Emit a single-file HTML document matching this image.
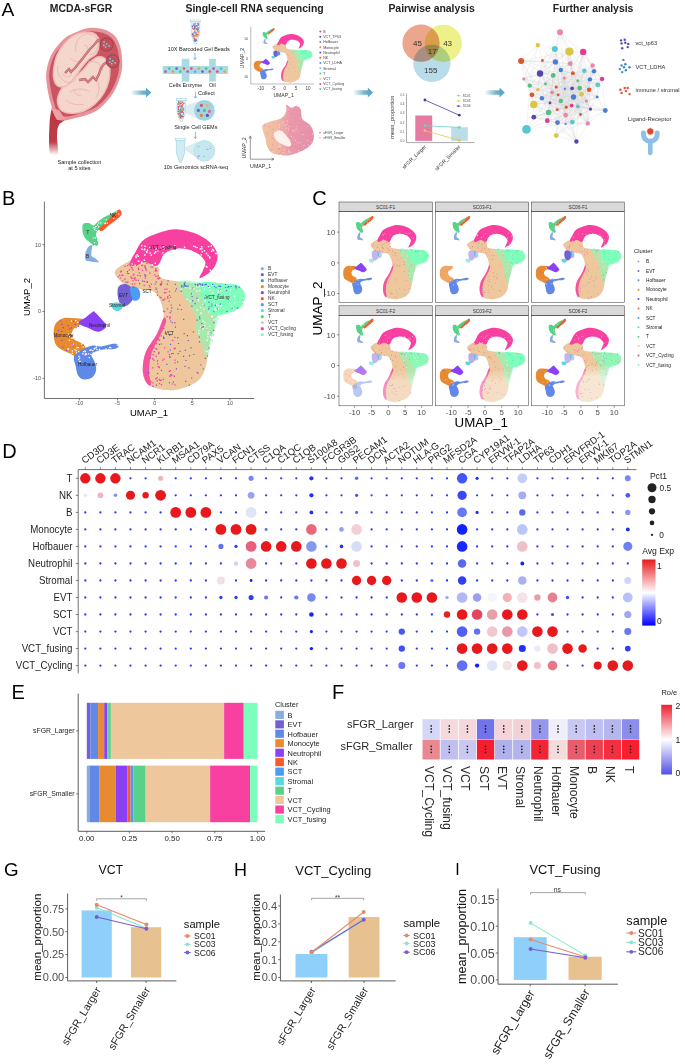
<!DOCTYPE html>
<html><head><meta charset="utf-8"><style>
html,body{margin:0;padding:0;background:#fff;width:685px;height:1064px;overflow:hidden}
svg{display:block}
text{font-family:"Liberation Sans", sans-serif}
</style></head><body>
<svg width="685" height="1064" viewBox="0 0 685 1064">
<defs><linearGradient id="gfade" x1="0" y1="0" x2="0" y2="1"><stop offset="0" stop-color="#fff" stop-opacity="0"/><stop offset="0.3" stop-color="#fff" stop-opacity="1"/><stop offset="1" stop-color="#fff" stop-opacity="1"/></linearGradient></defs>
<rect width="685" height="1064" fill="#fff"/>
<linearGradient id="garr" x1="0" y1="0" x2="1" y2="0"><stop offset="0" stop-color="#62a9c9" stop-opacity="0.05"/><stop offset="0.55" stop-color="#62a9c9" stop-opacity="0.85"/><stop offset="0.75" stop-color="#62a9c9"/><stop offset="1" stop-color="#5aa4c6"/></linearGradient>
<text x="1.6" y="15.8" font-size="19.2" text-anchor="start" fill="#000" font-weight="normal" >A</text>
<text transform="translate(81.0,11.8) scale(1,1.08)" font-size="10.45" text-anchor="middle" fill="#222" font-weight="bold" >MCDA-sFGR</text>
<text transform="translate(254.6,11.9) scale(1,1.08)" font-size="10.45" text-anchor="middle" fill="#222" font-weight="bold" >Single-cell RNA sequencing</text>
<text transform="translate(431.6,11.9) scale(1,1.08)" font-size="10.45" text-anchor="middle" fill="#222" font-weight="bold" >Pairwise analysis</text>
<text transform="translate(593.1,11.9) scale(1,1.08)" font-size="10.45" text-anchor="middle" fill="#222" font-weight="bold" >Further analysis</text>
<linearGradient id="gst" x1="0" y1="0" x2="0" y2="1"><stop offset="0" stop-color="#b8363f"/><stop offset="0.72" stop-color="#be3e48"/><stop offset="1" stop-color="#ffffff"/></linearGradient>
<path d="M52.3,108.0 C51.3,108.6 50.3,116.3 50.0,118.0 C49.7,119.7 49.6,123.0 49.5,125.0 C49.4,127.0 49.0,135.1 49.0,138.0 C49.0,140.9 49.1,152.4 50.0,154.0 C50.9,155.6 57.3,155.6 58.0,154.0 C58.7,152.4 57.0,140.5 57.0,138.0 C57.0,135.5 57.2,130.4 57.5,129.0 C57.8,127.6 58.8,125.0 59.5,124.0 C60.2,123.0 65.0,120.7 65.0,119.5 C65.0,118.3 61.3,113.2 60.0,112.0 C58.7,110.8 53.3,107.4 52.3,108.0Z" fill="url(#gst)"/>
<path d="M46.1,75.2 C46.2,70.2 47.4,65.9 48.5,62.0 C49.6,58.1 51.1,55.2 53.0,52.0 C54.9,48.8 57.7,45.6 60.0,43.0 C62.3,40.4 64.3,38.3 67.0,36.5 C69.7,34.7 73.1,33.5 75.9,32.3 C78.7,31.0 81.4,29.8 84.0,29.0 C86.6,28.2 88.6,27.8 91.3,27.7 C94.0,27.6 97.2,27.9 100.0,28.5 C102.8,29.1 105.4,29.6 108.0,31.0 C110.6,32.4 113.7,34.4 115.7,36.9 C117.7,39.4 119.0,42.5 120.0,46.0 C121.0,49.5 121.8,53.7 122.0,58.0 C122.2,62.3 122.5,67.0 121.5,72.0 C120.5,77.0 118.2,83.3 116.0,88.0 C113.8,92.7 110.8,96.5 108.0,100.0 C105.2,103.5 102.2,106.5 98.9,108.9 C95.6,111.3 91.8,113.0 88.0,114.5 C84.2,116.0 79.9,117.1 75.9,118.1 C71.9,119.1 67.3,120.5 64.0,120.5 C60.7,120.5 58.1,120.5 56.0,118.0 C53.9,115.5 52.7,110.1 51.4,105.8 C50.1,101.5 48.9,97.1 48.0,92.0 C47.1,86.9 46.0,80.2 46.1,75.2Z" fill="#e8939a"/>
<path d="M49.2,74.9 C49.3,70.3 50.4,66.4 51.4,62.8 C52.5,59.2 53.8,56.5 55.6,53.6 C57.3,50.7 59.9,47.7 62.0,45.3 C64.1,42.9 66.0,41.0 68.4,39.3 C70.9,37.7 74.0,36.6 76.6,35.5 C79.2,34.3 81.7,33.1 84.1,32.4 C86.4,31.7 88.3,31.3 90.8,31.2 C93.2,31.2 96.2,31.5 98.8,32.0 C101.4,32.5 103.8,33.0 106.2,34.3 C108.6,35.6 111.4,37.4 113.2,39.7 C115.1,42.0 116.2,44.8 117.2,48.1 C118.2,51.3 118.8,55.1 119.0,59.1 C119.3,63.1 119.5,67.4 118.6,72.0 C117.7,76.6 115.6,82.4 113.5,86.7 C111.4,91.0 108.8,94.6 106.2,97.8 C103.5,101.0 100.9,103.7 97.8,105.9 C94.7,108.2 91.3,109.7 87.8,111.1 C84.2,112.5 80.3,113.5 76.6,114.4 C72.9,115.3 68.7,116.6 65.7,116.6 C62.6,116.6 60.3,116.6 58.3,114.3 C56.4,112.1 55.3,107.1 54.1,103.1 C52.9,99.1 51.8,95.1 51.0,90.4 C50.1,85.7 49.1,79.5 49.2,74.9Z" fill="#cb5461"/>
<path d="M51,108 L57,120 L65,119 L59,110 Z" fill="#eda0a6"/>
<path d="M57.6,98.0 C58.3,95.2 59.6,91.0 62.0,88.0 C64.4,85.0 68.7,82.8 72.0,80.0 C75.3,77.2 79.0,74.0 82.0,71.0 C85.0,68.0 87.3,64.3 90.0,62.0 C92.7,59.7 95.5,57.6 98.0,57.0 C100.5,56.4 103.1,57.0 105.0,58.5 C106.9,60.0 108.8,62.4 109.5,66.0 C110.2,69.6 109.9,75.5 109.0,80.0 C108.1,84.5 106.3,89.0 104.0,93.0 C101.7,97.0 98.3,101.0 95.0,104.0 C91.7,107.0 87.8,109.4 84.0,111.0 C80.2,112.6 75.7,113.4 72.0,113.4 C68.3,113.4 64.3,112.4 62.0,111.0 C59.7,109.6 58.7,107.2 58.0,105.0 C57.3,102.8 56.9,100.8 57.6,98.0Z" fill="#f5d6cc" stroke="#f0bcb6" stroke-width="1.4"/>
<path d="M53.5,70.0 C54.0,65.8 55.2,59.3 57.0,55.0 C58.8,50.7 61.3,47.2 64.0,44.0 C66.7,40.8 69.8,37.9 73.0,36.0 C76.2,34.1 79.7,33.0 83.0,32.5 C86.3,32.0 90.4,32.1 93.0,33.0 C95.6,33.9 97.5,35.8 98.5,38.0 C99.5,40.2 99.4,43.3 99.0,46.0 C98.6,48.7 97.7,51.8 96.0,54.0 C94.3,56.2 91.3,56.8 89.0,59.0 C86.7,61.2 84.5,63.8 82.0,67.0 C79.5,70.2 76.7,74.8 74.0,78.0 C71.3,81.2 68.7,84.7 66.0,86.0 C63.3,87.3 60.0,87.0 58.0,86.0 C56.0,85.0 54.8,82.7 54.0,80.0 C53.2,77.3 53.0,74.2 53.5,70.0Z" fill="#f5d6cc" stroke="#f0bcb6" stroke-width="1.4"/>
<path d="M76,52 C74,44 78,36 86,34 C94,33 99,38 98,46 C97,51 94,54 90,55 M84,46 C86,44 88,46 87,49 M70,58 C74,62 80,63 84,59 M58,66 C56,72 60,79 66,82 C70,84 74,82 76,78 M62,74 C66,78 70,78 72,74 M88,62 C95,60 102,64 103,71 M70,92 C76,88 84,88 90,92 M66,100 C70,104 78,106 84,104 M74,90 C75,94 78,96 81,95 M96,78 C100,84 100,92 96,98" fill="none" stroke="#e4aca6" stroke-width="0.7"/>
<path d="M65,73 L69,69 L71,72 L75,68 L79,63 L83,58 L86,54 L90,49 L94,45 L98,40 L102,43" fill="none" stroke="#b85a62" stroke-width="2.3"/>
<path d="M65,73 L69,69 L71,72 L75,68 L79,63 L83,58 L86,54 L90,49 L94,45 L98,40 L102,43" fill="none" stroke="#d88488" stroke-width="1.3"/>
<path d="M79,80 L85,79 L88,82 L93,77 L96,80 L99,74 L101,68 L104,64 L108,62" fill="none" stroke="#b85a62" stroke-width="2.3"/>
<path d="M79,80 L85,79 L88,82 L93,77 L96,80 L99,74 L101,68 L104,64 L108,62" fill="none" stroke="#d88488" stroke-width="1.3"/>
<circle cx="106.6" cy="44.5" r="6.6" fill="#c64e5c" stroke="#5a3a3e" stroke-width="0.5"/>
<rect x="103.35" y="41.25" width="1.5" height="1.5" fill="#6ee0dc"/>
<rect x="105.85" y="43.25" width="1.5" height="1.5" fill="#6ee0dc"/>
<rect x="108.35" y="45.25" width="1.5" height="1.5" fill="#6ee0dc"/>
<rect x="104.85" y="46.25" width="1.5" height="1.5" fill="#6ee0dc"/>
<rect x="103.05" y="44.55" width="1.5" height="1.5" fill="#6ee0dc"/>
<circle cx="112.7" cy="61.3" r="6.6" fill="#c64e5c" stroke="#5a3a3e" stroke-width="0.5"/>
<rect x="109.45" y="58.05" width="1.5" height="1.5" fill="#6ee0dc"/>
<rect x="111.95" y="60.05" width="1.5" height="1.5" fill="#6ee0dc"/>
<rect x="114.45" y="62.05" width="1.5" height="1.5" fill="#6ee0dc"/>
<rect x="110.95" y="63.05" width="1.5" height="1.5" fill="#6ee0dc"/>
<rect x="109.15" y="61.349999999999994" width="1.5" height="1.5" fill="#6ee0dc"/>
<text x="79.4" y="163.6" font-size="5.6" text-anchor="middle" fill="#222" font-weight="normal" >Sample collection</text>
<text x="79.4" y="169.6" font-size="5.6" text-anchor="middle" fill="#222" font-weight="normal" >at 5 sites</text>
<path d="M131.1,90.44999999999999 L146.0,90.44999999999999 L146.0,87.69999999999999 L151.3,92.6 L146.0,97.5 L146.0,94.75 L131.1,94.75 Z" fill="url(#garr)"/>
<path d="M353.4,90.35 L367.8,90.35 L367.8,87.6 L373.1,92.5 L367.8,97.4 L367.8,94.65 L353.4,94.65 Z" fill="url(#garr)"/>
<path d="M485.0,90.35 L499.5,90.35 L499.5,87.6 L504.8,92.5 L499.5,97.4 L499.5,94.65 L485.0,94.65 Z" fill="url(#garr)"/>
<rect x="190.39999999999998" y="20" width="10.1" height="1.8" fill="#ffffff" stroke="#8cc8dc" stroke-width="0.5"/>
<path d="M191.2,21.8 L199.7,21.8 L199.7,34.632000000000005 L196.45,43.6 L194.45,43.6 L191.2,34.632000000000005 Z" fill="#f4f8fa" stroke="#8cc8dc" stroke-width="0.5"/>
<circle cx="197.0" cy="34.4" r="0.75" fill="#e86040"/>
<circle cx="196.0" cy="40.2" r="0.75" fill="#50c0a0"/>
<circle cx="195.2" cy="23.5" r="0.75" fill="#5ab0e0"/>
<circle cx="198.0" cy="34.8" r="0.75" fill="#e84a8a"/>
<circle cx="197.8" cy="29.8" r="0.75" fill="#7a5cc8"/>
<circle cx="195.9" cy="32.9" r="0.75" fill="#e84a8a"/>
<circle cx="195.0" cy="36.3" r="0.75" fill="#5ab0e0"/>
<circle cx="196.2" cy="39.7" r="0.75" fill="#5ab0e0"/>
<circle cx="193.4" cy="36.9" r="0.75" fill="#50c0a0"/>
<circle cx="193.0" cy="34.3" r="0.75" fill="#e84a8a"/>
<circle cx="194.4" cy="40.7" r="0.75" fill="#5ab0e0"/>
<circle cx="194.7" cy="40.5" r="0.75" fill="#5ab0e0"/>
<circle cx="198.4" cy="28.3" r="0.75" fill="#50c0a0"/>
<circle cx="195.9" cy="39.0" r="0.75" fill="#5ab0e0"/>
<circle cx="195.9" cy="40.2" r="0.75" fill="#7a5cc8"/>
<circle cx="194.5" cy="28.4" r="0.75" fill="#5ab0e0"/>
<circle cx="194.8" cy="40.1" r="0.75" fill="#e8a040"/>
<circle cx="196.1" cy="28.5" r="0.75" fill="#e84a8a"/>
<circle cx="196.8" cy="33.9" r="0.75" fill="#e84a8a"/>
<circle cx="197.5" cy="28.7" r="0.75" fill="#7a5cc8"/>
<circle cx="193.6" cy="35.7" r="0.75" fill="#7a5cc8"/>
<circle cx="193.0" cy="35.9" r="0.75" fill="#e84a8a"/>
<circle cx="195.1" cy="40.3" r="0.75" fill="#7a5cc8"/>
<circle cx="197.3" cy="23.3" r="0.75" fill="#e8a040"/>
<circle cx="197.7" cy="29.9" r="0.75" fill="#7a5cc8"/>
<circle cx="193.4" cy="23.9" r="0.75" fill="#5ab0e0"/>
<circle cx="193.8" cy="25.2" r="0.75" fill="#7a5cc8"/>
<circle cx="194.5" cy="29.3" r="0.75" fill="#50c0a0"/>
<circle cx="195.2" cy="27.6" r="0.75" fill="#50c0a0"/>
<circle cx="196.9" cy="36.7" r="0.75" fill="#e8a040"/>
<circle cx="198.3" cy="23.7" r="0.75" fill="#e84a8a"/>
<circle cx="195.5" cy="26.8" r="0.75" fill="#e8a040"/>
<circle cx="195.0" cy="39.7" r="0.75" fill="#e86040"/>
<circle cx="194.2" cy="32.9" r="0.75" fill="#e8a040"/>
<circle cx="197.4" cy="28.6" r="0.75" fill="#e86040"/>
<circle cx="196.7" cy="25.7" r="0.75" fill="#7a5cc8"/>
<circle cx="192.5" cy="25.9" r="0.75" fill="#50c0a0"/>
<circle cx="194.8" cy="32.7" r="0.75" fill="#5ab0e0"/>
<circle cx="194.6" cy="36.5" r="0.75" fill="#e8a040"/>
<circle cx="194.9" cy="31.3" r="0.75" fill="#e84a8a"/>
<circle cx="195.7" cy="40.9" r="0.75" fill="#7a5cc8"/>
<circle cx="193.5" cy="29.1" r="0.75" fill="#e86040"/>
<circle cx="193.1" cy="33.3" r="0.75" fill="#7a5cc8"/>
<circle cx="195.0" cy="24.9" r="0.75" fill="#5ab0e0"/>
<circle cx="194.9" cy="24.1" r="0.75" fill="#5ab0e0"/>
<circle cx="198.7" cy="31.3" r="0.75" fill="#5ab0e0"/>
<circle cx="195.4" cy="40.8" r="0.75" fill="#7a5cc8"/>
<circle cx="194.4" cy="35.6" r="0.75" fill="#e8a040"/>
<circle cx="194.8" cy="28.3" r="0.75" fill="#5ab0e0"/>
<circle cx="197.5" cy="25.1" r="0.75" fill="#50c0a0"/>
<circle cx="195.7" cy="40.5" r="0.75" fill="#7a5cc8"/>
<circle cx="194.3" cy="38.8" r="0.75" fill="#7a5cc8"/>
<circle cx="197.3" cy="28.0" r="0.75" fill="#50c0a0"/>
<circle cx="197.3" cy="29.6" r="0.75" fill="#e8a040"/>
<circle cx="196.4" cy="35.7" r="0.75" fill="#e8a040"/>
<circle cx="196.8" cy="29.6" r="0.75" fill="#e8a040"/>
<circle cx="194.5" cy="38.2" r="0.75" fill="#e86040"/>
<circle cx="197.9" cy="36.1" r="0.75" fill="#e8a040"/>
<circle cx="196.0" cy="34.9" r="0.75" fill="#e84a8a"/>
<circle cx="197.2" cy="31.7" r="0.75" fill="#e8a040"/>
<circle cx="195.2" cy="35.3" r="0.75" fill="#50c0a0"/>
<circle cx="197.3" cy="34.8" r="0.75" fill="#e8a040"/>
<circle cx="194.4" cy="28.0" r="0.75" fill="#7a5cc8"/>
<circle cx="197.7" cy="29.4" r="0.75" fill="#e86040"/>
<circle cx="194.6" cy="31.2" r="0.75" fill="#e8a040"/>
<circle cx="195.6" cy="32.5" r="0.75" fill="#5ab0e0"/>
<circle cx="194.6" cy="26.6" r="0.75" fill="#7a5cc8"/>
<circle cx="192.7" cy="28.2" r="0.75" fill="#e86040"/>
<circle cx="193.7" cy="36.3" r="0.75" fill="#50c0a0"/>
<circle cx="198.3" cy="32.4" r="0.75" fill="#e8a040"/>
<circle cx="197.2" cy="34.4" r="0.75" fill="#e86040"/>
<circle cx="198.7" cy="27.9" r="0.75" fill="#5ab0e0"/>
<circle cx="195.1" cy="25.9" r="0.75" fill="#e86040"/>
<circle cx="197.1" cy="26.3" r="0.75" fill="#5ab0e0"/>
<circle cx="192.5" cy="34.5" r="0.75" fill="#7a5cc8"/>
<circle cx="194.8" cy="40.9" r="0.75" fill="#5ab0e0"/>
<circle cx="198.5" cy="25.0" r="0.75" fill="#7a5cc8"/>
<circle cx="192.4" cy="26.5" r="0.75" fill="#7a5cc8"/>
<circle cx="196.5" cy="29.4" r="0.75" fill="#e84a8a"/>
<circle cx="193.7" cy="33.8" r="0.75" fill="#e8a040"/>
<text x="198.7" y="50.8" font-size="5.5" text-anchor="middle" fill="#222" font-weight="normal" >10X Barcoded Gel Beads</text>
<path d="M195,53 V59.5 M193.5,57.7 L195,59.5 L196.5,57.7" stroke="#4a90c0" stroke-width="0.6" fill="none"/>
<path d="M195.4,132 V138.5 M193.9,136.7 L195.4,138.5 L196.9,136.7" stroke="#4a90c0" stroke-width="0.6" fill="none"/>
<path d="M195.4,91.5 V98 M193.9,96.2 L195.4,98 L196.9,96.2" stroke="#4a90c0" stroke-width="0.6" fill="none"/>
<rect x="162.7" y="66" width="65.5" height="8" fill="#a8dce2"/>
<rect x="181.7" y="58.8" width="7.6" height="22.8" fill="#a8dce2"/>
<rect x="209.2" y="58.8" width="6.6" height="22.8" fill="#a8dce2"/>
<circle cx="165.5" cy="71.6" r="1.35" fill="#e84a8a"/>
<circle cx="169.2" cy="68.6" r="1.35" fill="#5ab0e0"/>
<circle cx="172.9" cy="71.6" r="1.35" fill="#e8a040"/>
<circle cx="176.6" cy="68.6" r="1.35" fill="#7a5cc8"/>
<circle cx="180.3" cy="71.6" r="1.35" fill="#50c0a0"/>
<circle cx="184.0" cy="68.6" r="1.35" fill="#e86040"/>
<circle cx="187.7" cy="71.6" r="1.35" fill="#c050c0"/>
<circle cx="191.4" cy="68.6" r="1.35" fill="#e84a8a"/>
<circle cx="195.1" cy="71.6" r="1.35" fill="#5ab0e0"/>
<circle cx="198.8" cy="68.6" r="1.35" fill="#e8a040"/>
<circle cx="202.5" cy="71.6" r="1.35" fill="#7a5cc8"/>
<circle cx="206.2" cy="68.6" r="1.35" fill="#50c0a0"/>
<circle cx="209.9" cy="71.6" r="1.35" fill="#e86040"/>
<circle cx="213.6" cy="68.6" r="1.35" fill="#c050c0"/>
<circle cx="217.3" cy="71.6" r="1.35" fill="#e84a8a"/>
<circle cx="221.0" cy="68.6" r="1.35" fill="#5ab0e0"/>
<circle cx="224.7" cy="71.6" r="1.35" fill="#e8a040"/>
<text x="185.5" y="87.3" font-size="5.5" text-anchor="middle" fill="#222" font-weight="normal" >Cells Enzyme</text>
<text x="212.4" y="87.3" font-size="5.5" text-anchor="middle" fill="#222" font-weight="normal" >Oil</text>
<text x="198.0" y="94.8" font-size="5.5" text-anchor="start" fill="#222" font-weight="normal" >Collect</text>
<rect x="176.2" y="98.7" width="10.1" height="1.8" fill="#ffffff" stroke="#8cc8dc" stroke-width="0.5"/>
<path d="M177,100.5 L185.5,100.5 L185.5,112.774 L182.25,121.4 L180.25,121.4 L177,112.774 Z" fill="#f4f8fa" stroke="#8cc8dc" stroke-width="0.5"/>
<circle cx="180.6" cy="101.7" r="0.75" fill="#e8a040"/>
<circle cx="182.6" cy="116.6" r="0.75" fill="#e86040"/>
<circle cx="180.8" cy="116.2" r="0.75" fill="#e84a8a"/>
<circle cx="180.0" cy="111.3" r="0.75" fill="#e8a040"/>
<circle cx="180.2" cy="111.2" r="0.75" fill="#50c0a0"/>
<circle cx="180.3" cy="106.8" r="0.75" fill="#5ab0e0"/>
<circle cx="183.3" cy="109.0" r="0.75" fill="#e86040"/>
<circle cx="181.0" cy="111.1" r="0.75" fill="#5ab0e0"/>
<circle cx="181.7" cy="112.1" r="0.75" fill="#5ab0e0"/>
<circle cx="181.5" cy="118.6" r="0.75" fill="#e8a040"/>
<circle cx="181.9" cy="116.0" r="0.75" fill="#7a5cc8"/>
<circle cx="181.7" cy="103.6" r="0.75" fill="#50c0a0"/>
<circle cx="180.1" cy="111.1" r="0.75" fill="#50c0a0"/>
<circle cx="180.8" cy="108.3" r="0.75" fill="#5ab0e0"/>
<circle cx="181.1" cy="110.3" r="0.75" fill="#e86040"/>
<circle cx="184.2" cy="108.3" r="0.75" fill="#5ab0e0"/>
<circle cx="179.7" cy="112.1" r="0.75" fill="#e8a040"/>
<circle cx="180.7" cy="110.4" r="0.75" fill="#e8a040"/>
<circle cx="180.8" cy="118.2" r="0.75" fill="#e8a040"/>
<circle cx="178.2" cy="104.2" r="0.75" fill="#e86040"/>
<circle cx="180.9" cy="112.5" r="0.75" fill="#e8a040"/>
<circle cx="178.9" cy="102.4" r="0.75" fill="#7a5cc8"/>
<circle cx="181.5" cy="101.9" r="0.75" fill="#e8a040"/>
<circle cx="181.1" cy="105.9" r="0.75" fill="#e84a8a"/>
<circle cx="179.7" cy="106.0" r="0.75" fill="#5ab0e0"/>
<circle cx="180.1" cy="114.3" r="0.75" fill="#7a5cc8"/>
<circle cx="181.1" cy="112.3" r="0.75" fill="#e86040"/>
<circle cx="182.6" cy="116.8" r="0.75" fill="#e84a8a"/>
<circle cx="178.8" cy="102.0" r="0.75" fill="#e8a040"/>
<circle cx="180.2" cy="111.0" r="0.75" fill="#e8a040"/>
<circle cx="178.8" cy="114.4" r="0.75" fill="#e8a040"/>
<circle cx="182.8" cy="108.0" r="0.75" fill="#50c0a0"/>
<circle cx="178.0" cy="104.0" r="0.75" fill="#50c0a0"/>
<circle cx="184.0" cy="109.6" r="0.75" fill="#e86040"/>
<circle cx="178.1" cy="111.2" r="0.75" fill="#7a5cc8"/>
<circle cx="182.5" cy="112.1" r="0.75" fill="#e86040"/>
<circle cx="183.5" cy="113.0" r="0.75" fill="#7a5cc8"/>
<circle cx="182.4" cy="110.0" r="0.75" fill="#e86040"/>
<circle cx="179.9" cy="105.1" r="0.75" fill="#e84a8a"/>
<circle cx="178.0" cy="107.0" r="0.75" fill="#7a5cc8"/>
<circle cx="182.2" cy="111.8" r="0.75" fill="#7a5cc8"/>
<circle cx="180.2" cy="117.6" r="0.75" fill="#7a5cc8"/>
<circle cx="183.5" cy="113.8" r="0.75" fill="#e8a040"/>
<circle cx="180.8" cy="111.1" r="0.75" fill="#50c0a0"/>
<circle cx="179.4" cy="115.9" r="0.75" fill="#5ab0e0"/>
<circle cx="178.6" cy="106.4" r="0.75" fill="#e84a8a"/>
<circle cx="178.3" cy="113.3" r="0.75" fill="#e86040"/>
<circle cx="178.4" cy="109.2" r="0.75" fill="#7a5cc8"/>
<circle cx="178.7" cy="113.9" r="0.75" fill="#e84a8a"/>
<circle cx="182.2" cy="105.5" r="0.75" fill="#e84a8a"/>
<circle cx="179.2" cy="114.1" r="0.75" fill="#e8a040"/>
<circle cx="180.9" cy="114.0" r="0.75" fill="#5ab0e0"/>
<circle cx="180.7" cy="112.3" r="0.75" fill="#5ab0e0"/>
<circle cx="179.4" cy="102.9" r="0.75" fill="#50c0a0"/>
<circle cx="180.5" cy="103.6" r="0.75" fill="#e84a8a"/>
<circle cx="181.7" cy="106.6" r="0.75" fill="#e84a8a"/>
<circle cx="183.2" cy="114.6" r="0.75" fill="#5ab0e0"/>
<circle cx="178.6" cy="101.9" r="0.75" fill="#e86040"/>
<circle cx="181.2" cy="112.2" r="0.75" fill="#e86040"/>
<circle cx="178.4" cy="108.2" r="0.75" fill="#e86040"/>
<circle cx="181.7" cy="106.8" r="0.75" fill="#e86040"/>
<circle cx="183.9" cy="110.5" r="0.75" fill="#50c0a0"/>
<circle cx="179.4" cy="111.3" r="0.75" fill="#e84a8a"/>
<circle cx="179.7" cy="111.3" r="0.75" fill="#e8a040"/>
<circle cx="178.9" cy="110.7" r="0.75" fill="#5ab0e0"/>
<circle cx="181.1" cy="116.8" r="0.75" fill="#7a5cc8"/>
<circle cx="182.6" cy="104.8" r="0.75" fill="#e86040"/>
<circle cx="181.7" cy="107.7" r="0.75" fill="#e84a8a"/>
<circle cx="178.8" cy="103.3" r="0.75" fill="#50c0a0"/>
<circle cx="180.5" cy="109.6" r="0.75" fill="#7a5cc8"/>
<circle cx="180.1" cy="110.1" r="0.75" fill="#50c0a0"/>
<circle cx="182.7" cy="102.2" r="0.75" fill="#e84a8a"/>
<circle cx="182.9" cy="116.5" r="0.75" fill="#7a5cc8"/>
<circle cx="179.6" cy="113.6" r="0.75" fill="#e84a8a"/>
<circle cx="183.9" cy="103.2" r="0.75" fill="#7a5cc8"/>
<circle cx="179.8" cy="116.0" r="0.75" fill="#50c0a0"/>
<circle cx="183.4" cy="108.3" r="0.75" fill="#e8a040"/>
<circle cx="182.0" cy="107.5" r="0.75" fill="#e8a040"/>
<circle cx="180.7" cy="115.6" r="0.75" fill="#e86040"/>
<circle cx="181.8" cy="116.2" r="0.75" fill="#e86040"/>
<path d="M184,106 L200,101 L200,120 L184,112 Z" fill="#cfe8f0" opacity="0.8"/>
<circle cx="204.4" cy="110.4" r="10.4" fill="#9ed6e0"/>
<circle cx="201.4" cy="105.4" r="1.6" fill="#e84a8a"/>
<circle cx="207.4" cy="105.4" r="1.6" fill="#e8b080"/>
<circle cx="198.4" cy="110.4" r="1.6" fill="#5a70d0"/>
<circle cx="204.4" cy="110.4" r="1.6" fill="#50c0a0"/>
<circle cx="209.4" cy="111.4" r="1.6" fill="#e86090"/>
<circle cx="201.4" cy="115.4" r="1.6" fill="#e88030"/>
<circle cx="207.4" cy="115.4" r="1.6" fill="#6050c0"/>
<text x="195.9" y="129.3" font-size="5.5" text-anchor="middle" fill="#222" font-weight="normal" >Single Cell GEMs</text>
<rect x="175.6" y="138.5" width="9.9" height="1.8" fill="#ffffff" stroke="#8cc8dc" stroke-width="0.5"/>
<path d="M176.4,140.3 L184.70000000000002,140.3 L184.70000000000002,153.194 L181.55,162.2 L179.55,162.2 L176.4,153.194 Z" fill="#d2ecf2" stroke="#8cc8dc" stroke-width="0.5"/>
<path d="M185,147 L200,141 L200,160 L185,150 Z" fill="#cfe8f0" opacity="0.8"/>
<circle cx="204.4" cy="150.9" r="10.4" fill="#c4e8ee" stroke="#a8dce4" stroke-width="0.6"/>
<rect x="203.1" y="155.9" width="1.2" height="0.5" fill="#50c0a0"/>
<rect x="197.5" y="157.9" width="1.2" height="0.5" fill="#5ab0e0"/>
<rect x="207.4" y="149.5" width="1.2" height="0.5" fill="#e84a8a"/>
<rect x="197.5" y="146.6" width="1.2" height="0.5" fill="#5ab0e0"/>
<rect x="197.6" y="156.4" width="1.2" height="0.5" fill="#7a5cc8"/>
<rect x="206.3" y="148.9" width="1.2" height="0.5" fill="#7a5cc8"/>
<rect x="203.6" y="156.5" width="1.2" height="0.5" fill="#50c0a0"/>
<rect x="209.9" y="148.5" width="1.2" height="0.5" fill="#7a5cc8"/>
<rect x="198.4" y="146.2" width="1.2" height="0.5" fill="#5ab0e0"/>
<rect x="198.0" y="156.2" width="1.2" height="0.5" fill="#c050c0"/>
<rect x="209.3" y="146.1" width="1.2" height="0.5" fill="#e8a040"/>
<rect x="198.5" y="155.5" width="1.2" height="0.5" fill="#c050c0"/>
<text x="195.9" y="169.3" font-size="5.5" text-anchor="middle" fill="#222" font-weight="normal" >10x Genomics scRNA-seq</text>
<path d="M250.8,26.9 V84 H314" fill="none" stroke="#555" stroke-width="0.4"/>
<g transform="translate(284.7,58.8) scale(0.305,0.302) translate(-154.7,-311.5)"><path d="M115.3,270.4 C116.8,268.0 122.2,264.8 126.3,262.7 C130.4,260.6 136.1,258.1 140.0,258.0 C143.9,257.9 146.8,260.3 150.0,262.0 C153.2,263.7 157.2,265.3 159.1,268.0 C161.0,270.7 156.6,275.6 161.3,278.0 C166.1,280.4 180.3,281.5 187.6,282.4 C194.9,283.3 197.8,283.1 205.1,283.5 C212.4,283.9 225.2,283.5 231.4,284.6 C237.6,285.7 240.1,287.6 242.3,290.0 C244.5,292.4 244.9,295.9 244.5,298.8 C244.1,301.7 243.8,305.4 240.1,307.6 C236.4,309.8 226.6,310.2 222.6,312.0 C218.6,313.8 217.4,315.6 216.0,318.5 C214.6,321.4 215.0,325.1 213.9,329.5 C212.8,333.9 211.0,338.2 209.5,344.8 C208.0,351.4 207.3,362.7 205.1,368.9 C202.9,375.1 201.1,378.5 196.3,382.0 C191.6,385.5 183.2,388.6 176.6,389.7 C170.0,390.8 162.0,389.9 156.9,388.6 C151.8,387.3 148.4,385.3 146.0,382.0 C143.6,378.7 142.7,374.0 142.7,368.9 C142.7,363.8 143.6,357.2 146.0,351.4 C148.4,345.6 154.0,339.4 156.9,333.9 C159.8,328.4 162.8,323.6 163.5,318.5 C164.2,313.4 162.8,307.6 161.3,303.2 C159.8,298.8 157.6,294.5 154.7,292.3 C151.8,290.1 147.4,290.7 143.8,290.0 C140.2,289.3 136.3,289.0 133.0,288.0 C129.7,287.0 126.7,285.8 124.0,284.0 C121.3,282.2 118.5,279.3 117.0,277.0 C115.5,274.7 113.8,272.8 115.3,270.4Z" fill="#eec89c" opacity="1"/>
<path d="M182.6,280.5 C186.9,279.8 197.4,282.4 205.0,283.0 C212.6,283.6 222.4,283.5 228.0,284.0 C233.6,284.5 235.8,284.1 238.6,285.8 C241.4,287.6 244.2,291.3 244.8,294.5 C245.4,297.7 244.0,302.2 242.1,305.0 C240.2,307.8 236.9,309.6 233.4,311.2 C229.9,312.8 223.7,312.8 221.1,314.7 C218.5,316.6 219.1,319.0 217.6,322.6 C216.1,326.2 214.1,330.8 212.3,336.6 C210.6,342.4 208.6,355.6 207.1,357.6 C205.6,359.6 205.3,353.2 203.6,348.8 C201.8,344.4 198.1,337.1 196.6,331.3 C195.1,325.5 197.7,321.1 194.8,313.8 C191.9,306.5 181.0,293.1 179.0,287.5 C177.0,281.9 178.3,281.2 182.6,280.5Z" fill="#7cffba" opacity="0.55"/>
<path d="M200.0,283.0 C204.2,280.3 221.6,283.5 228.0,284.0 C234.4,284.5 235.8,284.1 238.6,285.8 C241.4,287.6 244.2,291.3 244.8,294.5 C245.4,297.7 244.0,302.2 242.1,305.0 C240.2,307.8 236.9,309.6 233.4,311.2 C229.9,312.8 225.0,314.4 221.1,314.7 C217.2,315.0 213.0,315.4 210.0,313.0 C207.0,310.6 204.7,305.0 203.0,300.0 C201.3,295.0 195.8,285.7 200.0,283.0Z" fill="#7cffba" opacity="1"/>
<path d="M130.0,263.0 C130.2,260.5 133.7,254.9 136.0,251.0 C138.3,247.1 139.6,242.9 143.8,239.7 C148.0,236.5 155.8,233.8 161.3,232.0 C166.8,230.2 171.1,229.0 176.6,229.2 C182.1,229.4 188.7,231.0 194.2,233.1 C199.7,235.2 205.7,238.6 209.5,241.9 C213.3,245.2 216.0,249.2 217.1,252.8 C218.2,256.4 217.3,260.5 216.0,263.8 C214.7,267.1 212.2,270.1 209.5,272.5 C206.8,274.9 200.7,278.4 199.6,278.0 C198.5,277.6 202.0,273.1 202.9,270.4 C203.8,267.7 206.2,264.5 205.1,261.6 C204.0,258.7 200.3,255.0 196.3,252.8 C192.3,250.6 186.1,248.5 181.0,248.5 C175.9,248.5 169.3,250.2 165.7,252.8 C162.0,255.4 160.9,261.6 159.1,263.8 C157.3,266.0 157.3,266.3 155.0,266.0 C152.7,265.7 148.3,262.0 145.0,262.0 C141.7,262.0 137.5,265.8 135.0,266.0 C132.5,266.2 129.8,265.5 130.0,263.0Z" fill="#f840a0" opacity="1"/>
<path d="M163.5,318.0 C162.0,320.0 159.8,328.3 156.9,333.9 C154.0,339.5 148.4,345.6 146.0,351.4 C143.6,357.2 142.7,363.8 142.7,368.9 C142.7,374.0 144.6,379.3 146.0,382.0 C147.4,384.7 150.5,387.0 151.0,385.0 C151.5,383.0 148.8,375.5 149.0,370.0 C149.2,364.5 150.2,357.7 152.0,352.0 C153.8,346.3 157.7,341.0 160.0,336.0 C162.3,331.0 165.4,325.0 166.0,322.0 C166.6,319.0 165.0,316.0 163.5,318.0Z" fill="#f840a0" opacity="0.85"/>
<path d="M83.0,224.1 C84.0,222.6 87.1,222.9 88.8,223.1 C90.5,223.3 91.7,225.7 93.2,225.5 C94.7,225.3 95.9,223.2 97.6,221.9 C99.3,220.6 101.2,218.8 103.4,217.5 C105.6,216.2 108.3,215.1 110.7,213.9 C113.1,212.7 116.4,210.4 118.0,210.2 C119.6,209.9 120.2,211.4 120.2,212.4 C120.2,213.4 119.8,214.5 118.0,216.1 C116.2,217.7 112.1,219.8 109.2,221.9 C106.3,224.0 102.7,226.6 100.5,228.5 C98.3,230.4 96.5,231.0 96.1,233.6 C95.7,236.2 98.5,241.7 98.3,243.8 C98.0,245.9 96.2,246.4 94.6,246.0 C93.0,245.6 90.4,242.9 88.8,241.6 C87.2,240.3 86.1,239.6 85.1,238.0 C84.1,236.4 83.0,234.4 82.7,232.1 C82.4,229.8 82.0,225.6 83.0,224.1Z" fill="#58d288" opacity="1"/>
<path d="M99.0,228.5 C99.8,226.8 104.4,223.5 107.0,221.0 C109.6,218.5 112.5,215.4 114.5,213.5 C116.5,211.6 117.8,209.8 119.0,209.5 C120.2,209.2 121.2,210.9 121.5,212.0 C121.8,213.1 121.4,214.7 120.5,216.0 C119.6,217.3 118.1,218.3 116.0,220.0 C113.9,221.7 110.3,224.2 108.0,226.0 C105.7,227.8 103.5,230.6 102.0,231.0 C100.5,231.4 98.2,230.2 99.0,228.5Z" fill="#f85a2a" opacity="1"/>
<path d="M88.5,246.7 C89.5,245.9 91.7,244.6 92.2,245.3 C92.7,246.0 91.6,249.2 91.5,251.0 C91.4,252.8 90.7,254.7 91.5,256.0 C92.3,257.3 94.9,257.9 96.1,259.0 C97.3,260.1 99.3,261.8 98.6,262.3 C97.9,262.8 93.8,262.1 91.7,261.8 C89.6,261.5 87.0,261.6 85.9,260.5 C84.8,259.4 85.0,256.8 85.1,255.0 C85.2,253.2 85.9,251.4 86.5,250.0 C87.1,248.6 87.5,247.5 88.5,246.7Z" fill="#86aede" opacity="1"/>
<path d="M53.8,329.6 C54.2,326.4 55.0,324.2 56.7,322.3 C58.4,320.4 61.1,318.7 64.0,318.0 C66.9,317.3 71.0,318.0 74.2,318.2 C77.4,318.4 81.9,318.3 83.0,319.4 C84.1,320.4 82.3,323.1 81.0,324.5 C79.7,325.9 76.5,326.1 75.0,327.5 C73.5,328.9 72.1,331.0 72.0,333.0 C71.9,335.0 72.8,337.8 74.5,339.5 C76.2,341.2 80.1,342.0 82.0,343.5 C83.9,345.0 85.5,346.1 85.9,348.6 C86.3,351.2 85.6,356.6 84.4,358.8 C83.2,361.0 80.3,362.3 78.6,361.8 C76.9,361.3 76.4,357.6 74.2,355.9 C72.0,354.2 68.1,352.9 65.4,351.5 C62.7,350.1 59.9,348.9 58.1,347.2 C56.3,345.5 55.2,344.2 54.5,341.3 C53.8,338.4 53.4,332.8 53.8,329.6Z" fill="#e88a30" opacity="1"/>
<path d="M78.6,322.3 C79.3,320.9 83.5,319.0 85.9,317.2 C88.3,315.4 91.6,312.1 93.2,311.4 C94.8,310.7 94.2,311.7 95.4,312.8 C96.6,313.9 98.7,315.9 100.5,318.0 C102.3,320.1 105.8,323.4 106.3,325.3 C106.8,327.2 104.9,328.5 103.4,329.6 C102.0,330.7 100.0,332.0 97.6,331.8 C95.2,331.6 91.5,329.3 88.8,328.2 C86.1,327.1 83.2,326.3 81.5,325.3 C79.8,324.3 77.9,323.7 78.6,322.3Z" fill="#8a40f4" opacity="1"/>
<path d="M74.2,355.9 C75.7,353.0 81.5,350.3 84.4,348.6 C87.3,346.9 89.0,346.1 91.7,345.7 C94.4,345.3 97.3,346.6 100.5,346.4 C103.7,346.1 107.9,344.6 110.7,344.2 C113.5,343.8 116.1,343.7 117.3,344.2 C118.5,344.7 118.8,346.3 118.0,347.2 C117.2,348.1 115.1,348.8 112.2,349.3 C109.3,349.8 103.9,349.2 100.5,350.1 C97.1,351.0 92.7,352.6 91.7,354.5 C90.7,356.4 93.9,359.1 94.6,361.8 C95.3,364.5 96.6,367.8 96.1,370.5 C95.6,373.2 93.9,376.3 91.7,377.8 C89.5,379.3 85.3,379.8 83.0,379.3 C80.7,378.8 79.0,377.1 77.8,374.9 C76.6,372.7 76.3,369.3 75.7,366.1 C75.1,362.9 72.8,358.8 74.2,355.9Z" fill="#6088e6" opacity="1"/>
<path d="M119.0,286.0 C120.2,284.7 123.0,283.8 125.0,284.0 C127.0,284.2 129.5,285.7 131.0,287.0 C132.5,288.3 133.7,290.0 134.0,292.0 C134.3,294.0 134.0,296.8 133.0,299.0 C132.0,301.2 129.8,303.8 128.0,305.0 C126.2,306.2 123.6,306.8 122.0,306.0 C120.4,305.2 119.2,302.3 118.5,300.0 C117.8,297.7 117.4,294.3 117.5,292.0 C117.6,289.7 117.8,287.3 119.0,286.0Z" fill="#7360d2" opacity="1"/>
<path d="M130.0,288.0 C130.5,285.8 134.3,286.3 136.0,287.0 C137.7,287.7 139.5,290.0 140.0,292.0 C140.5,294.0 140.2,297.7 139.0,299.0 C137.8,300.3 134.5,301.8 133.0,300.0 C131.5,298.2 129.5,290.2 130.0,288.0Z" fill="#4a9cf4" opacity="1"/>
<path d="M111.0,304.0 C111.5,302.8 115.0,302.3 117.0,302.5 C119.0,302.7 122.5,303.7 123.0,305.0 C123.5,306.3 121.5,309.7 120.0,310.5 C118.5,311.3 115.5,311.1 114.0,310.0 C112.5,308.9 110.5,305.2 111.0,304.0Z" fill="#5ad8dc" opacity="1"/>
<path fill="#6a5ad0" d="M197.5 321.2h1.2v1.2h-1.2zM180.7 289.2h1.2v1.2h-1.2zM218.2 288.7h1.2v1.2h-1.2zM145.3 263.6h1.2v1.2h-1.2zM238.8 306.6h1.2v1.2h-1.2zM173.9 330.9h1.2v1.2h-1.2zM139.3 262.9h1.2v1.2h-1.2zM227.6 289.0h1.2v1.2h-1.2zM216.4 285.5h1.2v1.2h-1.2zM190.5 354.3h1.2v1.2h-1.2zM222.5 284.5h1.2v1.2h-1.2zM168.2 306.2h1.2v1.2h-1.2zM173.7 308.9h1.2v1.2h-1.2zM118.5 270.3h1.2v1.2h-1.2zM179.5 322.9h1.2v1.2h-1.2zM186.6 356.8h1.2v1.2h-1.2zM187.3 340.2h1.2v1.2h-1.2zM138.5 280.5h1.2v1.2h-1.2z"/>
<path fill="#f840a0" d="M134.1 283.1h1.3v1.3h-1.3zM131.9 262.3h1.3v1.3h-1.3zM157.7 273.7h1.3v1.3h-1.3zM152.6 286.4h1.3v1.3h-1.3zM164.4 298.2h1.3v1.3h-1.3zM167.9 282.8h1.3v1.3h-1.3zM163.6 278.6h1.3v1.3h-1.3zM135.7 268.4h1.3v1.3h-1.3zM157.6 278.3h1.3v1.3h-1.3zM129.2 270.2h1.3v1.3h-1.3zM138.1 265.2h1.3v1.3h-1.3zM118.8 272.2h1.3v1.3h-1.3z"/>
<path fill="#f840a0" d="M171.5 388.5h1.3v1.3h-1.3zM166.1 343.1h1.3v1.3h-1.3zM158.4 365.6h1.3v1.3h-1.3zM169.3 371.6h1.3v1.3h-1.3zM170.9 354.1h1.3v1.3h-1.3zM154.9 352.3h1.3v1.3h-1.3zM169.7 327.7h1.3v1.3h-1.3zM166.9 300.9h1.3v1.3h-1.3z"/>
<path fill="#ffffff" d="M154.5 264.4h1.4v1.4h-1.4zM197.2 251.3h1.4v1.4h-1.4zM174.2 248.2h1.4v1.4h-1.4zM161.6 253.3h1.4v1.4h-1.4zM209.6 268.5h1.4v1.4h-1.4zM195.5 252.0h1.4v1.4h-1.4zM156.9 261.4h1.4v1.4h-1.4zM139.6 263.4h1.4v1.4h-1.4zM144.0 259.1h1.4v1.4h-1.4z"/>
<path fill="#ffffff" d="M197.3 310.3h1.3v1.3h-1.3zM207.8 329.4h1.3v1.3h-1.3zM197.5 293.9h1.3v1.3h-1.3zM204.4 301.8h1.3v1.3h-1.3zM225.2 299.2h1.3v1.3h-1.3zM203.4 290.8h1.3v1.3h-1.3zM213.9 283.9h1.3v1.3h-1.3zM215.4 298.0h1.3v1.3h-1.3zM191.4 284.8h1.3v1.3h-1.3zM231.8 307.0h1.3v1.3h-1.3zM196.8 308.3h1.3v1.3h-1.3zM198.7 330.2h1.3v1.3h-1.3z"/>
<path fill="#7cffba" d="M237.7 285.7h1.4v1.4h-1.4zM223.7 295.2h1.4v1.4h-1.4zM196.8 284.7h1.4v1.4h-1.4zM189.4 288.3h1.4v1.4h-1.4zM206.0 335.3h1.4v1.4h-1.4zM193.1 283.2h1.4v1.4h-1.4zM202.3 322.6h1.4v1.4h-1.4zM220.5 293.9h1.4v1.4h-1.4z"/>
<path fill="#4a70e0" d="M223.8 284.3h1.2v1.2h-1.2zM192.9 282.1h1.2v1.2h-1.2zM187.1 284.8h1.2v1.2h-1.2zM222.0 285.1h1.2v1.2h-1.2zM211.3 285.3h1.2v1.2h-1.2z"/>
<path fill="#ffffff" d="M70.7 337.6h1.3v1.3h-1.3zM72.4 353.1h1.3v1.3h-1.3zM77.3 349.9h1.3v1.3h-1.3zM74.9 343.2h1.3v1.3h-1.3z"/>
<path fill="#8a40f4" d="M59.5 327.2h1.2v1.2h-1.2zM77.2 353.6h1.2v1.2h-1.2z"/>
<path fill="#ffffff" d="M90.5 353.0h1.3v1.3h-1.3zM77.4 355.1h1.3v1.3h-1.3zM101.9 349.3h1.3v1.3h-1.3z"/>
<path fill="#ffffff" d="M108.6 220.9h1.2v1.2h-1.2zM95.1 234.0h1.2v1.2h-1.2zM99.3 228.5h1.2v1.2h-1.2z"/></g>
<text x="248.2" y="39.7" font-size="3.8" text-anchor="end" fill="#555" font-weight="normal" >10</text>
<text x="248.2" y="59.7" font-size="3.8" text-anchor="end" fill="#555" font-weight="normal" >0</text>
<text x="248.2" y="77.9" font-size="3.8" text-anchor="end" fill="#555" font-weight="normal" >10</text>
<text x="260.7" y="89.9" font-size="4.6" text-anchor="middle" fill="#444" font-weight="normal" >-10</text>
<text x="273.5" y="89.9" font-size="4.6" text-anchor="middle" fill="#444" font-weight="normal" >-5</text>
<text x="284.8" y="89.9" font-size="4.6" text-anchor="middle" fill="#444" font-weight="normal" >0</text>
<text x="296.0" y="89.9" font-size="4.6" text-anchor="middle" fill="#444" font-weight="normal" >5</text>
<text x="308.0" y="89.9" font-size="4.6" text-anchor="middle" fill="#444" font-weight="normal" >10</text>
<text x="283.6" y="96.9" font-size="5.1" text-anchor="middle" fill="#333" font-weight="normal" >UMAP_1</text>
<text x="243.8" y="58" font-size="5.1" text-anchor="middle" fill="#333" transform="rotate(-90 243.8 58)">UMAP_2</text>
<circle cx="320.3" cy="31.5" r="1.0" fill="#e040a0"/>
<text x="323.2" y="32.8" font-size="3.6" text-anchor="start" fill="#444" font-weight="normal" >B</text>
<circle cx="320.3" cy="36.7" r="1.0" fill="#5a50b0"/>
<text x="323.2" y="38.0" font-size="3.6" text-anchor="start" fill="#444" font-weight="normal" >VCT_TP63</text>
<circle cx="320.3" cy="42.0" r="1.0" fill="#6088e6"/>
<text x="323.2" y="43.3" font-size="3.6" text-anchor="start" fill="#444" font-weight="normal" >Hofbauer</text>
<circle cx="320.3" cy="47.2" r="1.0" fill="#e88a30"/>
<text x="323.2" y="48.5" font-size="3.6" text-anchor="start" fill="#444" font-weight="normal" >Monocyte</text>
<circle cx="320.3" cy="52.5" r="1.0" fill="#8a40f4"/>
<text x="323.2" y="53.8" font-size="3.6" text-anchor="start" fill="#444" font-weight="normal" >Neutrophil</text>
<circle cx="320.3" cy="57.7" r="1.0" fill="#f85a2a"/>
<text x="323.2" y="59.0" font-size="3.6" text-anchor="start" fill="#444" font-weight="normal" >NK</text>
<circle cx="320.3" cy="62.9" r="1.0" fill="#4a9cf4"/>
<text x="323.2" y="64.2" font-size="3.6" text-anchor="start" fill="#444" font-weight="normal" >VCT_LDHA</text>
<circle cx="320.3" cy="68.2" r="1.0" fill="#5ad8dc"/>
<text x="323.2" y="69.5" font-size="3.6" text-anchor="start" fill="#444" font-weight="normal" >Stromal</text>
<circle cx="320.3" cy="73.4" r="1.0" fill="#58d288"/>
<text x="323.2" y="74.7" font-size="3.6" text-anchor="start" fill="#444" font-weight="normal" >T</text>
<circle cx="320.3" cy="78.7" r="1.0" fill="#eec89c"/>
<text x="323.2" y="80.0" font-size="3.6" text-anchor="start" fill="#444" font-weight="normal" >VCT</text>
<circle cx="320.3" cy="83.9" r="1.0" fill="#f840a0"/>
<text x="323.2" y="85.2" font-size="3.6" text-anchor="start" fill="#444" font-weight="normal" >VCT_Cycling</text>
<circle cx="320.3" cy="89.1" r="1.0" fill="#58d288"/>
<text x="323.2" y="90.4" font-size="3.6" text-anchor="start" fill="#444" font-weight="normal" >VCT_fusing</text>
<linearGradient id="gblob" x1="0" y1="0" x2="1" y2="0"><stop offset="0" stop-color="#f2c4a0"/><stop offset="0.3" stop-color="#f0b8a4"/><stop offset="0.55" stop-color="#ea98ac"/><stop offset="1" stop-color="#e690a8"/></linearGradient>
<path d="M286.4,104.6 C287.2,104.3 289.5,107.6 291.2,107.8 C292.9,108.0 295.2,105.6 296.8,105.9 C298.4,106.2 299.9,107.3 300.8,109.5 C301.7,111.7 300.8,116.4 302.4,119.1 C304.0,121.8 308.6,123.1 310.5,125.5 C312.4,127.9 313.3,130.8 313.7,133.5 C314.1,136.2 314.0,139.2 312.9,141.6 C311.8,144.0 310.6,145.9 307.3,148.0 C304.0,150.1 297.1,153.2 292.8,154.4 C288.5,155.6 285.1,155.5 281.6,155.2 C278.1,154.9 274.3,154.3 271.9,152.8 C269.5,151.3 268.2,148.8 267.1,146.4 C266.0,144.0 266.3,141.4 265.5,138.4 C264.7,135.4 262.7,131.0 262.3,128.7 C261.9,126.4 261.8,125.9 263.1,124.7 C264.4,123.5 267.5,122.4 270.3,121.5 C273.1,120.6 277.6,120.3 280.0,119.1 C282.4,117.9 283.7,115.9 284.8,114.3 C285.9,112.7 286.1,111.1 286.4,109.5 C286.7,107.9 285.6,104.9 286.4,104.6Z" fill="url(#gblob)"/>
<clipPath id="cpblob"><path d="M286.4,104.6 C287.2,104.3 289.5,107.6 291.2,107.8 C292.9,108.0 295.2,105.6 296.8,105.9 C298.4,106.2 299.9,107.3 300.8,109.5 C301.7,111.7 300.8,116.4 302.4,119.1 C304.0,121.8 308.6,123.1 310.5,125.5 C312.4,127.9 313.3,130.8 313.7,133.5 C314.1,136.2 314.0,139.2 312.9,141.6 C311.8,144.0 310.6,145.9 307.3,148.0 C304.0,150.1 297.1,153.2 292.8,154.4 C288.5,155.6 285.1,155.5 281.6,155.2 C278.1,154.9 274.3,154.3 271.9,152.8 C269.5,151.3 268.2,148.8 267.1,146.4 C266.0,144.0 266.3,141.4 265.5,138.4 C264.7,135.4 262.7,131.0 262.3,128.7 C261.9,126.4 261.8,125.9 263.1,124.7 C264.4,123.5 267.5,122.4 270.3,121.5 C273.1,120.6 277.6,120.3 280.0,119.1 C282.4,117.9 283.7,115.9 284.8,114.3 C285.9,112.7 286.1,111.1 286.4,109.5 C286.7,107.9 285.6,104.9 286.4,104.6Z"/></clipPath>
<g clip-path="url(#cpblob)"><rect x="286.1" y="123.8" width="0.9" height="0.9" fill="#fbe6e4"/><rect x="271.7" y="139.9" width="0.9" height="0.9" fill="#f6d0c0"/><rect x="288.1" y="151.6" width="0.9" height="0.9" fill="#fbe6e4"/><rect x="279.4" y="153.6" width="0.9" height="0.9" fill="#e8849c"/><rect x="264.1" y="124.1" width="0.9" height="0.9" fill="#e8849c"/><rect x="311.2" y="154.4" width="0.9" height="0.9" fill="#f6d0c0"/><rect x="270.2" y="116.6" width="0.9" height="0.9" fill="#fbe6e4"/><rect x="268.9" y="150.2" width="0.9" height="0.9" fill="#e8849c"/><rect x="265.3" y="140.5" width="0.9" height="0.9" fill="#e8849c"/><rect x="308.1" y="152.7" width="0.9" height="0.9" fill="#fbe6e4"/><rect x="297.1" y="142.5" width="0.9" height="0.9" fill="#f6d0c0"/><rect x="308.3" y="144.9" width="0.9" height="0.9" fill="#fbe6e4"/><rect x="282.6" y="122.1" width="0.9" height="0.9" fill="#fbe6e4"/><rect x="272.4" y="151.0" width="0.9" height="0.9" fill="#f6d0c0"/><rect x="264.8" y="124.1" width="0.9" height="0.9" fill="#f6d0c0"/><rect x="269.2" y="116.5" width="0.9" height="0.9" fill="#e8849c"/><rect x="309.1" y="109.9" width="0.9" height="0.9" fill="#e8849c"/><rect x="262.2" y="144.5" width="0.9" height="0.9" fill="#fbe6e4"/><rect x="308.6" y="114.8" width="0.9" height="0.9" fill="#fbe6e4"/><rect x="308.4" y="111.1" width="0.9" height="0.9" fill="#fbe6e4"/><rect x="288.0" y="134.4" width="0.9" height="0.9" fill="#e8849c"/><rect x="309.9" y="126.3" width="0.9" height="0.9" fill="#f6d0c0"/><rect x="272.0" y="144.5" width="0.9" height="0.9" fill="#e8849c"/><rect x="292.1" y="113.1" width="0.9" height="0.9" fill="#e8849c"/><rect x="299.4" y="106.2" width="0.9" height="0.9" fill="#f6d0c0"/><rect x="290.9" y="136.1" width="0.9" height="0.9" fill="#fbe6e4"/><rect x="300.7" y="143.1" width="0.9" height="0.9" fill="#e8849c"/><rect x="313.9" y="110.4" width="0.9" height="0.9" fill="#e8849c"/><rect x="282.9" y="152.0" width="0.9" height="0.9" fill="#fbe6e4"/><rect x="293.8" y="106.3" width="0.9" height="0.9" fill="#f6d0c0"/><rect x="306.0" y="131.7" width="0.9" height="0.9" fill="#e8849c"/><rect x="302.3" y="108.6" width="0.9" height="0.9" fill="#f6d0c0"/><rect x="267.7" y="150.7" width="0.9" height="0.9" fill="#f6d0c0"/><rect x="285.5" y="125.3" width="0.9" height="0.9" fill="#e8849c"/><rect x="300.8" y="124.1" width="0.9" height="0.9" fill="#e8849c"/><rect x="279.1" y="127.0" width="0.9" height="0.9" fill="#fbe6e4"/><rect x="273.5" y="118.3" width="0.9" height="0.9" fill="#fbe6e4"/><rect x="278.0" y="119.1" width="0.9" height="0.9" fill="#e8849c"/><rect x="302.8" y="105.3" width="0.9" height="0.9" fill="#e8849c"/><rect x="304.0" y="130.4" width="0.9" height="0.9" fill="#e8849c"/><rect x="302.4" y="134.0" width="0.9" height="0.9" fill="#fbe6e4"/><rect x="284.1" y="116.2" width="0.9" height="0.9" fill="#f6d0c0"/><rect x="288.5" y="154.7" width="0.9" height="0.9" fill="#e8849c"/><rect x="281.2" y="139.4" width="0.9" height="0.9" fill="#fbe6e4"/><rect x="298.0" y="150.4" width="0.9" height="0.9" fill="#fbe6e4"/><rect x="264.6" y="155.7" width="0.9" height="0.9" fill="#fbe6e4"/><rect x="275.7" y="112.7" width="0.9" height="0.9" fill="#fbe6e4"/><rect x="293.5" y="104.6" width="0.9" height="0.9" fill="#fbe6e4"/><rect x="285.4" y="145.7" width="0.9" height="0.9" fill="#f6d0c0"/><rect x="293.8" y="155.2" width="0.9" height="0.9" fill="#f6d0c0"/><rect x="276.8" y="129.5" width="0.9" height="0.9" fill="#f6d0c0"/><rect x="269.1" y="108.6" width="0.9" height="0.9" fill="#e8849c"/><rect x="277.4" y="110.3" width="0.9" height="0.9" fill="#f6d0c0"/><rect x="285.5" y="141.3" width="0.9" height="0.9" fill="#f6d0c0"/><rect x="292.6" y="146.5" width="0.9" height="0.9" fill="#e8849c"/><rect x="299.2" y="144.9" width="0.9" height="0.9" fill="#e8849c"/><rect x="287.7" y="109.3" width="0.9" height="0.9" fill="#fbe6e4"/><rect x="276.4" y="110.8" width="0.9" height="0.9" fill="#e8849c"/><rect x="304.7" y="112.6" width="0.9" height="0.9" fill="#fbe6e4"/><rect x="306.7" y="114.8" width="0.9" height="0.9" fill="#f6d0c0"/><rect x="285.7" y="133.6" width="0.9" height="0.9" fill="#f6d0c0"/><rect x="266.3" y="133.1" width="0.9" height="0.9" fill="#e8849c"/><rect x="311.2" y="132.4" width="0.9" height="0.9" fill="#e8849c"/><rect x="263.5" y="156.6" width="0.9" height="0.9" fill="#f6d0c0"/><rect x="290.3" y="131.7" width="0.9" height="0.9" fill="#e8849c"/><rect x="295.4" y="146.2" width="0.9" height="0.9" fill="#e8849c"/><rect x="291.8" y="154.6" width="0.9" height="0.9" fill="#fbe6e4"/><rect x="299.7" y="142.2" width="0.9" height="0.9" fill="#fbe6e4"/><rect x="267.2" y="130.1" width="0.9" height="0.9" fill="#fbe6e4"/><rect x="287.5" y="137.7" width="0.9" height="0.9" fill="#fbe6e4"/><rect x="297.3" y="105.5" width="0.9" height="0.9" fill="#fbe6e4"/><rect x="307.7" y="116.2" width="0.9" height="0.9" fill="#e8849c"/><rect x="291.8" y="130.3" width="0.9" height="0.9" fill="#fbe6e4"/><rect x="263.9" y="135.6" width="0.9" height="0.9" fill="#e8849c"/><rect x="264.4" y="125.7" width="0.9" height="0.9" fill="#e8849c"/><rect x="265.6" y="114.0" width="0.9" height="0.9" fill="#e8849c"/><rect x="301.1" y="108.5" width="0.9" height="0.9" fill="#fbe6e4"/><rect x="280.4" y="128.9" width="0.9" height="0.9" fill="#e8849c"/><rect x="286.7" y="141.3" width="0.9" height="0.9" fill="#fbe6e4"/><rect x="279.4" y="145.5" width="0.9" height="0.9" fill="#fbe6e4"/><rect x="286.1" y="127.8" width="0.9" height="0.9" fill="#fbe6e4"/><rect x="312.8" y="156.3" width="0.9" height="0.9" fill="#fbe6e4"/><rect x="267.5" y="122.5" width="0.9" height="0.9" fill="#fbe6e4"/><rect x="285.5" y="110.9" width="0.9" height="0.9" fill="#fbe6e4"/><rect x="267.7" y="106.8" width="0.9" height="0.9" fill="#fbe6e4"/><rect x="310.8" y="155.7" width="0.9" height="0.9" fill="#f6d0c0"/><rect x="267.4" y="105.2" width="0.9" height="0.9" fill="#e8849c"/><rect x="289.1" y="123.6" width="0.9" height="0.9" fill="#e8849c"/><rect x="266.2" y="104.3" width="0.9" height="0.9" fill="#e8849c"/><rect x="297.5" y="104.8" width="0.9" height="0.9" fill="#f6d0c0"/><rect x="311.1" y="105.2" width="0.9" height="0.9" fill="#fbe6e4"/><rect x="289.0" y="126.1" width="0.9" height="0.9" fill="#f6d0c0"/><rect x="286.7" y="120.7" width="0.9" height="0.9" fill="#fbe6e4"/><rect x="295.2" y="140.1" width="0.9" height="0.9" fill="#fbe6e4"/><rect x="277.6" y="146.4" width="0.9" height="0.9" fill="#f6d0c0"/><rect x="302.9" y="151.8" width="0.9" height="0.9" fill="#fbe6e4"/><rect x="307.6" y="152.8" width="0.9" height="0.9" fill="#fbe6e4"/><rect x="263.5" y="127.3" width="0.9" height="0.9" fill="#f6d0c0"/><rect x="293.4" y="130.1" width="0.9" height="0.9" fill="#f6d0c0"/><rect x="307.8" y="151.3" width="0.9" height="0.9" fill="#f6d0c0"/><rect x="272.9" y="118.6" width="0.9" height="0.9" fill="#f6d0c0"/><rect x="286.3" y="153.0" width="0.9" height="0.9" fill="#f6d0c0"/><rect x="284.9" y="113.9" width="0.9" height="0.9" fill="#f6d0c0"/><rect x="265.1" y="108.9" width="0.9" height="0.9" fill="#f6d0c0"/><rect x="290.3" y="114.0" width="0.9" height="0.9" fill="#e8849c"/><rect x="281.0" y="151.5" width="0.9" height="0.9" fill="#e8849c"/><rect x="266.5" y="155.7" width="0.9" height="0.9" fill="#e8849c"/><rect x="293.2" y="153.8" width="0.9" height="0.9" fill="#e8849c"/><rect x="300.1" y="115.2" width="0.9" height="0.9" fill="#e8849c"/><rect x="302.1" y="108.0" width="0.9" height="0.9" fill="#e8849c"/><rect x="290.7" y="128.9" width="0.9" height="0.9" fill="#e8849c"/><rect x="278.8" y="148.2" width="0.9" height="0.9" fill="#e8849c"/><rect x="288.1" y="128.6" width="0.9" height="0.9" fill="#fbe6e4"/><rect x="276.8" y="132.3" width="0.9" height="0.9" fill="#fbe6e4"/><rect x="273.6" y="156.1" width="0.9" height="0.9" fill="#f6d0c0"/><rect x="264.2" y="111.9" width="0.9" height="0.9" fill="#fbe6e4"/><rect x="298.1" y="131.0" width="0.9" height="0.9" fill="#f6d0c0"/><rect x="295.8" y="125.0" width="0.9" height="0.9" fill="#e8849c"/><rect x="288.3" y="111.1" width="0.9" height="0.9" fill="#e8849c"/><rect x="280.6" y="154.2" width="0.9" height="0.9" fill="#fbe6e4"/><rect x="278.7" y="124.4" width="0.9" height="0.9" fill="#fbe6e4"/><rect x="303.6" y="145.2" width="0.9" height="0.9" fill="#fbe6e4"/><rect x="291.7" y="104.5" width="0.9" height="0.9" fill="#e8849c"/><rect x="308.2" y="118.8" width="0.9" height="0.9" fill="#e8849c"/><rect x="307.0" y="139.9" width="0.9" height="0.9" fill="#fbe6e4"/><rect x="276.2" y="111.6" width="0.9" height="0.9" fill="#f6d0c0"/><rect x="286.9" y="156.7" width="0.9" height="0.9" fill="#fbe6e4"/><rect x="279.2" y="143.7" width="0.9" height="0.9" fill="#f6d0c0"/><rect x="300.7" y="106.7" width="0.9" height="0.9" fill="#f6d0c0"/><rect x="310.3" y="105.4" width="0.9" height="0.9" fill="#fbe6e4"/><rect x="290.0" y="154.4" width="0.9" height="0.9" fill="#fbe6e4"/><rect x="285.6" y="122.1" width="0.9" height="0.9" fill="#e8849c"/><rect x="290.2" y="151.8" width="0.9" height="0.9" fill="#fbe6e4"/><rect x="288.8" y="148.5" width="0.9" height="0.9" fill="#e8849c"/><rect x="284.0" y="148.9" width="0.9" height="0.9" fill="#fbe6e4"/><rect x="310.7" y="141.9" width="0.9" height="0.9" fill="#f6d0c0"/><rect x="281.3" y="123.7" width="0.9" height="0.9" fill="#f6d0c0"/><rect x="308.1" y="127.2" width="0.9" height="0.9" fill="#e8849c"/><rect x="312.1" y="133.5" width="0.9" height="0.9" fill="#fbe6e4"/><rect x="312.1" y="108.5" width="0.9" height="0.9" fill="#f6d0c0"/><rect x="275.5" y="117.1" width="0.9" height="0.9" fill="#f6d0c0"/><rect x="312.4" y="113.9" width="0.9" height="0.9" fill="#e8849c"/><rect x="262.6" y="139.1" width="0.9" height="0.9" fill="#f6d0c0"/><rect x="296.9" y="155.7" width="0.9" height="0.9" fill="#fbe6e4"/><rect x="263.5" y="142.0" width="0.9" height="0.9" fill="#e8849c"/><rect x="292.2" y="114.6" width="0.9" height="0.9" fill="#f6d0c0"/><rect x="276.7" y="110.9" width="0.9" height="0.9" fill="#f6d0c0"/><rect x="282.6" y="108.0" width="0.9" height="0.9" fill="#fbe6e4"/><rect x="285.6" y="155.1" width="0.9" height="0.9" fill="#fbe6e4"/><rect x="278.3" y="148.5" width="0.9" height="0.9" fill="#e8849c"/><rect x="299.0" y="137.8" width="0.9" height="0.9" fill="#e8849c"/><rect x="310.1" y="124.2" width="0.9" height="0.9" fill="#e8849c"/><rect x="269.9" y="124.1" width="0.9" height="0.9" fill="#f6d0c0"/><rect x="269.3" y="126.1" width="0.9" height="0.9" fill="#e8849c"/><rect x="271.4" y="149.0" width="0.9" height="0.9" fill="#e8849c"/><rect x="294.1" y="131.2" width="0.9" height="0.9" fill="#f6d0c0"/><rect x="289.1" y="117.4" width="0.9" height="0.9" fill="#e8849c"/><rect x="302.1" y="149.0" width="0.9" height="0.9" fill="#e8849c"/><rect x="262.7" y="114.5" width="0.9" height="0.9" fill="#fbe6e4"/><rect x="295.6" y="128.6" width="0.9" height="0.9" fill="#fbe6e4"/><rect x="272.7" y="104.8" width="0.9" height="0.9" fill="#f6d0c0"/><rect x="299.5" y="117.5" width="0.9" height="0.9" fill="#f6d0c0"/><rect x="273.7" y="113.4" width="0.9" height="0.9" fill="#e8849c"/><rect x="283.6" y="118.4" width="0.9" height="0.9" fill="#e8849c"/><rect x="280.1" y="133.7" width="0.9" height="0.9" fill="#fbe6e4"/><rect x="290.8" y="105.6" width="0.9" height="0.9" fill="#e8849c"/><rect x="312.6" y="108.7" width="0.9" height="0.9" fill="#fbe6e4"/><rect x="263.0" y="148.5" width="0.9" height="0.9" fill="#e8849c"/><rect x="284.8" y="122.7" width="0.9" height="0.9" fill="#e8849c"/><rect x="309.1" y="109.0" width="0.9" height="0.9" fill="#f6d0c0"/><rect x="298.9" y="153.9" width="0.9" height="0.9" fill="#fbe6e4"/><rect x="274.6" y="112.2" width="0.9" height="0.9" fill="#e8849c"/><rect x="306.0" y="123.3" width="0.9" height="0.9" fill="#e8849c"/><rect x="272.0" y="137.9" width="0.9" height="0.9" fill="#e8849c"/><rect x="288.8" y="151.4" width="0.9" height="0.9" fill="#fbe6e4"/><rect x="270.4" y="132.9" width="0.9" height="0.9" fill="#f6d0c0"/><rect x="285.8" y="119.2" width="0.9" height="0.9" fill="#e8849c"/><rect x="284.0" y="144.3" width="0.9" height="0.9" fill="#fbe6e4"/><rect x="307.8" y="147.5" width="0.9" height="0.9" fill="#e8849c"/><rect x="296.2" y="125.9" width="0.9" height="0.9" fill="#f6d0c0"/><rect x="285.5" y="107.4" width="0.9" height="0.9" fill="#f6d0c0"/><rect x="288.4" y="142.7" width="0.9" height="0.9" fill="#fbe6e4"/><rect x="295.7" y="146.3" width="0.9" height="0.9" fill="#e8849c"/><rect x="278.8" y="130.2" width="0.9" height="0.9" fill="#f6d0c0"/><rect x="284.6" y="124.7" width="0.9" height="0.9" fill="#fbe6e4"/><rect x="312.6" y="154.7" width="0.9" height="0.9" fill="#f6d0c0"/><rect x="270.8" y="105.6" width="0.9" height="0.9" fill="#f6d0c0"/><rect x="298.9" y="131.5" width="0.9" height="0.9" fill="#e8849c"/><rect x="292.0" y="114.6" width="0.9" height="0.9" fill="#e8849c"/><rect x="267.3" y="130.8" width="0.9" height="0.9" fill="#e8849c"/><rect x="312.4" y="113.9" width="0.9" height="0.9" fill="#fbe6e4"/><rect x="289.4" y="139.1" width="0.9" height="0.9" fill="#fbe6e4"/><rect x="306.7" y="126.3" width="0.9" height="0.9" fill="#fbe6e4"/><rect x="272.3" y="129.1" width="0.9" height="0.9" fill="#e8849c"/><rect x="299.9" y="146.8" width="0.9" height="0.9" fill="#e8849c"/><rect x="295.5" y="120.6" width="0.9" height="0.9" fill="#e8849c"/><rect x="288.3" y="149.6" width="0.9" height="0.9" fill="#fbe6e4"/><rect x="292.7" y="137.6" width="0.9" height="0.9" fill="#f6d0c0"/><rect x="304.7" y="108.3" width="0.9" height="0.9" fill="#e8849c"/><rect x="279.5" y="146.2" width="0.9" height="0.9" fill="#fbe6e4"/></g>
<path d="M274.3,132.7 C275.4,131.5 278.9,129.6 281.6,131.1 C284.3,132.6 289.1,139.0 290.4,141.6 C291.7,144.2 291.3,146.1 289.6,146.4 C287.9,146.7 282.4,144.5 280.0,143.2 C277.6,141.9 276.1,140.2 275.1,138.4 C274.2,136.7 273.2,133.9 274.3,132.7Z" fill="#fdf0ee"/>
<path d="M250.3,159.2 V137 M249.1,138.6 L250.3,135.9 L251.5,138.6 M250.3,159.2 H273.5 M271.5,158 L274,159.2 L271.5,160.4" fill="none" stroke="#333" stroke-width="0.5"/>
<text x="245.5" y="148" font-size="5.3" text-anchor="middle" fill="#333" transform="rotate(-90 245.5 148)">UMAP_2</text>
<text x="260.7" y="167.6" font-size="5.3" text-anchor="middle" fill="#333" font-weight="normal" >UMAP_1</text>
<circle cx="320" cy="132.6" r="0.9" fill="#e8789c"/><circle cx="320" cy="137.7" r="0.9" fill="#f0c8a0"/>
<text x="323.2" y="133.8" font-size="3.4" text-anchor="start" fill="#444" font-weight="normal" >sFGR_Larger</text>
<text x="323.2" y="138.9" font-size="3.4" text-anchor="start" fill="#444" font-weight="normal" >sFGR_Smaller</text>
<g style="isolation:isolate">
<circle cx="421" cy="43.2" r="18.6" fill="#eba68c" style="mix-blend-mode:multiply"/>
<circle cx="443.3" cy="43.3" r="18.6" fill="#eef08a" style="mix-blend-mode:multiply"/>
<circle cx="431.9" cy="63.3" r="18.6" fill="#b8dcea" style="mix-blend-mode:multiply"/>
</g>
<text x="417.4" y="46.0" font-size="8" text-anchor="middle" fill="#333" font-weight="normal" >45</text>
<text x="447.6" y="46.0" font-size="8" text-anchor="middle" fill="#333" font-weight="normal" >43</text>
<text x="432.2" y="54.0" font-size="8" text-anchor="middle" fill="#333" font-weight="normal" >17</text>
<text x="430.8" y="72.5" font-size="8" text-anchor="middle" fill="#333" font-weight="normal" >155</text>
<path d="M406.5,93.6 V142.6 H474.5" fill="none" stroke="#555" stroke-width="0.5"/>
<text x="404.5" y="96.0" font-size="3" text-anchor="end" fill="#555" font-weight="normal" >0.5</text>
<text x="404.5" y="105.2" font-size="3" text-anchor="end" fill="#555" font-weight="normal" >0.4</text>
<text x="404.5" y="114.4" font-size="3" text-anchor="end" fill="#555" font-weight="normal" >0.3</text>
<text x="404.5" y="123.5" font-size="3" text-anchor="end" fill="#555" font-weight="normal" >0.2</text>
<text x="404.5" y="132.7" font-size="3" text-anchor="end" fill="#555" font-weight="normal" >0.1</text>
<text x="404.5" y="141.9" font-size="3" text-anchor="end" fill="#555" font-weight="normal" >0.0</text>
<text x="394.2" y="117.2" font-size="5.75" text-anchor="middle" fill="#333" transform="rotate(-90 394.2 117.2)">mean_proportion</text>
<rect x="415.3" y="115.5" width="16.9" height="25.4" fill="#e67aa0"/>
<rect x="451.2" y="127.2" width="16.6" height="13.7" fill="#bcdde8"/>
<line x1="424.9" y1="100" x2="459.3" y2="115.2" stroke="#4b3aa0" stroke-width="0.8"/><circle cx="424.9" cy="100" r="1.4" fill="#4b3aa0"/><circle cx="459.3" cy="115.2" r="1.4" fill="#4b3aa0"/>
<line x1="424.9" y1="125.7" x2="459.3" y2="127.4" stroke="#6fd0c8" stroke-width="0.8"/><circle cx="424.9" cy="125.7" r="1.4" fill="#6fd0c8"/><circle cx="459.3" cy="127.4" r="1.4" fill="#6fd0c8"/>
<line x1="424.9" y1="130.7" x2="459.3" y2="140.3" stroke="#e0c850" stroke-width="0.8"/><circle cx="424.9" cy="130.7" r="1.4" fill="#e0c850"/><circle cx="459.3" cy="140.3" r="1.4" fill="#e0c850"/>
<line x1="456.5" y1="95.6" x2="460.5" y2="95.6" stroke="#6fd0c8" stroke-width="0.6"/><circle cx="458.5" cy="95.6" r="0.9" fill="#6fd0c8"/>
<text x="462.8" y="96.6" font-size="3" text-anchor="start" fill="#444" font-weight="normal" >SC01</text>
<line x1="456.5" y1="100.85" x2="460.5" y2="100.85" stroke="#e0c850" stroke-width="0.6"/><circle cx="458.5" cy="100.85" r="0.9" fill="#e0c850"/>
<text x="462.8" y="101.8" font-size="3" text-anchor="start" fill="#444" font-weight="normal" >SC03</text>
<line x1="456.5" y1="106.1" x2="460.5" y2="106.1" stroke="#4b3aa0" stroke-width="0.6"/><circle cx="458.5" cy="106.1" r="0.9" fill="#4b3aa0"/>
<text x="462.8" y="107.1" font-size="3" text-anchor="start" fill="#444" font-weight="normal" >SC06</text>
<text x="426.5" y="147" font-size="5.2" text-anchor="end" fill="#333" transform="rotate(-45 426.5 147)">sFGR_Larger</text>
<text x="461" y="147" font-size="5.2" text-anchor="end" fill="#333" transform="rotate(-45 461 147)">sFGR_Smaller</text>
<path d="M560,32.2L554.8,48.9M560,32.2L569.4,51.6M560,32.2L583.2,51.9M560,32.2L542.4,60.5M560,32.2L592.6,65.4M560,32.2L553.2,75.4M560,32.2L572.9,73.2M560,32.2L584.3,70.8M560,32.2L545.4,84M560,32.2L564.8,88.9M537.8,45.1L554.8,48.9M537.8,45.1L521.1,61M537.8,45.1L542.4,60.5M537.8,45.1L555.4,61.9M537.8,45.1L523.8,78.9M537.8,45.1L529.7,85.6M554.8,48.9L569.4,51.6M554.8,48.9L542.4,60.5M554.8,48.9L555.4,61.9M554.8,48.9L570.2,63.7M554.8,48.9L540,73.5M554.8,48.9L560.8,70M554.8,48.9L584.3,70.8M554.8,48.9L523.8,78.9M554.8,48.9L531.9,94.8M554.8,48.9L560.8,101M554.8,48.9L571.6,105.6M569.4,51.6L583.2,51.9M569.4,51.6L521.1,61M569.4,51.6L542.4,60.5M569.4,51.6L555.4,61.9M569.4,51.6L570.2,63.7M569.4,51.6L540,73.5M569.4,51.6L560.8,70M569.4,51.6L572.9,73.2M569.4,51.6L523.8,78.9M569.4,51.6L579.7,88.1M569.4,51.6L564.8,88.9M569.4,51.6L573.5,97M569.4,51.6L557.2,109.7M583.2,51.9L570.2,63.7M583.2,51.9L592.6,65.4M583.2,51.9L584.3,70.8M583.2,51.9L594,71.3M583.2,51.9L564.3,78.1M583.2,51.9L577.8,80.8M583.2,51.9L602.1,78.9M583.2,51.9L537.8,89.7M583.2,51.9L556.2,87M583.2,51.9L572.1,88.3M583.2,51.9L579.7,88.1M583.2,51.9L589.1,89.7M583.2,51.9L573.5,97M583.2,51.9L566.2,107.2M521.1,61L542.4,60.5M521.1,61L555.4,61.9M521.1,61L570.2,63.7M521.1,61L572.9,73.2M521.1,61L523.8,78.9M521.1,61L529.7,85.6M521.1,61L537.8,89.7M521.1,61L572.1,88.3M521.1,61L550,102.9M542.4,60.5L555.4,61.9M542.4,60.5L540,73.5M542.4,60.5L553.2,75.4M542.4,60.5L560.8,70M542.4,60.5L537.8,89.7M542.4,60.5L556.2,87M542.4,60.5L557.2,109.7M555.4,61.9L570.2,63.7M555.4,61.9L540,73.5M555.4,61.9L553.2,75.4M555.4,61.9L560.8,70M555.4,61.9L572.9,73.2M555.4,61.9L529.7,85.6M555.4,61.9L564.3,78.1M555.4,61.9L579.7,88.1M555.4,61.9L564.8,88.9M555.4,61.9L589.1,89.7M555.4,61.9L581.6,94.3M555.4,61.9L550,102.9M555.4,61.9L560.8,101M570.2,63.7L553.2,75.4M570.2,63.7L560.8,70M570.2,63.7L572.9,73.2M570.2,63.7L584.3,70.8M570.2,63.7L523.8,78.9M570.2,63.7L564.3,78.1M570.2,63.7L577.8,80.8M570.2,63.7L589.1,89.7M570.2,63.7L581.6,94.3M570.2,63.7L573.5,97M570.2,63.7L577.8,106.4M592.6,65.4L572.9,73.2M592.6,65.4L584.3,70.8M592.6,65.4L594,71.3M592.6,65.4L577.8,80.8M592.6,65.4L589.9,79.4M592.6,65.4L602.1,78.9M592.6,65.4L597.8,84.8M592.6,65.4L550,102.9M592.6,65.4L560.8,101M592.6,65.4L571.6,105.6M592.6,65.4L586.4,101M592.6,65.4L580.5,114.5M540,73.5L553.2,75.4M540,73.5L560.8,70M540,73.5L572.9,73.2M540,73.5L523.8,78.9M540,73.5L529.7,85.6M540,73.5L545.4,84M540,73.5L537.8,89.7M540,73.5L556.2,87M540,73.5L564.8,88.9M540,73.5L558.1,94.8M540,73.5L560.8,101M540,73.5L586.4,101M540,73.5L565.6,115.1M540,73.5L547.3,120.7M540,73.5L572.4,122.1M553.2,75.4L560.8,70M553.2,75.4L572.9,73.2M553.2,75.4L529.7,85.6M553.2,75.4L545.4,84M553.2,75.4L564.3,78.1M553.2,75.4L597.8,84.8M553.2,75.4L537.8,89.7M553.2,75.4L556.2,87M553.2,75.4L572.1,88.3M553.2,75.4L564.8,88.9M553.2,75.4L531.9,94.8M553.2,75.4L552.1,92.4M553.2,75.4L558.1,94.8M553.2,75.4L597.2,97M553.2,75.4L550,102.9M553.2,75.4L548.6,112.4M553.2,75.4L580.5,114.5M553.2,75.4L590.5,109.1M553.2,75.4L547.3,120.7M560.8,70L572.9,73.2M560.8,70L523.8,78.9M560.8,70L545.4,84M560.8,70L564.3,78.1M560.8,70L577.8,80.8M560.8,70L589.9,79.4M560.8,70L597.8,84.8M560.8,70L556.2,87M560.8,70L572.1,88.3M560.8,70L564.8,88.9M560.8,70L581.6,94.3M560.8,70L565.6,115.1M560.8,70L580.5,114.5M560.8,70L590.5,109.1M560.8,70L565.6,124M560.8,70L572.4,122.1M572.9,73.2L584.3,70.8M572.9,73.2L594,71.3M572.9,73.2L564.3,78.1M572.9,73.2L577.8,80.8M572.9,73.2L589.9,79.4M572.9,73.2L556.2,87M572.9,73.2L572.1,88.3M572.9,73.2L579.7,88.1M572.9,73.2L564.8,88.9M572.9,73.2L589.1,89.7M572.9,73.2L560.8,101M572.9,73.2L533.8,117.2M572.9,73.2L557.2,109.7M572.9,73.2L580.5,114.5M572.9,73.2L590.5,109.1M584.3,70.8L594,71.3M584.3,70.8L564.3,78.1M584.3,70.8L577.8,80.8M584.3,70.8L589.9,79.4M584.3,70.8L602.1,78.9M584.3,70.8L597.8,84.8M584.3,70.8L572.1,88.3M584.3,70.8L579.7,88.1M584.3,70.8L589.1,89.7M584.3,70.8L552.1,92.4M584.3,70.8L573.5,97M584.3,70.8L571.6,105.6M584.3,70.8L572.4,122.1M584.3,70.8L587.8,123.4M594,71.3L564.3,78.1M594,71.3L577.8,80.8M594,71.3L589.9,79.4M594,71.3L602.1,78.9M594,71.3L597.8,84.8M594,71.3L589.1,89.7M594,71.3L581.6,94.3M594,71.3L560.8,101M594,71.3L577.8,106.4M523.8,78.9L529.7,85.6M523.8,78.9L537.8,89.7M523.8,78.9L556.2,87M523.8,78.9L572.1,88.3M523.8,78.9L531.9,94.8M523.8,78.9L541.9,98.3M523.8,78.9L573.5,97M523.8,78.9L557.2,109.7M529.7,85.6L545.4,84M529.7,85.6L564.3,78.1M529.7,85.6L537.8,89.7M529.7,85.6L531.9,94.8M529.7,85.6L541.9,98.3M529.7,85.6L558.1,94.8M529.7,85.6L533.8,104.5M529.7,85.6L566.2,107.2M529.7,85.6L580.5,114.5M529.7,85.6L547.3,120.7M529.7,85.6L526.5,129.4M545.4,84L564.3,78.1M545.4,84L602.1,78.9M545.4,84L537.8,89.7M545.4,84L556.2,87M545.4,84L579.7,88.1M545.4,84L564.8,88.9M545.4,84L531.9,94.8M545.4,84L552.1,92.4M545.4,84L541.9,98.3M545.4,84L558.1,94.8M545.4,84L550,102.9M545.4,84L548.6,112.4M545.4,84L557.2,109.7M564.3,78.1L577.8,80.8M564.3,78.1L556.2,87M564.3,78.1L572.1,88.3M564.3,78.1L579.7,88.1M564.3,78.1L564.8,88.9M564.3,78.1L552.1,92.4M564.3,78.1L581.6,94.3M564.3,78.1L573.5,97M564.3,78.1L558.1,94.8M564.3,78.1L566.2,107.2M564.3,78.1L577.8,106.4M564.3,78.1L565.6,124M564.3,78.1L572.4,122.1M577.8,80.8L589.9,79.4M577.8,80.8L597.8,84.8M577.8,80.8L572.1,88.3M577.8,80.8L579.7,88.1M577.8,80.8L564.8,88.9M577.8,80.8L589.1,89.7M577.8,80.8L581.6,94.3M577.8,80.8L541.9,98.3M577.8,80.8L573.5,97M577.8,80.8L597.2,97M577.8,80.8L550,102.9M577.8,80.8L586.4,101M577.8,80.8L590.5,109.1M577.8,80.8L565.6,124M589.9,79.4L602.1,78.9M589.9,79.4L597.8,84.8M589.9,79.4L572.1,88.3M589.9,79.4L579.7,88.1M589.9,79.4L589.1,89.7M589.9,79.4L581.6,94.3M589.9,79.4L597.2,97M589.9,79.4L560.8,101M589.9,79.4L566.2,107.2M589.9,79.4L586.4,101M589.9,79.4L557.2,109.7M589.9,79.4L572.4,122.1M589.9,79.4L587.8,123.4M602.1,78.9L597.8,84.8M602.1,78.9L589.1,89.7M602.1,78.9L597.2,97M602.1,78.9L550,102.9M602.1,78.9L605.3,110.5M602.1,78.9L590.5,109.1M602.1,78.9L565.6,124M597.8,84.8L579.7,88.1M597.8,84.8L589.1,89.7M597.8,84.8L552.1,92.4M597.8,84.8L581.6,94.3M597.8,84.8L597.2,97M597.8,84.8L586.4,101M597.8,84.8L565.6,115.1M537.8,89.7L556.2,87M537.8,89.7L579.7,88.1M537.8,89.7L531.9,94.8M537.8,89.7L552.1,92.4M537.8,89.7L541.9,98.3M537.8,89.7L558.1,94.8M537.8,89.7L533.8,104.5M537.8,89.7L550,102.9M556.2,87L572.1,88.3M556.2,87L579.7,88.1M556.2,87L564.8,88.9M556.2,87L552.1,92.4M556.2,87L541.9,98.3M556.2,87L573.5,97M556.2,87L558.1,94.8M556.2,87L597.2,97M556.2,87L533.8,104.5M556.2,87L550,102.9M556.2,87L560.8,101M556.2,87L566.2,107.2M556.2,87L547.3,120.7M556.2,87L526.5,129.4M556.2,87L556.2,135.6M572.1,88.3L579.7,88.1M572.1,88.3L564.8,88.9M572.1,88.3L589.1,89.7M572.1,88.3L552.1,92.4M572.1,88.3L581.6,94.3M572.1,88.3L573.5,97M572.1,88.3L558.1,94.8M572.1,88.3L597.2,97M572.1,88.3L560.8,101M572.1,88.3L566.2,107.2M572.1,88.3L571.6,105.6M572.1,88.3L577.8,106.4M572.1,88.3L586.4,101M572.1,88.3L565.6,115.1M572.1,88.3L587.8,123.4M579.7,88.1L564.8,88.9M579.7,88.1L589.1,89.7M579.7,88.1L552.1,92.4M579.7,88.1L581.6,94.3M579.7,88.1L541.9,98.3M579.7,88.1L573.5,97M579.7,88.1L558.1,94.8M579.7,88.1L597.2,97M579.7,88.1L571.6,105.6M579.7,88.1L577.8,106.4M579.7,88.1L586.4,101M579.7,88.1L557.5,122.6M579.7,88.1L576.4,141.5M564.8,88.9L552.1,92.4M564.8,88.9L581.6,94.3M564.8,88.9L573.5,97M564.8,88.9L558.1,94.8M564.8,88.9L550,102.9M564.8,88.9L560.8,101M564.8,88.9L566.2,107.2M564.8,88.9L571.6,105.6M564.8,88.9L577.8,106.4M564.8,88.9L556.2,135.6M589.1,89.7L581.6,94.3M589.1,89.7L541.9,98.3M589.1,89.7L573.5,97M589.1,89.7L558.1,94.8M589.1,89.7L597.2,97M589.1,89.7L577.8,106.4M589.1,89.7L586.4,101M589.1,89.7L548.6,112.4M589.1,89.7L557.2,109.7M589.1,89.7L590.5,109.1M531.9,94.8L552.1,92.4M531.9,94.8L541.9,98.3M531.9,94.8L573.5,97M531.9,94.8L533.8,104.5M531.9,94.8L550,102.9M531.9,94.8L557.2,109.7M552.1,92.4L541.9,98.3M552.1,92.4L573.5,97M552.1,92.4L558.1,94.8M552.1,92.4L533.8,104.5M552.1,92.4L550,102.9M552.1,92.4L560.8,101M552.1,92.4L566.2,107.2M552.1,92.4L571.6,105.6M552.1,92.4L548.6,112.4M552.1,92.4L557.2,109.7M552.1,92.4L565.6,115.1M552.1,92.4L590.5,109.1M581.6,94.3L573.5,97M581.6,94.3L597.2,97M581.6,94.3L533.8,104.5M581.6,94.3L560.8,101M581.6,94.3L566.2,107.2M581.6,94.3L571.6,105.6M581.6,94.3L577.8,106.4M581.6,94.3L586.4,101M581.6,94.3L557.2,109.7M581.6,94.3L580.5,114.5M581.6,94.3L590.5,109.1M581.6,94.3L587.8,123.4M541.9,98.3L558.1,94.8M541.9,98.3L533.8,104.5M541.9,98.3L550,102.9M541.9,98.3L560.8,101M541.9,98.3L586.4,101M541.9,98.3L533.8,117.2M541.9,98.3L548.6,112.4M541.9,98.3L557.2,109.7M541.9,98.3L565.6,115.1M541.9,98.3L557.5,122.6M541.9,98.3L565.6,124M573.5,97L558.1,94.8M573.5,97L560.8,101M573.5,97L566.2,107.2M573.5,97L571.6,105.6M573.5,97L577.8,106.4M573.5,97L586.4,101M573.5,97L557.2,109.7M573.5,97L565.6,115.1M573.5,97L580.5,114.5M573.5,97L590.5,109.1M573.5,97L587.8,123.4M558.1,94.8L550,102.9M558.1,94.8L560.8,101M558.1,94.8L566.2,107.2M558.1,94.8L571.6,105.6M558.1,94.8L586.4,101M558.1,94.8L605.3,110.5M558.1,94.8L548.6,112.4M558.1,94.8L557.2,109.7M558.1,94.8L565.6,115.1M558.1,94.8L547.3,120.7M558.1,94.8L587.8,123.4M597.2,97L550,102.9M597.2,97L577.8,106.4M597.2,97L586.4,101M597.2,97L605.3,110.5M597.2,97L557.2,109.7M597.2,97L590.5,109.1M597.2,97L557.5,122.6M533.8,104.5L550,102.9M533.8,104.5L560.8,101M533.8,104.5L533.8,117.2M533.8,104.5L548.6,112.4M533.8,104.5L547.3,120.7M533.8,104.5L572.4,122.1M533.8,104.5L576.4,141.5M550,102.9L560.8,101M550,102.9L566.2,107.2M550,102.9L571.6,105.6M550,102.9L605.3,110.5M550,102.9L533.8,117.2M550,102.9L548.6,112.4M550,102.9L557.2,109.7M550,102.9L565.6,115.1M550,102.9L590.5,109.1M550,102.9L547.3,120.7M550,102.9L557.5,122.6M560.8,101L566.2,107.2M560.8,101L571.6,105.6M560.8,101L577.8,106.4M560.8,101L548.6,112.4M560.8,101L557.2,109.7M560.8,101L565.6,115.1M560.8,101L590.5,109.1M560.8,101L557.5,122.6M560.8,101L576.4,141.5M566.2,107.2L571.6,105.6M566.2,107.2L577.8,106.4M566.2,107.2L586.4,101M566.2,107.2L533.8,117.2M566.2,107.2L548.6,112.4M566.2,107.2L557.2,109.7M566.2,107.2L565.6,115.1M566.2,107.2L580.5,114.5M566.2,107.2L590.5,109.1M566.2,107.2L557.5,122.6M566.2,107.2L565.6,124M566.2,107.2L572.4,122.1M566.2,107.2L587.8,123.4M566.2,107.2L576.4,141.5M571.6,105.6L577.8,106.4M571.6,105.6L586.4,101M571.6,105.6L533.8,117.2M571.6,105.6L557.2,109.7M571.6,105.6L565.6,115.1M571.6,105.6L580.5,114.5M571.6,105.6L590.5,109.1M571.6,105.6L565.6,124M571.6,105.6L572.4,122.1M571.6,105.6L587.8,123.4M577.8,106.4L586.4,101M577.8,106.4L605.3,110.5M577.8,106.4L557.2,109.7M577.8,106.4L565.6,115.1M577.8,106.4L580.5,114.5M577.8,106.4L590.5,109.1M577.8,106.4L565.6,124M577.8,106.4L572.4,122.1M577.8,106.4L587.8,123.4M586.4,101L605.3,110.5M586.4,101L557.2,109.7M586.4,101L580.5,114.5M586.4,101L590.5,109.1M586.4,101L557.5,122.6M586.4,101L587.8,123.4M605.3,110.5L557.2,109.7M605.3,110.5L590.5,109.1M605.3,110.5L587.8,123.4M605.3,110.5L556.2,135.6M533.8,117.2L548.6,112.4M533.8,117.2L557.2,109.7M533.8,117.2L547.3,120.7M533.8,117.2L557.5,122.6M533.8,117.2L572.4,122.1M533.8,117.2L526.5,129.4M548.6,112.4L557.2,109.7M548.6,112.4L565.6,115.1M548.6,112.4L547.3,120.7M548.6,112.4L557.5,122.6M548.6,112.4L565.6,124M548.6,112.4L526.5,129.4M557.2,109.7L565.6,115.1M557.2,109.7L547.3,120.7M557.2,109.7L557.5,122.6M557.2,109.7L565.6,124M557.2,109.7L572.4,122.1M565.6,115.1L580.5,114.5M565.6,115.1L547.3,120.7M565.6,115.1L557.5,122.6M565.6,115.1L565.6,124M565.6,115.1L572.4,122.1M565.6,115.1L526.5,129.4M565.6,115.1L576.4,141.5M580.5,114.5L590.5,109.1M580.5,114.5L565.6,124M580.5,114.5L572.4,122.1M580.5,114.5L587.8,123.4M590.5,109.1L565.6,124M590.5,109.1L572.4,122.1M590.5,109.1L587.8,123.4M590.5,109.1L556.2,135.6M547.3,120.7L557.5,122.6M547.3,120.7L565.6,124M547.3,120.7L556.2,135.6M547.3,120.7L576.4,141.5M557.5,122.6L565.6,124M557.5,122.6L572.4,122.1M557.5,122.6L556.2,135.6M557.5,122.6L576.4,141.5M565.6,124L572.4,122.1M565.6,124L587.8,123.4M565.6,124L556.2,135.6M565.6,124L576.4,141.5M572.4,122.1L587.8,123.4M572.4,122.1L526.5,129.4M572.4,122.1L556.2,135.6M572.4,122.1L576.4,141.5M587.8,123.4L576.4,141.5M556.2,135.6L576.4,141.5" stroke="#d6d6d6" stroke-width="0.3" fill="none"/>
<circle cx="560" cy="32.2" r="3" fill="#ea86aa"/>
<circle cx="537.8" cy="45.1" r="2.2" fill="#dcc444"/>
<circle cx="554.8" cy="48.9" r="3" fill="#58c8cc"/>
<circle cx="569.4" cy="51.6" r="4.1" fill="#dcc444"/>
<circle cx="583.2" cy="51.9" r="3.2" fill="#e03c94"/>
<circle cx="521.1" cy="61" r="3" fill="#e2542e"/>
<circle cx="542.4" cy="60.5" r="1.4" fill="#e2542e"/>
<circle cx="555.4" cy="61.9" r="2.7" fill="#4a7ed2"/>
<circle cx="570.2" cy="63.7" r="2.4" fill="#ea86aa"/>
<circle cx="592.6" cy="65.4" r="2.2" fill="#ea86aa"/>
<circle cx="540" cy="73.5" r="3.2" fill="#5a42b2"/>
<circle cx="553.2" cy="75.4" r="2.4" fill="#56c084"/>
<circle cx="560.8" cy="70" r="2.2" fill="#4a7ed2"/>
<circle cx="572.9" cy="73.2" r="1.9" fill="#e2542e"/>
<circle cx="584.3" cy="70.8" r="2.2" fill="#58c8cc"/>
<circle cx="594" cy="71.3" r="2.2" fill="#4a7ed2"/>
<circle cx="523.8" cy="78.9" r="1.6" fill="#ea86aa"/>
<circle cx="529.7" cy="85.6" r="2.2" fill="#56c084"/>
<circle cx="545.4" cy="84" r="1.4" fill="#56c084"/>
<circle cx="564.3" cy="78.1" r="1.6" fill="#ea86aa"/>
<circle cx="577.8" cy="80.8" r="1.4" fill="#56c084"/>
<circle cx="589.9" cy="79.4" r="2.2" fill="#4a7ed2"/>
<circle cx="602.1" cy="78.9" r="2.2" fill="#e03c94"/>
<circle cx="597.8" cy="84.8" r="2.4" fill="#58c8cc"/>
<circle cx="537.8" cy="89.7" r="1.6" fill="#dcc444"/>
<circle cx="556.2" cy="87" r="1.6" fill="#e2542e"/>
<circle cx="572.1" cy="88.3" r="1.9" fill="#5a42b2"/>
<circle cx="579.7" cy="88.1" r="2.4" fill="#56c084"/>
<circle cx="564.8" cy="88.9" r="1.1" fill="#4a7ed2"/>
<circle cx="589.1" cy="89.7" r="2.2" fill="#e2542e"/>
<circle cx="531.9" cy="94.8" r="2.4" fill="#e2542e"/>
<circle cx="552.1" cy="92.4" r="1.9" fill="#ea86aa"/>
<circle cx="581.6" cy="94.3" r="2.4" fill="#dcc444"/>
<circle cx="541.9" cy="98.3" r="2.2" fill="#4a7ed2"/>
<circle cx="573.5" cy="97" r="2.7" fill="#4a7ed2"/>
<circle cx="558.1" cy="94.8" r="1.4" fill="#e2542e"/>
<circle cx="597.2" cy="97" r="1.4" fill="#4a7ed2"/>
<circle cx="533.8" cy="104.5" r="3.8" fill="#dcc444"/>
<circle cx="550" cy="102.9" r="1.4" fill="#5a42b2"/>
<circle cx="560.8" cy="101" r="2.2" fill="#56c084"/>
<circle cx="566.2" cy="107.2" r="1.6" fill="#e2542e"/>
<circle cx="571.6" cy="105.6" r="1.9" fill="#e03c94"/>
<circle cx="577.8" cy="106.4" r="1.9" fill="#58c8cc"/>
<circle cx="586.4" cy="101" r="1.6" fill="#ea86aa"/>
<circle cx="605.3" cy="110.5" r="2.4" fill="#4a7ed2"/>
<circle cx="533.8" cy="117.2" r="2.4" fill="#5a42b2"/>
<circle cx="548.6" cy="112.4" r="2.7" fill="#56c084"/>
<circle cx="557.2" cy="109.7" r="1.4" fill="#e2542e"/>
<circle cx="565.6" cy="115.1" r="2.4" fill="#ea86aa"/>
<circle cx="580.5" cy="114.5" r="1.4" fill="#e2542e"/>
<circle cx="590.5" cy="109.1" r="1.6" fill="#5a42b2"/>
<circle cx="547.3" cy="120.7" r="2.4" fill="#e03c94"/>
<circle cx="557.5" cy="122.6" r="2.4" fill="#4a7ed2"/>
<circle cx="565.6" cy="124" r="1.1" fill="#4a7ed2"/>
<circle cx="572.4" cy="122.1" r="2.4" fill="#58c8cc"/>
<circle cx="587.8" cy="123.4" r="2.2" fill="#ea86aa"/>
<circle cx="526.5" cy="129.4" r="4.3" fill="#58c8cc"/>
<circle cx="556.2" cy="135.6" r="2.4" fill="#dcc444"/>
<circle cx="576.4" cy="141.5" r="2.2" fill="#5a42b2"/>
<circle cx="621" cy="40.4" r="1.2" fill="#5a48b0"/>
<circle cx="624.7" cy="39.8" r="1.2" fill="#5a48b0"/>
<circle cx="621.6" cy="43.4" r="1.2" fill="#5a48b0"/>
<circle cx="625.3" cy="42.8" r="1.2" fill="#5a48b0"/>
<circle cx="628.3" cy="44" r="1.2" fill="#5a48b0"/>
<circle cx="622.2" cy="48.3" r="1.2" fill="#5a48b0"/>
<circle cx="627.7" cy="47.1" r="1.2" fill="#5a48b0"/>
<text x="635.4" y="45.3" font-size="5.75" text-anchor="start" fill="#333" font-weight="normal" >vct_tp63</text>
<circle cx="623.4" cy="59.9" r="1.2" fill="#3a88cc"/>
<circle cx="621.6" cy="65.4" r="1.2" fill="#3a88cc"/>
<circle cx="625.3" cy="64.2" r="1.2" fill="#3a88cc"/>
<circle cx="619.8" cy="69.1" r="1.2" fill="#3a88cc"/>
<circle cx="624" cy="67.2" r="1.2" fill="#3a88cc"/>
<circle cx="629.5" cy="67.2" r="1.2" fill="#3a88cc"/>
<circle cx="622.2" cy="72.1" r="1.2" fill="#3a88cc"/>
<circle cx="625.9" cy="70.3" r="1.2" fill="#3a88cc"/>
<text x="635.4" y="68.8" font-size="5.75" text-anchor="start" fill="#333" font-weight="normal" >VCT_LDHA</text>
<circle cx="620.4" cy="89.8" r="1.2" fill="#e05030"/>
<circle cx="624.7" cy="88" r="1.2" fill="#e05030"/>
<circle cx="627.7" cy="88" r="1.2" fill="#e05030"/>
<circle cx="621.6" cy="92.9" r="1.2" fill="#e05030"/>
<circle cx="625.9" cy="91.1" r="1.2" fill="#e05030"/>
<circle cx="629.5" cy="94.1" r="1.2" fill="#e05030"/>
<text x="635.4" y="92.3" font-size="5.75" text-anchor="start" fill="#333" font-weight="normal" >immune / stromal</text>
<text x="649.7" y="120.6" font-size="5.9" text-anchor="middle" fill="#333" font-weight="normal" >Ligand-Receptor</text>
<path d="M643.4,133 C643.4,138.8 646.4,141.3 650.3,141.3 C654.2,141.3 657.2,138.8 657.2,133" fill="none" stroke="#8cc0e6" stroke-width="5" stroke-linecap="round"/>
<line x1="650.3" y1="141" x2="650.3" y2="153" stroke="#8cc0e6" stroke-width="4.6" stroke-linecap="round"/>
<circle cx="650.3" cy="131.4" r="3.6" fill="#e04a28" stroke="#fff" stroke-width="0.7"/>
<text x="2.0" y="205.2" font-size="20" text-anchor="start" fill="#000" font-weight="normal" >B</text>
<g><path d="M115.3,270.4 C116.8,268.0 122.2,264.8 126.3,262.7 C130.4,260.6 136.1,258.1 140.0,258.0 C143.9,257.9 146.8,260.3 150.0,262.0 C153.2,263.7 157.2,265.3 159.1,268.0 C161.0,270.7 156.6,275.6 161.3,278.0 C166.1,280.4 180.3,281.5 187.6,282.4 C194.9,283.3 197.8,283.1 205.1,283.5 C212.4,283.9 225.2,283.5 231.4,284.6 C237.6,285.7 240.1,287.6 242.3,290.0 C244.5,292.4 244.9,295.9 244.5,298.8 C244.1,301.7 243.8,305.4 240.1,307.6 C236.4,309.8 226.6,310.2 222.6,312.0 C218.6,313.8 217.4,315.6 216.0,318.5 C214.6,321.4 215.0,325.1 213.9,329.5 C212.8,333.9 211.0,338.2 209.5,344.8 C208.0,351.4 207.3,362.7 205.1,368.9 C202.9,375.1 201.1,378.5 196.3,382.0 C191.6,385.5 183.2,388.6 176.6,389.7 C170.0,390.8 162.0,389.9 156.9,388.6 C151.8,387.3 148.4,385.3 146.0,382.0 C143.6,378.7 142.7,374.0 142.7,368.9 C142.7,363.8 143.6,357.2 146.0,351.4 C148.4,345.6 154.0,339.4 156.9,333.9 C159.8,328.4 162.8,323.6 163.5,318.5 C164.2,313.4 162.8,307.6 161.3,303.2 C159.8,298.8 157.6,294.5 154.7,292.3 C151.8,290.1 147.4,290.7 143.8,290.0 C140.2,289.3 136.3,289.0 133.0,288.0 C129.7,287.0 126.7,285.8 124.0,284.0 C121.3,282.2 118.5,279.3 117.0,277.0 C115.5,274.7 113.8,272.8 115.3,270.4Z" fill="#eec89c" opacity="1"/>
<path d="M182.6,280.5 C186.9,279.8 197.4,282.4 205.0,283.0 C212.6,283.6 222.4,283.5 228.0,284.0 C233.6,284.5 235.8,284.1 238.6,285.8 C241.4,287.6 244.2,291.3 244.8,294.5 C245.4,297.7 244.0,302.2 242.1,305.0 C240.2,307.8 236.9,309.6 233.4,311.2 C229.9,312.8 223.7,312.8 221.1,314.7 C218.5,316.6 219.1,319.0 217.6,322.6 C216.1,326.2 214.1,330.8 212.3,336.6 C210.6,342.4 208.6,355.6 207.1,357.6 C205.6,359.6 205.3,353.2 203.6,348.8 C201.8,344.4 198.1,337.1 196.6,331.3 C195.1,325.5 197.7,321.1 194.8,313.8 C191.9,306.5 181.0,293.1 179.0,287.5 C177.0,281.9 178.3,281.2 182.6,280.5Z" fill="#7cffba" opacity="0.55"/>
<path d="M200.0,283.0 C204.2,280.3 221.6,283.5 228.0,284.0 C234.4,284.5 235.8,284.1 238.6,285.8 C241.4,287.6 244.2,291.3 244.8,294.5 C245.4,297.7 244.0,302.2 242.1,305.0 C240.2,307.8 236.9,309.6 233.4,311.2 C229.9,312.8 225.0,314.4 221.1,314.7 C217.2,315.0 213.0,315.4 210.0,313.0 C207.0,310.6 204.7,305.0 203.0,300.0 C201.3,295.0 195.8,285.7 200.0,283.0Z" fill="#7cffba" opacity="1"/>
<path d="M130.0,263.0 C130.2,260.5 133.7,254.9 136.0,251.0 C138.3,247.1 139.6,242.9 143.8,239.7 C148.0,236.5 155.8,233.8 161.3,232.0 C166.8,230.2 171.1,229.0 176.6,229.2 C182.1,229.4 188.7,231.0 194.2,233.1 C199.7,235.2 205.7,238.6 209.5,241.9 C213.3,245.2 216.0,249.2 217.1,252.8 C218.2,256.4 217.3,260.5 216.0,263.8 C214.7,267.1 212.2,270.1 209.5,272.5 C206.8,274.9 200.7,278.4 199.6,278.0 C198.5,277.6 202.0,273.1 202.9,270.4 C203.8,267.7 206.2,264.5 205.1,261.6 C204.0,258.7 200.3,255.0 196.3,252.8 C192.3,250.6 186.1,248.5 181.0,248.5 C175.9,248.5 169.3,250.2 165.7,252.8 C162.0,255.4 160.9,261.6 159.1,263.8 C157.3,266.0 157.3,266.3 155.0,266.0 C152.7,265.7 148.3,262.0 145.0,262.0 C141.7,262.0 137.5,265.8 135.0,266.0 C132.5,266.2 129.8,265.5 130.0,263.0Z" fill="#f840a0" opacity="1"/>
<path d="M163.5,318.0 C162.0,320.0 159.8,328.3 156.9,333.9 C154.0,339.5 148.4,345.6 146.0,351.4 C143.6,357.2 142.7,363.8 142.7,368.9 C142.7,374.0 144.6,379.3 146.0,382.0 C147.4,384.7 150.5,387.0 151.0,385.0 C151.5,383.0 148.8,375.5 149.0,370.0 C149.2,364.5 150.2,357.7 152.0,352.0 C153.8,346.3 157.7,341.0 160.0,336.0 C162.3,331.0 165.4,325.0 166.0,322.0 C166.6,319.0 165.0,316.0 163.5,318.0Z" fill="#f840a0" opacity="0.85"/>
<path d="M83.0,224.1 C84.0,222.6 87.1,222.9 88.8,223.1 C90.5,223.3 91.7,225.7 93.2,225.5 C94.7,225.3 95.9,223.2 97.6,221.9 C99.3,220.6 101.2,218.8 103.4,217.5 C105.6,216.2 108.3,215.1 110.7,213.9 C113.1,212.7 116.4,210.4 118.0,210.2 C119.6,209.9 120.2,211.4 120.2,212.4 C120.2,213.4 119.8,214.5 118.0,216.1 C116.2,217.7 112.1,219.8 109.2,221.9 C106.3,224.0 102.7,226.6 100.5,228.5 C98.3,230.4 96.5,231.0 96.1,233.6 C95.7,236.2 98.5,241.7 98.3,243.8 C98.0,245.9 96.2,246.4 94.6,246.0 C93.0,245.6 90.4,242.9 88.8,241.6 C87.2,240.3 86.1,239.6 85.1,238.0 C84.1,236.4 83.0,234.4 82.7,232.1 C82.4,229.8 82.0,225.6 83.0,224.1Z" fill="#58d288" opacity="1"/>
<path d="M99.0,228.5 C99.8,226.8 104.4,223.5 107.0,221.0 C109.6,218.5 112.5,215.4 114.5,213.5 C116.5,211.6 117.8,209.8 119.0,209.5 C120.2,209.2 121.2,210.9 121.5,212.0 C121.8,213.1 121.4,214.7 120.5,216.0 C119.6,217.3 118.1,218.3 116.0,220.0 C113.9,221.7 110.3,224.2 108.0,226.0 C105.7,227.8 103.5,230.6 102.0,231.0 C100.5,231.4 98.2,230.2 99.0,228.5Z" fill="#f85a2a" opacity="1"/>
<path d="M88.5,246.7 C89.5,245.9 91.7,244.6 92.2,245.3 C92.7,246.0 91.6,249.2 91.5,251.0 C91.4,252.8 90.7,254.7 91.5,256.0 C92.3,257.3 94.9,257.9 96.1,259.0 C97.3,260.1 99.3,261.8 98.6,262.3 C97.9,262.8 93.8,262.1 91.7,261.8 C89.6,261.5 87.0,261.6 85.9,260.5 C84.8,259.4 85.0,256.8 85.1,255.0 C85.2,253.2 85.9,251.4 86.5,250.0 C87.1,248.6 87.5,247.5 88.5,246.7Z" fill="#86aede" opacity="1"/>
<path d="M53.8,329.6 C54.2,326.4 55.0,324.2 56.7,322.3 C58.4,320.4 61.1,318.7 64.0,318.0 C66.9,317.3 71.0,318.0 74.2,318.2 C77.4,318.4 81.9,318.3 83.0,319.4 C84.1,320.4 82.3,323.1 81.0,324.5 C79.7,325.9 76.5,326.1 75.0,327.5 C73.5,328.9 72.1,331.0 72.0,333.0 C71.9,335.0 72.8,337.8 74.5,339.5 C76.2,341.2 80.1,342.0 82.0,343.5 C83.9,345.0 85.5,346.1 85.9,348.6 C86.3,351.2 85.6,356.6 84.4,358.8 C83.2,361.0 80.3,362.3 78.6,361.8 C76.9,361.3 76.4,357.6 74.2,355.9 C72.0,354.2 68.1,352.9 65.4,351.5 C62.7,350.1 59.9,348.9 58.1,347.2 C56.3,345.5 55.2,344.2 54.5,341.3 C53.8,338.4 53.4,332.8 53.8,329.6Z" fill="#e88a30" opacity="1"/>
<path d="M78.6,322.3 C79.3,320.9 83.5,319.0 85.9,317.2 C88.3,315.4 91.6,312.1 93.2,311.4 C94.8,310.7 94.2,311.7 95.4,312.8 C96.6,313.9 98.7,315.9 100.5,318.0 C102.3,320.1 105.8,323.4 106.3,325.3 C106.8,327.2 104.9,328.5 103.4,329.6 C102.0,330.7 100.0,332.0 97.6,331.8 C95.2,331.6 91.5,329.3 88.8,328.2 C86.1,327.1 83.2,326.3 81.5,325.3 C79.8,324.3 77.9,323.7 78.6,322.3Z" fill="#8a40f4" opacity="1"/>
<path d="M74.2,355.9 C75.7,353.0 81.5,350.3 84.4,348.6 C87.3,346.9 89.0,346.1 91.7,345.7 C94.4,345.3 97.3,346.6 100.5,346.4 C103.7,346.1 107.9,344.6 110.7,344.2 C113.5,343.8 116.1,343.7 117.3,344.2 C118.5,344.7 118.8,346.3 118.0,347.2 C117.2,348.1 115.1,348.8 112.2,349.3 C109.3,349.8 103.9,349.2 100.5,350.1 C97.1,351.0 92.7,352.6 91.7,354.5 C90.7,356.4 93.9,359.1 94.6,361.8 C95.3,364.5 96.6,367.8 96.1,370.5 C95.6,373.2 93.9,376.3 91.7,377.8 C89.5,379.3 85.3,379.8 83.0,379.3 C80.7,378.8 79.0,377.1 77.8,374.9 C76.6,372.7 76.3,369.3 75.7,366.1 C75.1,362.9 72.8,358.8 74.2,355.9Z" fill="#6088e6" opacity="1"/>
<path d="M119.0,286.0 C120.2,284.7 123.0,283.8 125.0,284.0 C127.0,284.2 129.5,285.7 131.0,287.0 C132.5,288.3 133.7,290.0 134.0,292.0 C134.3,294.0 134.0,296.8 133.0,299.0 C132.0,301.2 129.8,303.8 128.0,305.0 C126.2,306.2 123.6,306.8 122.0,306.0 C120.4,305.2 119.2,302.3 118.5,300.0 C117.8,297.7 117.4,294.3 117.5,292.0 C117.6,289.7 117.8,287.3 119.0,286.0Z" fill="#7360d2" opacity="1"/>
<path d="M130.0,288.0 C130.5,285.8 134.3,286.3 136.0,287.0 C137.7,287.7 139.5,290.0 140.0,292.0 C140.5,294.0 140.2,297.7 139.0,299.0 C137.8,300.3 134.5,301.8 133.0,300.0 C131.5,298.2 129.5,290.2 130.0,288.0Z" fill="#4a9cf4" opacity="1"/>
<path d="M111.0,304.0 C111.5,302.8 115.0,302.3 117.0,302.5 C119.0,302.7 122.5,303.7 123.0,305.0 C123.5,306.3 121.5,309.7 120.0,310.5 C118.5,311.3 115.5,311.1 114.0,310.0 C112.5,308.9 110.5,305.2 111.0,304.0Z" fill="#5ad8dc" opacity="1"/>
<path fill="#6a5ad0" d="M163.1 337.7h1.2v1.2h-1.2zM148.7 288.9h1.2v1.2h-1.2zM197.5 372.6h1.2v1.2h-1.2zM183.0 355.8h1.2v1.2h-1.2zM166.3 363.7h1.2v1.2h-1.2zM172.8 381.5h1.2v1.2h-1.2zM132.7 286.6h1.2v1.2h-1.2zM196.5 297.7h1.2v1.2h-1.2zM180.9 308.9h1.2v1.2h-1.2zM160.6 335.2h1.2v1.2h-1.2zM191.0 377.4h1.2v1.2h-1.2zM207.8 285.9h1.2v1.2h-1.2zM152.0 266.4h1.2v1.2h-1.2zM153.2 359.5h1.2v1.2h-1.2zM208.4 301.7h1.2v1.2h-1.2zM155.3 268.2h1.2v1.2h-1.2zM155.8 384.5h1.2v1.2h-1.2zM231.6 307.9h1.2v1.2h-1.2zM174.9 326.6h1.2v1.2h-1.2zM198.7 336.6h1.2v1.2h-1.2zM187.7 339.9h1.2v1.2h-1.2zM171.1 353.1h1.2v1.2h-1.2zM169.0 334.6h1.2v1.2h-1.2zM196.6 319.5h1.2v1.2h-1.2zM203.3 304.5h1.2v1.2h-1.2zM206.9 355.4h1.2v1.2h-1.2zM192.0 300.2h1.2v1.2h-1.2zM162.3 299.3h1.2v1.2h-1.2zM163.0 336.6h1.2v1.2h-1.2zM189.0 355.0h1.2v1.2h-1.2zM155.3 287.4h1.2v1.2h-1.2zM219.5 289.5h1.2v1.2h-1.2zM158.8 343.8h1.2v1.2h-1.2zM144.3 274.0h1.2v1.2h-1.2zM183.9 283.2h1.2v1.2h-1.2zM219.8 303.6h1.2v1.2h-1.2zM218.2 293.8h1.2v1.2h-1.2zM169.6 312.1h1.2v1.2h-1.2zM171.5 383.4h1.2v1.2h-1.2zM235.6 287.3h1.2v1.2h-1.2zM201.2 326.5h1.2v1.2h-1.2zM144.6 267.0h1.2v1.2h-1.2zM191.5 295.9h1.2v1.2h-1.2zM201.2 327.3h1.2v1.2h-1.2zM168.8 382.0h1.2v1.2h-1.2zM194.6 303.1h1.2v1.2h-1.2zM147.8 371.7h1.2v1.2h-1.2zM177.0 361.3h1.2v1.2h-1.2zM160.7 284.0h1.2v1.2h-1.2zM184.5 365.8h1.2v1.2h-1.2zM196.7 371.9h1.2v1.2h-1.2zM170.0 320.4h1.2v1.2h-1.2zM122.1 274.7h1.2v1.2h-1.2zM131.2 267.0h1.2v1.2h-1.2zM160.7 343.4h1.2v1.2h-1.2zM191.3 305.6h1.2v1.2h-1.2zM208.1 308.2h1.2v1.2h-1.2zM125.4 281.6h1.2v1.2h-1.2zM163.5 337.8h1.2v1.2h-1.2zM216.7 308.2h1.2v1.2h-1.2zM171.1 307.2h1.2v1.2h-1.2zM179.5 350.8h1.2v1.2h-1.2zM169.7 349.6h1.2v1.2h-1.2zM174.9 290.4h1.2v1.2h-1.2zM184.7 349.8h1.2v1.2h-1.2zM170.4 374.1h1.2v1.2h-1.2zM236.7 307.4h1.2v1.2h-1.2zM210.4 332.4h1.2v1.2h-1.2zM126.9 271.1h1.2v1.2h-1.2zM202.6 368.4h1.2v1.2h-1.2zM188.3 367.3h1.2v1.2h-1.2zM146.5 281.7h1.2v1.2h-1.2zM213.0 310.0h1.2v1.2h-1.2zM162.8 310.4h1.2v1.2h-1.2zM204.8 357.8h1.2v1.2h-1.2zM202.6 326.3h1.2v1.2h-1.2zM177.9 342.9h1.2v1.2h-1.2zM172.6 352.9h1.2v1.2h-1.2zM155.9 288.7h1.2v1.2h-1.2zM153.5 351.1h1.2v1.2h-1.2zM168.7 370.7h1.2v1.2h-1.2zM191.0 293.3h1.2v1.2h-1.2zM143.3 261.1h1.2v1.2h-1.2zM177.3 308.5h1.2v1.2h-1.2zM156.9 360.2h1.2v1.2h-1.2zM177.3 337.1h1.2v1.2h-1.2zM175.8 368.2h1.2v1.2h-1.2zM177.6 353.1h1.2v1.2h-1.2zM226.4 310.8h1.2v1.2h-1.2zM175.8 288.3h1.2v1.2h-1.2zM226.0 290.0h1.2v1.2h-1.2zM148.2 372.2h1.2v1.2h-1.2zM190.4 347.2h1.2v1.2h-1.2zM171.7 322.1h1.2v1.2h-1.2zM150.7 345.8h1.2v1.2h-1.2zM237.4 307.4h1.2v1.2h-1.2zM153.4 347.2h1.2v1.2h-1.2zM200.0 364.4h1.2v1.2h-1.2zM149.5 357.6h1.2v1.2h-1.2zM179.2 304.5h1.2v1.2h-1.2zM208.4 347.6h1.2v1.2h-1.2zM198.9 341.3h1.2v1.2h-1.2zM158.1 353.1h1.2v1.2h-1.2zM192.7 331.2h1.2v1.2h-1.2zM199.2 318.4h1.2v1.2h-1.2zM155.6 281.3h1.2v1.2h-1.2zM213.1 329.7h1.2v1.2h-1.2zM211.2 305.4h1.2v1.2h-1.2zM180.6 290.6h1.2v1.2h-1.2zM215.0 304.7h1.2v1.2h-1.2zM185.4 359.9h1.2v1.2h-1.2zM160.9 369.8h1.2v1.2h-1.2zM128.0 272.9h1.2v1.2h-1.2zM139.0 283.0h1.2v1.2h-1.2zM169.2 356.1h1.2v1.2h-1.2zM166.8 283.6h1.2v1.2h-1.2zM183.6 333.0h1.2v1.2h-1.2zM186.8 335.0h1.2v1.2h-1.2zM204.3 297.5h1.2v1.2h-1.2zM193.2 353.9h1.2v1.2h-1.2zM201.1 322.9h1.2v1.2h-1.2zM183.1 318.8h1.2v1.2h-1.2zM199.0 316.6h1.2v1.2h-1.2zM188.6 384.6h1.2v1.2h-1.2zM145.3 268.3h1.2v1.2h-1.2zM185.1 380.7h1.2v1.2h-1.2zM157.0 372.9h1.2v1.2h-1.2zM211.2 303.4h1.2v1.2h-1.2zM213.4 322.0h1.2v1.2h-1.2zM129.2 263.6h1.2v1.2h-1.2zM125.1 284.4h1.2v1.2h-1.2zM205.9 328.9h1.2v1.2h-1.2zM169.9 343.7h1.2v1.2h-1.2zM213.4 311.0h1.2v1.2h-1.2zM208.6 306.4h1.2v1.2h-1.2zM163.2 327.9h1.2v1.2h-1.2zM192.5 287.5h1.2v1.2h-1.2zM174.8 283.8h1.2v1.2h-1.2zM142.2 280.5h1.2v1.2h-1.2zM167.5 280.2h1.2v1.2h-1.2z"/>
<path fill="#f840a0" d="M124.3 278.6h1.3v1.3h-1.3zM139.6 275.1h1.3v1.3h-1.3zM137.2 274.7h1.3v1.3h-1.3zM141.1 264.9h1.3v1.3h-1.3zM149.2 272.5h1.3v1.3h-1.3zM155.0 269.6h1.3v1.3h-1.3zM158.3 277.5h1.3v1.3h-1.3zM128.7 269.2h1.3v1.3h-1.3zM159.8 284.4h1.3v1.3h-1.3zM134.0 261.9h1.3v1.3h-1.3zM159.2 296.5h1.3v1.3h-1.3zM131.8 283.5h1.3v1.3h-1.3zM121.3 274.4h1.3v1.3h-1.3zM133.4 286.6h1.3v1.3h-1.3zM155.7 288.8h1.3v1.3h-1.3zM161.0 281.2h1.3v1.3h-1.3zM137.8 267.6h1.3v1.3h-1.3zM157.9 278.2h1.3v1.3h-1.3zM129.8 265.1h1.3v1.3h-1.3zM154.6 283.4h1.3v1.3h-1.3zM154.1 274.2h1.3v1.3h-1.3zM141.8 264.5h1.3v1.3h-1.3zM164.3 288.8h1.3v1.3h-1.3zM133.4 273.5h1.3v1.3h-1.3zM119.0 274.8h1.3v1.3h-1.3zM146.3 262.6h1.3v1.3h-1.3zM127.1 281.6h1.3v1.3h-1.3zM144.4 265.9h1.3v1.3h-1.3zM119.7 277.5h1.3v1.3h-1.3zM148.8 285.0h1.3v1.3h-1.3zM156.9 294.6h1.3v1.3h-1.3zM134.0 283.3h1.3v1.3h-1.3zM139.5 262.7h1.3v1.3h-1.3zM160.9 283.0h1.3v1.3h-1.3zM144.7 277.5h1.3v1.3h-1.3zM134.0 278.4h1.3v1.3h-1.3zM155.4 275.8h1.3v1.3h-1.3zM150.7 283.4h1.3v1.3h-1.3zM126.8 272.7h1.3v1.3h-1.3zM138.7 261.5h1.3v1.3h-1.3zM127.0 264.9h1.3v1.3h-1.3zM166.2 288.5h1.3v1.3h-1.3zM163.1 299.4h1.3v1.3h-1.3zM144.5 275.6h1.3v1.3h-1.3zM167.1 295.9h1.3v1.3h-1.3zM157.5 275.1h1.3v1.3h-1.3zM169.9 296.7h1.3v1.3h-1.3zM154.7 270.4h1.3v1.3h-1.3zM143.6 284.8h1.3v1.3h-1.3zM130.2 276.2h1.3v1.3h-1.3zM156.1 270.1h1.3v1.3h-1.3zM120.7 270.6h1.3v1.3h-1.3zM137.6 261.3h1.3v1.3h-1.3zM168.9 294.8h1.3v1.3h-1.3zM135.5 264.8h1.3v1.3h-1.3zM132.2 277.5h1.3v1.3h-1.3zM143.9 280.8h1.3v1.3h-1.3zM130.7 277.5h1.3v1.3h-1.3zM163.8 291.9h1.3v1.3h-1.3zM131.4 268.2h1.3v1.3h-1.3zM122.2 280.3h1.3v1.3h-1.3zM144.5 265.0h1.3v1.3h-1.3zM157.3 277.6h1.3v1.3h-1.3zM168.9 291.0h1.3v1.3h-1.3zM138.8 272.2h1.3v1.3h-1.3zM120.2 271.1h1.3v1.3h-1.3zM138.0 268.9h1.3v1.3h-1.3zM117.4 276.0h1.3v1.3h-1.3zM149.5 286.4h1.3v1.3h-1.3zM165.2 292.0h1.3v1.3h-1.3zM128.6 263.7h1.3v1.3h-1.3zM156.7 291.2h1.3v1.3h-1.3zM145.4 269.7h1.3v1.3h-1.3zM159.8 283.3h1.3v1.3h-1.3zM137.8 279.8h1.3v1.3h-1.3zM124.4 265.7h1.3v1.3h-1.3zM145.1 275.1h1.3v1.3h-1.3zM134.4 277.1h1.3v1.3h-1.3zM159.2 277.0h1.3v1.3h-1.3zM132.3 279.9h1.3v1.3h-1.3zM160.5 297.1h1.3v1.3h-1.3zM146.6 281.1h1.3v1.3h-1.3zM141.8 269.8h1.3v1.3h-1.3zM135.4 279.6h1.3v1.3h-1.3zM164.3 298.3h1.3v1.3h-1.3zM150.4 266.2h1.3v1.3h-1.3zM132.4 269.4h1.3v1.3h-1.3zM167.2 297.6h1.3v1.3h-1.3zM132.5 274.5h1.3v1.3h-1.3zM130.5 263.5h1.3v1.3h-1.3z"/>
<path fill="#f840a0" d="M158.4 366.9h1.3v1.3h-1.3zM169.3 356.8h1.3v1.3h-1.3zM168.6 300.5h1.3v1.3h-1.3zM163.6 358.2h1.3v1.3h-1.3zM166.6 315.9h1.3v1.3h-1.3zM146.6 374.0h1.3v1.3h-1.3zM170.6 304.4h1.3v1.3h-1.3zM173.6 348.1h1.3v1.3h-1.3zM152.3 382.3h1.3v1.3h-1.3zM174.3 322.1h1.3v1.3h-1.3zM152.4 385.6h1.3v1.3h-1.3zM157.0 363.3h1.3v1.3h-1.3zM152.1 367.3h1.3v1.3h-1.3zM167.4 351.2h1.3v1.3h-1.3zM156.2 348.4h1.3v1.3h-1.3zM155.5 348.1h1.3v1.3h-1.3zM169.2 318.0h1.3v1.3h-1.3zM160.8 384.0h1.3v1.3h-1.3zM169.7 316.2h1.3v1.3h-1.3zM173.7 375.6h1.3v1.3h-1.3zM174.2 336.8h1.3v1.3h-1.3zM170.5 310.3h1.3v1.3h-1.3zM164.0 347.3h1.3v1.3h-1.3zM166.8 308.3h1.3v1.3h-1.3zM158.9 339.7h1.3v1.3h-1.3zM151.3 345.6h1.3v1.3h-1.3zM152.5 354.1h1.3v1.3h-1.3zM174.3 384.3h1.3v1.3h-1.3zM170.2 375.2h1.3v1.3h-1.3zM157.5 365.9h1.3v1.3h-1.3zM151.9 358.1h1.3v1.3h-1.3zM155.9 343.0h1.3v1.3h-1.3zM158.6 378.7h1.3v1.3h-1.3zM174.5 347.6h1.3v1.3h-1.3zM155.5 355.6h1.3v1.3h-1.3zM169.7 370.0h1.3v1.3h-1.3zM159.2 379.5h1.3v1.3h-1.3zM155.1 378.1h1.3v1.3h-1.3zM164.9 332.5h1.3v1.3h-1.3zM150.5 345.5h1.3v1.3h-1.3zM162.8 378.8h1.3v1.3h-1.3zM158.9 382.9h1.3v1.3h-1.3zM158.7 366.4h1.3v1.3h-1.3zM169.0 375.4h1.3v1.3h-1.3zM172.0 339.7h1.3v1.3h-1.3zM163.9 310.9h1.3v1.3h-1.3zM170.8 334.0h1.3v1.3h-1.3zM156.6 380.1h1.3v1.3h-1.3zM168.8 353.9h1.3v1.3h-1.3zM169.1 316.5h1.3v1.3h-1.3zM157.9 338.9h1.3v1.3h-1.3zM162.0 359.4h1.3v1.3h-1.3zM174.3 362.2h1.3v1.3h-1.3zM156.8 338.0h1.3v1.3h-1.3zM171.3 374.4h1.3v1.3h-1.3zM160.4 379.6h1.3v1.3h-1.3zM158.3 351.7h1.3v1.3h-1.3zM156.4 377.2h1.3v1.3h-1.3zM174.4 359.5h1.3v1.3h-1.3zM150.4 381.0h1.3v1.3h-1.3z"/>
<path fill="#ffffff" d="M137.6 255.6h1.4v1.4h-1.4zM183.9 246.5h1.4v1.4h-1.4zM206.5 266.4h1.4v1.4h-1.4zM211.8 248.7h1.4v1.4h-1.4zM163.1 248.2h1.4v1.4h-1.4zM145.9 251.0h1.4v1.4h-1.4zM162.5 256.1h1.4v1.4h-1.4zM193.1 245.6h1.4v1.4h-1.4zM135.2 255.5h1.4v1.4h-1.4zM205.8 252.8h1.4v1.4h-1.4zM209.0 256.2h1.4v1.4h-1.4zM194.8 246.2h1.4v1.4h-1.4zM178.4 248.0h1.4v1.4h-1.4zM135.4 256.8h1.4v1.4h-1.4zM155.4 265.7h1.4v1.4h-1.4zM141.4 248.5h1.4v1.4h-1.4zM143.6 249.2h1.4v1.4h-1.4zM144.1 254.3h1.4v1.4h-1.4zM207.5 254.8h1.4v1.4h-1.4zM215.1 252.8h1.4v1.4h-1.4zM134.4 264.6h1.4v1.4h-1.4zM140.7 262.7h1.4v1.4h-1.4zM150.6 254.5h1.4v1.4h-1.4zM190.3 250.2h1.4v1.4h-1.4zM141.1 261.3h1.4v1.4h-1.4zM205.5 265.8h1.4v1.4h-1.4zM138.0 260.5h1.4v1.4h-1.4zM199.6 248.3h1.4v1.4h-1.4zM151.7 264.3h1.4v1.4h-1.4zM174.2 245.0h1.4v1.4h-1.4zM201.2 248.2h1.4v1.4h-1.4zM201.5 251.1h1.4v1.4h-1.4zM146.3 251.5h1.4v1.4h-1.4zM201.0 246.0h1.4v1.4h-1.4zM146.8 249.6h1.4v1.4h-1.4zM174.6 250.2h1.4v1.4h-1.4zM200.5 254.0h1.4v1.4h-1.4zM136.6 254.0h1.4v1.4h-1.4zM212.8 249.5h1.4v1.4h-1.4zM153.9 252.6h1.4v1.4h-1.4zM137.6 260.5h1.4v1.4h-1.4zM198.0 254.4h1.4v1.4h-1.4zM131.5 263.2h1.4v1.4h-1.4zM213.0 249.9h1.4v1.4h-1.4zM162.1 252.2h1.4v1.4h-1.4zM149.5 252.6h1.4v1.4h-1.4zM149.4 246.6h1.4v1.4h-1.4zM215.9 252.8h1.4v1.4h-1.4zM144.3 245.5h1.4v1.4h-1.4zM209.0 257.4h1.4v1.4h-1.4zM157.3 250.4h1.4v1.4h-1.4zM196.4 246.9h1.4v1.4h-1.4zM143.7 259.5h1.4v1.4h-1.4zM170.4 247.7h1.4v1.4h-1.4zM172.8 250.5h1.4v1.4h-1.4zM144.0 248.5h1.4v1.4h-1.4zM209.6 269.6h1.4v1.4h-1.4zM211.1 250.6h1.4v1.4h-1.4zM203.8 250.0h1.4v1.4h-1.4zM155.0 251.0h1.4v1.4h-1.4zM155.1 248.0h1.4v1.4h-1.4zM210.6 245.3h1.4v1.4h-1.4zM162.8 254.4h1.4v1.4h-1.4zM154.6 262.6h1.4v1.4h-1.4zM162.9 245.9h1.4v1.4h-1.4zM207.8 245.9h1.4v1.4h-1.4zM141.1 245.1h1.4v1.4h-1.4zM176.6 249.2h1.4v1.4h-1.4zM170.5 247.9h1.4v1.4h-1.4zM160.7 246.8h1.4v1.4h-1.4z"/>
<path fill="#ffffff" d="M215.0 318.3h1.3v1.3h-1.3zM211.7 316.1h1.3v1.3h-1.3zM210.2 337.2h1.3v1.3h-1.3zM196.2 286.3h1.3v1.3h-1.3zM204.0 288.6h1.3v1.3h-1.3zM185.0 286.9h1.3v1.3h-1.3zM233.8 302.4h1.3v1.3h-1.3zM240.9 297.1h1.3v1.3h-1.3zM243.0 297.4h1.3v1.3h-1.3zM217.7 290.3h1.3v1.3h-1.3zM213.4 333.5h1.3v1.3h-1.3zM197.6 298.7h1.3v1.3h-1.3zM207.9 311.2h1.3v1.3h-1.3zM200.0 306.9h1.3v1.3h-1.3zM198.5 285.9h1.3v1.3h-1.3zM218.2 312.4h1.3v1.3h-1.3zM193.3 288.0h1.3v1.3h-1.3zM202.2 328.1h1.3v1.3h-1.3zM213.5 319.3h1.3v1.3h-1.3zM233.9 295.4h1.3v1.3h-1.3zM230.8 303.9h1.3v1.3h-1.3zM235.0 285.8h1.3v1.3h-1.3zM211.0 315.4h1.3v1.3h-1.3zM226.0 296.2h1.3v1.3h-1.3zM196.3 290.6h1.3v1.3h-1.3zM216.1 326.1h1.3v1.3h-1.3zM209.0 325.2h1.3v1.3h-1.3zM198.1 332.8h1.3v1.3h-1.3zM211.3 283.6h1.3v1.3h-1.3zM231.1 305.5h1.3v1.3h-1.3zM198.4 330.0h1.3v1.3h-1.3zM217.6 319.7h1.3v1.3h-1.3zM201.6 285.2h1.3v1.3h-1.3zM215.5 309.1h1.3v1.3h-1.3zM214.4 307.8h1.3v1.3h-1.3zM189.4 287.5h1.3v1.3h-1.3zM220.9 285.0h1.3v1.3h-1.3zM228.6 298.3h1.3v1.3h-1.3zM197.9 299.9h1.3v1.3h-1.3zM217.2 291.9h1.3v1.3h-1.3zM207.3 336.2h1.3v1.3h-1.3zM199.2 289.9h1.3v1.3h-1.3zM205.2 350.2h1.3v1.3h-1.3zM196.5 309.5h1.3v1.3h-1.3zM207.3 333.6h1.3v1.3h-1.3zM202.5 320.6h1.3v1.3h-1.3zM203.4 308.4h1.3v1.3h-1.3zM219.6 298.3h1.3v1.3h-1.3zM229.1 311.4h1.3v1.3h-1.3zM202.5 304.2h1.3v1.3h-1.3zM204.0 324.9h1.3v1.3h-1.3zM207.7 331.4h1.3v1.3h-1.3zM213.1 302.8h1.3v1.3h-1.3zM229.1 302.3h1.3v1.3h-1.3zM213.5 309.9h1.3v1.3h-1.3zM217.9 315.9h1.3v1.3h-1.3zM217.6 304.9h1.3v1.3h-1.3zM219.9 290.0h1.3v1.3h-1.3zM213.7 300.6h1.3v1.3h-1.3zM210.2 340.4h1.3v1.3h-1.3zM204.4 321.9h1.3v1.3h-1.3zM211.2 284.7h1.3v1.3h-1.3zM206.8 351.0h1.3v1.3h-1.3zM220.2 305.2h1.3v1.3h-1.3zM232.7 308.4h1.3v1.3h-1.3zM229.9 289.2h1.3v1.3h-1.3zM217.9 307.9h1.3v1.3h-1.3zM200.3 312.6h1.3v1.3h-1.3zM192.2 293.5h1.3v1.3h-1.3zM229.5 293.5h1.3v1.3h-1.3zM206.4 297.8h1.3v1.3h-1.3zM216.0 304.3h1.3v1.3h-1.3zM234.0 295.8h1.3v1.3h-1.3zM208.4 287.0h1.3v1.3h-1.3zM212.0 292.3h1.3v1.3h-1.3zM202.4 285.5h1.3v1.3h-1.3zM180.7 288.8h1.3v1.3h-1.3zM209.4 289.7h1.3v1.3h-1.3zM242.2 301.4h1.3v1.3h-1.3zM205.9 328.2h1.3v1.3h-1.3zM186.5 298.8h1.3v1.3h-1.3zM206.6 339.6h1.3v1.3h-1.3zM210.0 335.9h1.3v1.3h-1.3zM218.1 285.0h1.3v1.3h-1.3zM241.1 305.3h1.3v1.3h-1.3zM204.4 300.1h1.3v1.3h-1.3zM200.2 326.3h1.3v1.3h-1.3zM189.3 300.5h1.3v1.3h-1.3zM224.5 297.1h1.3v1.3h-1.3zM224.0 295.6h1.3v1.3h-1.3z"/>
<path fill="#7cffba" d="M213.2 326.5h1.4v1.4h-1.4zM209.6 332.8h1.4v1.4h-1.4zM232.6 291.5h1.4v1.4h-1.4zM203.6 336.5h1.4v1.4h-1.4zM218.1 311.8h1.4v1.4h-1.4zM207.9 325.0h1.4v1.4h-1.4zM231.2 304.3h1.4v1.4h-1.4zM219.3 300.8h1.4v1.4h-1.4zM209.6 287.7h1.4v1.4h-1.4zM189.7 288.7h1.4v1.4h-1.4zM204.0 319.7h1.4v1.4h-1.4zM225.9 303.9h1.4v1.4h-1.4zM191.4 283.4h1.4v1.4h-1.4zM210.6 321.6h1.4v1.4h-1.4zM219.4 310.0h1.4v1.4h-1.4zM185.9 294.2h1.4v1.4h-1.4zM225.2 294.1h1.4v1.4h-1.4zM203.6 334.1h1.4v1.4h-1.4zM202.3 332.3h1.4v1.4h-1.4zM199.4 331.2h1.4v1.4h-1.4zM211.4 340.1h1.4v1.4h-1.4zM217.3 285.6h1.4v1.4h-1.4zM235.1 304.2h1.4v1.4h-1.4zM185.3 285.9h1.4v1.4h-1.4zM195.3 305.8h1.4v1.4h-1.4zM208.4 324.1h1.4v1.4h-1.4zM201.5 318.1h1.4v1.4h-1.4zM235.9 299.5h1.4v1.4h-1.4zM233.3 309.8h1.4v1.4h-1.4zM201.0 288.1h1.4v1.4h-1.4zM201.6 294.1h1.4v1.4h-1.4zM212.2 311.8h1.4v1.4h-1.4zM192.3 293.7h1.4v1.4h-1.4zM216.8 288.8h1.4v1.4h-1.4zM238.5 306.6h1.4v1.4h-1.4zM225.7 295.6h1.4v1.4h-1.4zM210.9 325.3h1.4v1.4h-1.4zM199.1 295.8h1.4v1.4h-1.4zM212.7 334.1h1.4v1.4h-1.4zM201.4 291.9h1.4v1.4h-1.4zM187.5 291.9h1.4v1.4h-1.4zM213.5 309.2h1.4v1.4h-1.4zM214.5 297.3h1.4v1.4h-1.4zM199.5 305.7h1.4v1.4h-1.4zM238.3 286.5h1.4v1.4h-1.4zM206.5 348.4h1.4v1.4h-1.4zM216.8 300.5h1.4v1.4h-1.4zM188.0 281.4h1.4v1.4h-1.4zM208.0 348.7h1.4v1.4h-1.4zM197.6 302.8h1.4v1.4h-1.4zM231.7 286.2h1.4v1.4h-1.4zM197.0 329.9h1.4v1.4h-1.4zM225.2 284.6h1.4v1.4h-1.4zM194.8 310.1h1.4v1.4h-1.4zM212.4 301.9h1.4v1.4h-1.4zM222.4 300.4h1.4v1.4h-1.4zM193.6 286.3h1.4v1.4h-1.4zM187.4 297.2h1.4v1.4h-1.4zM194.9 306.2h1.4v1.4h-1.4zM212.3 300.6h1.4v1.4h-1.4z"/>
<path fill="#4a70e0" d="M201.9 284.3h1.2v1.2h-1.2zM213.9 285.9h1.2v1.2h-1.2zM184.6 285.6h1.2v1.2h-1.2zM194.8 284.1h1.2v1.2h-1.2zM218.8 285.4h1.2v1.2h-1.2zM212.1 283.7h1.2v1.2h-1.2zM202.1 283.8h1.2v1.2h-1.2zM200.3 284.3h1.2v1.2h-1.2zM225.0 286.9h1.2v1.2h-1.2zM235.5 286.1h1.2v1.2h-1.2zM224.9 283.9h1.2v1.2h-1.2zM197.3 283.8h1.2v1.2h-1.2zM181.1 285.1h1.2v1.2h-1.2zM194.7 283.8h1.2v1.2h-1.2zM230.5 285.9h1.2v1.2h-1.2zM185.0 285.2h1.2v1.2h-1.2zM181.2 286.2h1.2v1.2h-1.2zM217.9 285.5h1.2v1.2h-1.2zM183.6 285.1h1.2v1.2h-1.2zM238.6 286.6h1.2v1.2h-1.2zM228.2 286.0h1.2v1.2h-1.2zM197.3 285.0h1.2v1.2h-1.2zM202.1 284.8h1.2v1.2h-1.2zM204.5 284.0h1.2v1.2h-1.2zM183.1 286.4h1.2v1.2h-1.2zM215.4 287.0h1.2v1.2h-1.2zM205.7 283.7h1.2v1.2h-1.2zM219.7 285.9h1.2v1.2h-1.2zM197.0 284.3h1.2v1.2h-1.2zM183.7 283.6h1.2v1.2h-1.2zM227.3 286.5h1.2v1.2h-1.2zM186.1 285.7h1.2v1.2h-1.2zM184.1 284.0h1.2v1.2h-1.2zM187.5 285.4h1.2v1.2h-1.2zM220.5 285.4h1.2v1.2h-1.2zM184.5 281.8h1.2v1.2h-1.2zM199.5 283.6h1.2v1.2h-1.2zM199.1 283.0h1.2v1.2h-1.2zM187.7 285.4h1.2v1.2h-1.2zM234.9 285.6h1.2v1.2h-1.2z"/>
<path fill="#ffffff" d="M78.1 351.0h1.3v1.3h-1.3zM72.7 343.6h1.3v1.3h-1.3zM71.7 350.3h1.3v1.3h-1.3zM74.5 349.0h1.3v1.3h-1.3zM71.8 344.2h1.3v1.3h-1.3zM67.9 348.3h1.3v1.3h-1.3zM68.6 339.7h1.3v1.3h-1.3zM70.6 333.2h1.3v1.3h-1.3zM78.0 359.0h1.3v1.3h-1.3zM75.5 350.0h1.3v1.3h-1.3zM75.0 320.0h1.3v1.3h-1.3zM78.9 357.4h1.3v1.3h-1.3zM75.8 352.2h1.3v1.3h-1.3zM81.0 343.4h1.3v1.3h-1.3zM79.3 360.7h1.3v1.3h-1.3zM82.6 346.2h1.3v1.3h-1.3zM67.5 333.8h1.3v1.3h-1.3zM74.0 328.6h1.3v1.3h-1.3zM76.5 346.9h1.3v1.3h-1.3zM77.6 346.9h1.3v1.3h-1.3zM70.9 320.4h1.3v1.3h-1.3zM72.7 337.2h1.3v1.3h-1.3zM78.3 355.7h1.3v1.3h-1.3zM83.0 351.0h1.3v1.3h-1.3zM84.9 353.3h1.3v1.3h-1.3zM67.1 348.5h1.3v1.3h-1.3zM71.7 352.8h1.3v1.3h-1.3zM68.5 335.9h1.3v1.3h-1.3zM71.3 337.7h1.3v1.3h-1.3zM77.1 321.8h1.3v1.3h-1.3z"/>
<path fill="#8a40f4" d="M72.8 345.6h1.2v1.2h-1.2zM83.9 354.0h1.2v1.2h-1.2zM62.7 327.0h1.2v1.2h-1.2zM70.7 327.3h1.2v1.2h-1.2zM72.7 320.6h1.2v1.2h-1.2zM65.9 349.5h1.2v1.2h-1.2zM61.4 323.7h1.2v1.2h-1.2zM77.7 325.7h1.2v1.2h-1.2zM82.7 344.6h1.2v1.2h-1.2zM69.1 328.6h1.2v1.2h-1.2zM60.2 320.6h1.2v1.2h-1.2zM62.3 346.5h1.2v1.2h-1.2zM75.5 327.1h1.2v1.2h-1.2zM61.2 339.9h1.2v1.2h-1.2zM74.7 323.8h1.2v1.2h-1.2zM72.1 343.6h1.2v1.2h-1.2zM55.9 336.3h1.2v1.2h-1.2zM67.5 325.0h1.2v1.2h-1.2zM61.1 330.8h1.2v1.2h-1.2zM57.8 329.8h1.2v1.2h-1.2z"/>
<path fill="#ffffff" d="M96.2 348.8h1.3v1.3h-1.3zM108.1 348.8h1.3v1.3h-1.3zM82.2 353.1h1.3v1.3h-1.3zM84.4 354.3h1.3v1.3h-1.3zM95.7 346.6h1.3v1.3h-1.3zM92.1 350.0h1.3v1.3h-1.3zM85.8 353.6h1.3v1.3h-1.3zM84.7 351.0h1.3v1.3h-1.3zM84.3 350.2h1.3v1.3h-1.3zM87.9 353.3h1.3v1.3h-1.3zM105.3 348.3h1.3v1.3h-1.3zM105.2 348.9h1.3v1.3h-1.3zM88.7 357.0h1.3v1.3h-1.3zM110.0 347.2h1.3v1.3h-1.3zM93.6 348.1h1.3v1.3h-1.3zM109.0 346.7h1.3v1.3h-1.3zM92.6 352.2h1.3v1.3h-1.3zM89.4 349.6h1.3v1.3h-1.3zM105.8 349.3h1.3v1.3h-1.3zM94.3 347.7h1.3v1.3h-1.3zM90.3 353.8h1.3v1.3h-1.3zM116.6 344.4h1.3v1.3h-1.3zM84.6 354.3h1.3v1.3h-1.3zM90.5 349.2h1.3v1.3h-1.3zM98.9 348.7h1.3v1.3h-1.3z"/>
<path fill="#ffffff" d="M115.9 211.4h1.2v1.2h-1.2zM94.5 245.3h1.2v1.2h-1.2zM94.6 227.4h1.2v1.2h-1.2zM105.6 219.1h1.2v1.2h-1.2zM92.7 237.4h1.2v1.2h-1.2zM96.0 234.7h1.2v1.2h-1.2zM96.9 224.2h1.2v1.2h-1.2zM94.7 237.3h1.2v1.2h-1.2zM97.0 239.9h1.2v1.2h-1.2zM93.9 242.0h1.2v1.2h-1.2zM98.0 226.3h1.2v1.2h-1.2zM105.0 222.6h1.2v1.2h-1.2zM95.0 225.9h1.2v1.2h-1.2zM106.8 222.5h1.2v1.2h-1.2zM113.2 217.9h1.2v1.2h-1.2zM118.2 213.5h1.2v1.2h-1.2zM93.2 227.3h1.2v1.2h-1.2zM110.1 215.3h1.2v1.2h-1.2zM95.6 225.9h1.2v1.2h-1.2zM104.2 223.1h1.2v1.2h-1.2zM95.7 229.9h1.2v1.2h-1.2zM94.0 229.1h1.2v1.2h-1.2zM94.2 244.9h1.2v1.2h-1.2zM100.2 222.3h1.2v1.2h-1.2zM98.2 222.5h1.2v1.2h-1.2z"/>
<text x="88" y="233.5" font-size="4.6" text-anchor="middle" fill="#222">T</text>
<text x="113" y="216.5" font-size="4.6" text-anchor="middle" fill="#222">NK</text>
<text x="87.5" y="257.5" font-size="4.6" text-anchor="middle" fill="#222">B</text>
<text x="163" y="248.5" font-size="4.6" text-anchor="middle" fill="#222">VCT_Cycling</text>
<text x="217.5" y="299.0" font-size="4.6" text-anchor="middle" fill="#222">VCT_fusing</text>
<text x="147" y="292.5" font-size="4.6" text-anchor="middle" fill="#222">SCT</text>
<text x="123.5" y="296.5" font-size="4.6" text-anchor="middle" fill="#222">EVT</text>
<text x="117" y="307.0" font-size="4.6" text-anchor="middle" fill="#222">Stromal</text>
<text x="99.5" y="327.0" font-size="4.6" text-anchor="middle" fill="#222">Neutrophil</text>
<text x="63.7" y="337.0" font-size="4.6" text-anchor="middle" fill="#222">Monocyte</text>
<text x="87.5" y="366.0" font-size="4.6" text-anchor="middle" fill="#222">Hofbauer</text>
<text x="169.3" y="334.5" font-size="4.6" text-anchor="middle" fill="#222">VCT</text></g>
<path d="M44.4,201.5 V398.5 H254" fill="none" stroke="#333" stroke-width="0.7"/>
<line x1="42.4" y1="244.7" x2="44.4" y2="244.7" stroke="#333" stroke-width="0.6"/>
<text x="41.0" y="246.6" font-size="5.4" text-anchor="end" fill="#4d4d4d" font-weight="normal" >10</text>
<line x1="42.4" y1="311.5" x2="44.4" y2="311.5" stroke="#333" stroke-width="0.6"/>
<text x="41.0" y="313.4" font-size="5.4" text-anchor="end" fill="#4d4d4d" font-weight="normal" >0</text>
<line x1="42.4" y1="378.3" x2="44.4" y2="378.3" stroke="#333" stroke-width="0.6"/>
<text x="41.0" y="380.2" font-size="5.4" text-anchor="end" fill="#4d4d4d" font-weight="normal" >-10</text>
<line x1="79.4" y1="398.5" x2="79.4" y2="400.5" stroke="#333" stroke-width="0.6"/>
<text x="79.4" y="405.2" font-size="5.4" text-anchor="middle" fill="#4d4d4d" font-weight="normal" >-10</text>
<line x1="117.5" y1="398.5" x2="117.5" y2="400.5" stroke="#333" stroke-width="0.6"/>
<text x="117.5" y="405.2" font-size="5.4" text-anchor="middle" fill="#4d4d4d" font-weight="normal" >-5</text>
<line x1="154.7" y1="398.5" x2="154.7" y2="400.5" stroke="#333" stroke-width="0.6"/>
<text x="154.7" y="405.2" font-size="5.4" text-anchor="middle" fill="#4d4d4d" font-weight="normal" >0</text>
<line x1="192.3" y1="398.5" x2="192.3" y2="400.5" stroke="#333" stroke-width="0.6"/>
<text x="192.3" y="405.2" font-size="5.4" text-anchor="middle" fill="#4d4d4d" font-weight="normal" >5</text>
<line x1="229.9" y1="398.5" x2="229.9" y2="400.5" stroke="#333" stroke-width="0.6"/>
<text x="229.9" y="405.2" font-size="5.4" text-anchor="middle" fill="#4d4d4d" font-weight="normal" >10</text>
<text x="149.0" y="416.0" font-size="9.5" text-anchor="middle" fill="#000" font-weight="normal" >UMAP_1</text>
<text x="30" y="297" font-size="9.5" text-anchor="middle" transform="rotate(-90 30 297)">UMAP_2</text>
<circle cx="262.3" cy="268.7" r="1.6" fill="#86aede"/>
<text x="268.0" y="270.4" font-size="4.8" text-anchor="start" fill="#333" font-weight="normal" >B</text>
<circle cx="262.3" cy="274.7" r="1.6" fill="#7360d2"/>
<text x="268.0" y="276.4" font-size="4.8" text-anchor="start" fill="#333" font-weight="normal" >EVT</text>
<circle cx="262.3" cy="280.7" r="1.6" fill="#6088e6"/>
<text x="268.0" y="282.4" font-size="4.8" text-anchor="start" fill="#333" font-weight="normal" >Hofbauer</text>
<circle cx="262.3" cy="286.7" r="1.6" fill="#e88a30"/>
<text x="268.0" y="288.4" font-size="4.8" text-anchor="start" fill="#333" font-weight="normal" >Monocyte</text>
<circle cx="262.3" cy="292.7" r="1.6" fill="#8a40f4"/>
<text x="268.0" y="294.4" font-size="4.8" text-anchor="start" fill="#333" font-weight="normal" >Neutrophil</text>
<circle cx="262.3" cy="298.7" r="1.6" fill="#f85a2a"/>
<text x="268.0" y="300.4" font-size="4.8" text-anchor="start" fill="#333" font-weight="normal" >NK</text>
<circle cx="262.3" cy="304.7" r="1.6" fill="#4a9cf4"/>
<text x="268.0" y="306.4" font-size="4.8" text-anchor="start" fill="#333" font-weight="normal" >SCT</text>
<circle cx="262.3" cy="310.7" r="1.6" fill="#5ad8dc"/>
<text x="268.0" y="312.4" font-size="4.8" text-anchor="start" fill="#333" font-weight="normal" >Stromal</text>
<circle cx="262.3" cy="316.7" r="1.6" fill="#58d288"/>
<text x="268.0" y="318.4" font-size="4.8" text-anchor="start" fill="#333" font-weight="normal" >T</text>
<circle cx="262.3" cy="322.7" r="1.6" fill="#eec89c"/>
<text x="268.0" y="324.4" font-size="4.8" text-anchor="start" fill="#333" font-weight="normal" >VCT</text>
<circle cx="262.3" cy="328.7" r="1.6" fill="#f840a0"/>
<text x="268.0" y="330.4" font-size="4.8" text-anchor="start" fill="#333" font-weight="normal" >VCT_Cycling</text>
<circle cx="262.3" cy="334.7" r="1.6" fill="#7cffba"/>
<text x="268.0" y="336.4" font-size="4.8" text-anchor="start" fill="#333" font-weight="normal" >VCT_fusing</text>
<text x="312.2" y="205.3" font-size="20" text-anchor="start" fill="#000" font-weight="normal" >C</text>
<text x="322" y="308.5" font-size="13.5" text-anchor="middle" transform="rotate(-90 322 308.5)">UMAP_2</text>
<rect x="339" y="202" width="93.3" height="9.6" fill="#d9d9d9" stroke="#333" stroke-width="0.5"/>
<text x="385.6" y="208.7" font-size="4.75" text-anchor="middle" fill="#333" font-weight="normal" >SC01-F1</text>
<clipPath id="cp00"><rect x="339" y="211.6" width="93.3" height="90.8"/></clipPath>
<g clip-path="url(#cp00)"><g transform="translate(388.3,262.9) scale(0.446,0.461) translate(-154.7,-311.5)"><path d="M115.3,270.4 C116.8,268.0 122.2,264.8 126.3,262.7 C130.4,260.6 136.1,258.1 140.0,258.0 C143.9,257.9 146.8,260.3 150.0,262.0 C153.2,263.7 157.2,265.3 159.1,268.0 C161.0,270.7 156.6,275.6 161.3,278.0 C166.1,280.4 180.3,281.5 187.6,282.4 C194.9,283.3 197.8,283.1 205.1,283.5 C212.4,283.9 225.2,283.5 231.4,284.6 C237.6,285.7 240.1,287.6 242.3,290.0 C244.5,292.4 244.9,295.9 244.5,298.8 C244.1,301.7 243.8,305.4 240.1,307.6 C236.4,309.8 226.6,310.2 222.6,312.0 C218.6,313.8 217.4,315.6 216.0,318.5 C214.6,321.4 215.0,325.1 213.9,329.5 C212.8,333.9 211.0,338.2 209.5,344.8 C208.0,351.4 207.3,362.7 205.1,368.9 C202.9,375.1 201.1,378.5 196.3,382.0 C191.6,385.5 183.2,388.6 176.6,389.7 C170.0,390.8 162.0,389.9 156.9,388.6 C151.8,387.3 148.4,385.3 146.0,382.0 C143.6,378.7 142.7,374.0 142.7,368.9 C142.7,363.8 143.6,357.2 146.0,351.4 C148.4,345.6 154.0,339.4 156.9,333.9 C159.8,328.4 162.8,323.6 163.5,318.5 C164.2,313.4 162.8,307.6 161.3,303.2 C159.8,298.8 157.6,294.5 154.7,292.3 C151.8,290.1 147.4,290.7 143.8,290.0 C140.2,289.3 136.3,289.0 133.0,288.0 C129.7,287.0 126.7,285.8 124.0,284.0 C121.3,282.2 118.5,279.3 117.0,277.0 C115.5,274.7 113.8,272.8 115.3,270.4Z" fill="#eec89c" opacity="1"/>
<path d="M182.6,280.5 C186.9,279.8 197.4,282.4 205.0,283.0 C212.6,283.6 222.4,283.5 228.0,284.0 C233.6,284.5 235.8,284.1 238.6,285.8 C241.4,287.6 244.2,291.3 244.8,294.5 C245.4,297.7 244.0,302.2 242.1,305.0 C240.2,307.8 236.9,309.6 233.4,311.2 C229.9,312.8 223.7,312.8 221.1,314.7 C218.5,316.6 219.1,319.0 217.6,322.6 C216.1,326.2 214.1,330.8 212.3,336.6 C210.6,342.4 208.6,355.6 207.1,357.6 C205.6,359.6 205.3,353.2 203.6,348.8 C201.8,344.4 198.1,337.1 196.6,331.3 C195.1,325.5 197.7,321.1 194.8,313.8 C191.9,306.5 181.0,293.1 179.0,287.5 C177.0,281.9 178.3,281.2 182.6,280.5Z" fill="#7cffba" opacity="0.55"/>
<path d="M200.0,283.0 C204.2,280.3 221.6,283.5 228.0,284.0 C234.4,284.5 235.8,284.1 238.6,285.8 C241.4,287.6 244.2,291.3 244.8,294.5 C245.4,297.7 244.0,302.2 242.1,305.0 C240.2,307.8 236.9,309.6 233.4,311.2 C229.9,312.8 225.0,314.4 221.1,314.7 C217.2,315.0 213.0,315.4 210.0,313.0 C207.0,310.6 204.7,305.0 203.0,300.0 C201.3,295.0 195.8,285.7 200.0,283.0Z" fill="#7cffba" opacity="1"/>
<path d="M130.0,263.0 C130.2,260.5 133.7,254.9 136.0,251.0 C138.3,247.1 139.6,242.9 143.8,239.7 C148.0,236.5 155.8,233.8 161.3,232.0 C166.8,230.2 171.1,229.0 176.6,229.2 C182.1,229.4 188.7,231.0 194.2,233.1 C199.7,235.2 205.7,238.6 209.5,241.9 C213.3,245.2 216.0,249.2 217.1,252.8 C218.2,256.4 217.3,260.5 216.0,263.8 C214.7,267.1 212.2,270.1 209.5,272.5 C206.8,274.9 200.7,278.4 199.6,278.0 C198.5,277.6 202.0,273.1 202.9,270.4 C203.8,267.7 206.2,264.5 205.1,261.6 C204.0,258.7 200.3,255.0 196.3,252.8 C192.3,250.6 186.1,248.5 181.0,248.5 C175.9,248.5 169.3,250.2 165.7,252.8 C162.0,255.4 160.9,261.6 159.1,263.8 C157.3,266.0 157.3,266.3 155.0,266.0 C152.7,265.7 148.3,262.0 145.0,262.0 C141.7,262.0 137.5,265.8 135.0,266.0 C132.5,266.2 129.8,265.5 130.0,263.0Z" fill="#f840a0" opacity="1"/>
<path d="M163.5,318.0 C162.0,320.0 159.8,328.3 156.9,333.9 C154.0,339.5 148.4,345.6 146.0,351.4 C143.6,357.2 142.7,363.8 142.7,368.9 C142.7,374.0 144.6,379.3 146.0,382.0 C147.4,384.7 150.5,387.0 151.0,385.0 C151.5,383.0 148.8,375.5 149.0,370.0 C149.2,364.5 150.2,357.7 152.0,352.0 C153.8,346.3 157.7,341.0 160.0,336.0 C162.3,331.0 165.4,325.0 166.0,322.0 C166.6,319.0 165.0,316.0 163.5,318.0Z" fill="#f840a0" opacity="0.85"/>
<path d="M83.0,224.1 C84.0,222.6 87.1,222.9 88.8,223.1 C90.5,223.3 91.7,225.7 93.2,225.5 C94.7,225.3 95.9,223.2 97.6,221.9 C99.3,220.6 101.2,218.8 103.4,217.5 C105.6,216.2 108.3,215.1 110.7,213.9 C113.1,212.7 116.4,210.4 118.0,210.2 C119.6,209.9 120.2,211.4 120.2,212.4 C120.2,213.4 119.8,214.5 118.0,216.1 C116.2,217.7 112.1,219.8 109.2,221.9 C106.3,224.0 102.7,226.6 100.5,228.5 C98.3,230.4 96.5,231.0 96.1,233.6 C95.7,236.2 98.5,241.7 98.3,243.8 C98.0,245.9 96.2,246.4 94.6,246.0 C93.0,245.6 90.4,242.9 88.8,241.6 C87.2,240.3 86.1,239.6 85.1,238.0 C84.1,236.4 83.0,234.4 82.7,232.1 C82.4,229.8 82.0,225.6 83.0,224.1Z" fill="#58d288" opacity="1"/>
<path d="M99.0,228.5 C99.8,226.8 104.4,223.5 107.0,221.0 C109.6,218.5 112.5,215.4 114.5,213.5 C116.5,211.6 117.8,209.8 119.0,209.5 C120.2,209.2 121.2,210.9 121.5,212.0 C121.8,213.1 121.4,214.7 120.5,216.0 C119.6,217.3 118.1,218.3 116.0,220.0 C113.9,221.7 110.3,224.2 108.0,226.0 C105.7,227.8 103.5,230.6 102.0,231.0 C100.5,231.4 98.2,230.2 99.0,228.5Z" fill="#f85a2a" opacity="1"/>
<path d="M88.5,246.7 C89.5,245.9 91.7,244.6 92.2,245.3 C92.7,246.0 91.6,249.2 91.5,251.0 C91.4,252.8 90.7,254.7 91.5,256.0 C92.3,257.3 94.9,257.9 96.1,259.0 C97.3,260.1 99.3,261.8 98.6,262.3 C97.9,262.8 93.8,262.1 91.7,261.8 C89.6,261.5 87.0,261.6 85.9,260.5 C84.8,259.4 85.0,256.8 85.1,255.0 C85.2,253.2 85.9,251.4 86.5,250.0 C87.1,248.6 87.5,247.5 88.5,246.7Z" fill="#86aede" opacity="1"/>
<path d="M53.8,329.6 C54.2,326.4 55.0,324.2 56.7,322.3 C58.4,320.4 61.1,318.7 64.0,318.0 C66.9,317.3 71.0,318.0 74.2,318.2 C77.4,318.4 81.9,318.3 83.0,319.4 C84.1,320.4 82.3,323.1 81.0,324.5 C79.7,325.9 76.5,326.1 75.0,327.5 C73.5,328.9 72.1,331.0 72.0,333.0 C71.9,335.0 72.8,337.8 74.5,339.5 C76.2,341.2 80.1,342.0 82.0,343.5 C83.9,345.0 85.5,346.1 85.9,348.6 C86.3,351.2 85.6,356.6 84.4,358.8 C83.2,361.0 80.3,362.3 78.6,361.8 C76.9,361.3 76.4,357.6 74.2,355.9 C72.0,354.2 68.1,352.9 65.4,351.5 C62.7,350.1 59.9,348.9 58.1,347.2 C56.3,345.5 55.2,344.2 54.5,341.3 C53.8,338.4 53.4,332.8 53.8,329.6Z" fill="#e88a30" opacity="1"/>
<path d="M78.6,322.3 C79.3,320.9 83.5,319.0 85.9,317.2 C88.3,315.4 91.6,312.1 93.2,311.4 C94.8,310.7 94.2,311.7 95.4,312.8 C96.6,313.9 98.7,315.9 100.5,318.0 C102.3,320.1 105.8,323.4 106.3,325.3 C106.8,327.2 104.9,328.5 103.4,329.6 C102.0,330.7 100.0,332.0 97.6,331.8 C95.2,331.6 91.5,329.3 88.8,328.2 C86.1,327.1 83.2,326.3 81.5,325.3 C79.8,324.3 77.9,323.7 78.6,322.3Z" fill="#8a40f4" opacity="1"/>
<path d="M74.2,355.9 C75.7,353.0 81.5,350.3 84.4,348.6 C87.3,346.9 89.0,346.1 91.7,345.7 C94.4,345.3 97.3,346.6 100.5,346.4 C103.7,346.1 107.9,344.6 110.7,344.2 C113.5,343.8 116.1,343.7 117.3,344.2 C118.5,344.7 118.8,346.3 118.0,347.2 C117.2,348.1 115.1,348.8 112.2,349.3 C109.3,349.8 103.9,349.2 100.5,350.1 C97.1,351.0 92.7,352.6 91.7,354.5 C90.7,356.4 93.9,359.1 94.6,361.8 C95.3,364.5 96.6,367.8 96.1,370.5 C95.6,373.2 93.9,376.3 91.7,377.8 C89.5,379.3 85.3,379.8 83.0,379.3 C80.7,378.8 79.0,377.1 77.8,374.9 C76.6,372.7 76.3,369.3 75.7,366.1 C75.1,362.9 72.8,358.8 74.2,355.9Z" fill="#6088e6" opacity="1"/>
<path d="M119.0,286.0 C120.2,284.7 123.0,283.8 125.0,284.0 C127.0,284.2 129.5,285.7 131.0,287.0 C132.5,288.3 133.7,290.0 134.0,292.0 C134.3,294.0 134.0,296.8 133.0,299.0 C132.0,301.2 129.8,303.8 128.0,305.0 C126.2,306.2 123.6,306.8 122.0,306.0 C120.4,305.2 119.2,302.3 118.5,300.0 C117.8,297.7 117.4,294.3 117.5,292.0 C117.6,289.7 117.8,287.3 119.0,286.0Z" fill="#7360d2" opacity="0.45"/>
<path d="M130.0,288.0 C130.5,285.8 134.3,286.3 136.0,287.0 C137.7,287.7 139.5,290.0 140.0,292.0 C140.5,294.0 140.2,297.7 139.0,299.0 C137.8,300.3 134.5,301.8 133.0,300.0 C131.5,298.2 129.5,290.2 130.0,288.0Z" fill="#4a9cf4" opacity="0.45"/>
<path d="M111.0,304.0 C111.5,302.8 115.0,302.3 117.0,302.5 C119.0,302.7 122.5,303.7 123.0,305.0 C123.5,306.3 121.5,309.7 120.0,310.5 C118.5,311.3 115.5,311.1 114.0,310.0 C112.5,308.9 110.5,305.2 111.0,304.0Z" fill="#5ad8dc" opacity="0.6"/>
<path fill="#6a5ad0" d="M189.3 314.6h1.2v1.2h-1.2zM190.2 285.2h1.2v1.2h-1.2zM182.7 301.3h1.2v1.2h-1.2zM164.6 295.4h1.2v1.2h-1.2zM202.7 318.3h1.2v1.2h-1.2zM204.2 345.4h1.2v1.2h-1.2zM237.3 298.0h1.2v1.2h-1.2zM162.6 376.6h1.2v1.2h-1.2zM191.0 369.4h1.2v1.2h-1.2zM135.3 287.6h1.2v1.2h-1.2zM179.6 366.0h1.2v1.2h-1.2zM200.5 328.4h1.2v1.2h-1.2zM188.7 307.4h1.2v1.2h-1.2zM168.8 290.4h1.2v1.2h-1.2zM138.2 273.8h1.2v1.2h-1.2zM199.3 366.4h1.2v1.2h-1.2zM190.8 309.6h1.2v1.2h-1.2zM178.6 318.9h1.2v1.2h-1.2zM167.1 313.5h1.2v1.2h-1.2zM191.0 329.1h1.2v1.2h-1.2zM172.4 385.9h1.2v1.2h-1.2zM121.6 270.2h1.2v1.2h-1.2zM174.6 315.6h1.2v1.2h-1.2zM180.1 317.0h1.2v1.2h-1.2zM205.7 313.9h1.2v1.2h-1.2zM195.5 348.7h1.2v1.2h-1.2zM198.5 335.7h1.2v1.2h-1.2zM171.6 371.4h1.2v1.2h-1.2zM242.6 295.7h1.2v1.2h-1.2zM192.4 379.4h1.2v1.2h-1.2zM125.4 283.7h1.2v1.2h-1.2zM142.0 270.7h1.2v1.2h-1.2z"/>
<path fill="#f840a0" d="M170.0 295.3h1.3v1.3h-1.3zM140.5 289.2h1.3v1.3h-1.3zM153.2 279.9h1.3v1.3h-1.3zM138.3 285.9h1.3v1.3h-1.3zM145.6 269.2h1.3v1.3h-1.3zM135.0 284.3h1.3v1.3h-1.3zM149.5 266.8h1.3v1.3h-1.3zM162.9 285.4h1.3v1.3h-1.3zM118.9 275.8h1.3v1.3h-1.3zM129.0 277.2h1.3v1.3h-1.3zM156.8 284.4h1.3v1.3h-1.3zM142.9 279.3h1.3v1.3h-1.3zM129.5 276.5h1.3v1.3h-1.3zM141.5 276.8h1.3v1.3h-1.3zM141.2 278.2h1.3v1.3h-1.3zM152.9 288.2h1.3v1.3h-1.3zM159.1 275.0h1.3v1.3h-1.3zM158.6 298.5h1.3v1.3h-1.3zM169.6 288.3h1.3v1.3h-1.3zM133.0 271.5h1.3v1.3h-1.3zM155.7 283.6h1.3v1.3h-1.3z"/>
<path fill="#f840a0" d="M167.7 384.2h1.3v1.3h-1.3zM147.7 367.0h1.3v1.3h-1.3zM173.3 317.3h1.3v1.3h-1.3zM160.0 339.5h1.3v1.3h-1.3zM174.1 378.3h1.3v1.3h-1.3zM169.7 351.7h1.3v1.3h-1.3zM158.3 372.9h1.3v1.3h-1.3zM166.7 385.9h1.3v1.3h-1.3zM164.2 304.5h1.3v1.3h-1.3zM159.8 377.4h1.3v1.3h-1.3zM153.9 354.1h1.3v1.3h-1.3zM161.2 377.8h1.3v1.3h-1.3zM175.0 302.8h1.3v1.3h-1.3zM172.2 346.0h1.3v1.3h-1.3z"/>
<path fill="#ffffff" d="M158.2 248.7h1.4v1.4h-1.4zM179.9 246.1h1.4v1.4h-1.4zM203.1 245.9h1.4v1.4h-1.4zM143.5 250.5h1.4v1.4h-1.4zM142.8 261.0h1.4v1.4h-1.4zM200.4 246.7h1.4v1.4h-1.4zM141.8 261.1h1.4v1.4h-1.4zM140.5 249.1h1.4v1.4h-1.4zM196.5 252.3h1.4v1.4h-1.4zM135.1 265.5h1.4v1.4h-1.4zM140.0 263.2h1.4v1.4h-1.4zM179.8 248.8h1.4v1.4h-1.4zM145.7 246.5h1.4v1.4h-1.4zM206.9 255.6h1.4v1.4h-1.4zM194.1 246.6h1.4v1.4h-1.4zM210.6 256.7h1.4v1.4h-1.4z"/>
<path fill="#ffffff" d="M209.3 306.9h1.3v1.3h-1.3zM211.3 336.7h1.3v1.3h-1.3zM203.1 285.6h1.3v1.3h-1.3zM196.5 294.1h1.3v1.3h-1.3zM209.4 292.3h1.3v1.3h-1.3zM188.3 288.4h1.3v1.3h-1.3zM193.1 304.5h1.3v1.3h-1.3zM224.6 313.5h1.3v1.3h-1.3zM223.2 289.2h1.3v1.3h-1.3zM201.4 333.5h1.3v1.3h-1.3zM204.7 317.6h1.3v1.3h-1.3zM197.1 296.9h1.3v1.3h-1.3zM213.3 332.3h1.3v1.3h-1.3zM215.7 291.9h1.3v1.3h-1.3zM221.3 305.3h1.3v1.3h-1.3zM240.9 290.4h1.3v1.3h-1.3zM209.2 333.9h1.3v1.3h-1.3zM204.1 342.1h1.3v1.3h-1.3zM226.6 290.2h1.3v1.3h-1.3zM207.7 332.7h1.3v1.3h-1.3zM226.7 287.2h1.3v1.3h-1.3z"/>
<path fill="#7cffba" d="M209.1 304.9h1.4v1.4h-1.4zM205.4 335.8h1.4v1.4h-1.4zM194.9 292.5h1.4v1.4h-1.4zM204.2 349.0h1.4v1.4h-1.4zM233.0 310.9h1.4v1.4h-1.4zM209.1 348.3h1.4v1.4h-1.4zM190.8 293.7h1.4v1.4h-1.4zM204.4 296.6h1.4v1.4h-1.4zM201.0 327.1h1.4v1.4h-1.4zM207.4 287.4h1.4v1.4h-1.4zM224.9 303.9h1.4v1.4h-1.4zM209.9 304.2h1.4v1.4h-1.4zM232.8 304.3h1.4v1.4h-1.4zM194.5 309.9h1.4v1.4h-1.4z"/>
<path fill="#4a70e0" d="M181.8 284.9h1.2v1.2h-1.2zM196.1 283.1h1.2v1.2h-1.2zM222.9 284.8h1.2v1.2h-1.2zM218.4 285.9h1.2v1.2h-1.2zM215.2 286.4h1.2v1.2h-1.2zM206.9 284.6h1.2v1.2h-1.2zM206.3 284.6h1.2v1.2h-1.2zM231.9 284.9h1.2v1.2h-1.2zM185.1 281.2h1.2v1.2h-1.2z"/>
<path fill="#ffffff" d="M82.4 345.7h1.3v1.3h-1.3zM80.9 353.6h1.3v1.3h-1.3zM72.7 335.4h1.3v1.3h-1.3zM68.7 320.0h1.3v1.3h-1.3zM81.6 319.6h1.3v1.3h-1.3zM76.2 354.0h1.3v1.3h-1.3zM82.6 346.7h1.3v1.3h-1.3z"/>
<path fill="#8a40f4" d="M54.8 336.7h1.2v1.2h-1.2zM70.7 350.4h1.2v1.2h-1.2zM72.0 333.2h1.2v1.2h-1.2zM72.5 337.9h1.2v1.2h-1.2z"/>
<path fill="#ffffff" d="M86.9 356.5h1.3v1.3h-1.3zM85.1 357.6h1.3v1.3h-1.3zM86.1 349.4h1.3v1.3h-1.3zM98.4 350.1h1.3v1.3h-1.3zM103.5 345.8h1.3v1.3h-1.3z"/>
<path fill="#ffffff" d="M111.7 216.3h1.2v1.2h-1.2zM92.4 234.9h1.2v1.2h-1.2zM107.6 222.5h1.2v1.2h-1.2zM95.0 228.2h1.2v1.2h-1.2zM108.6 216.5h1.2v1.2h-1.2z"/></g></g>
<rect x="339" y="211.6" width="93.3" height="90.8" fill="none" stroke="#333" stroke-width="0.5"/>
<line x1="337" y1="232.1" x2="339" y2="232.1" stroke="#333" stroke-width="0.5"/>
<text x="335.3" y="234.9" font-size="7.8" text-anchor="end" fill="#4d4d4d" font-weight="normal" >10</text>
<line x1="337" y1="262.9" x2="339" y2="262.9" stroke="#333" stroke-width="0.5"/>
<text x="335.3" y="265.7" font-size="7.8" text-anchor="end" fill="#4d4d4d" font-weight="normal" >0</text>
<line x1="337" y1="293.6" x2="339" y2="293.6" stroke="#333" stroke-width="0.5"/>
<text x="335.3" y="296.4" font-size="7.8" text-anchor="end" fill="#4d4d4d" font-weight="normal" >-10</text>
<rect x="435.6" y="202" width="93.1" height="9.6" fill="#d9d9d9" stroke="#333" stroke-width="0.5"/>
<text x="482.2" y="208.7" font-size="4.75" text-anchor="middle" fill="#333" font-weight="normal" >SC03-F1</text>
<clipPath id="cp01"><rect x="435.6" y="211.6" width="93.1" height="90.8"/></clipPath>
<g clip-path="url(#cp01)"><g transform="translate(484.9,262.9) scale(0.446,0.461) translate(-154.7,-311.5)"><path d="M115.3,270.4 C116.8,268.0 122.2,264.8 126.3,262.7 C130.4,260.6 136.1,258.1 140.0,258.0 C143.9,257.9 146.8,260.3 150.0,262.0 C153.2,263.7 157.2,265.3 159.1,268.0 C161.0,270.7 156.6,275.6 161.3,278.0 C166.1,280.4 180.3,281.5 187.6,282.4 C194.9,283.3 197.8,283.1 205.1,283.5 C212.4,283.9 225.2,283.5 231.4,284.6 C237.6,285.7 240.1,287.6 242.3,290.0 C244.5,292.4 244.9,295.9 244.5,298.8 C244.1,301.7 243.8,305.4 240.1,307.6 C236.4,309.8 226.6,310.2 222.6,312.0 C218.6,313.8 217.4,315.6 216.0,318.5 C214.6,321.4 215.0,325.1 213.9,329.5 C212.8,333.9 211.0,338.2 209.5,344.8 C208.0,351.4 207.3,362.7 205.1,368.9 C202.9,375.1 201.1,378.5 196.3,382.0 C191.6,385.5 183.2,388.6 176.6,389.7 C170.0,390.8 162.0,389.9 156.9,388.6 C151.8,387.3 148.4,385.3 146.0,382.0 C143.6,378.7 142.7,374.0 142.7,368.9 C142.7,363.8 143.6,357.2 146.0,351.4 C148.4,345.6 154.0,339.4 156.9,333.9 C159.8,328.4 162.8,323.6 163.5,318.5 C164.2,313.4 162.8,307.6 161.3,303.2 C159.8,298.8 157.6,294.5 154.7,292.3 C151.8,290.1 147.4,290.7 143.8,290.0 C140.2,289.3 136.3,289.0 133.0,288.0 C129.7,287.0 126.7,285.8 124.0,284.0 C121.3,282.2 118.5,279.3 117.0,277.0 C115.5,274.7 113.8,272.8 115.3,270.4Z" fill="#eec89c" opacity="1"/>
<path d="M182.6,280.5 C186.9,279.8 197.4,282.4 205.0,283.0 C212.6,283.6 222.4,283.5 228.0,284.0 C233.6,284.5 235.8,284.1 238.6,285.8 C241.4,287.6 244.2,291.3 244.8,294.5 C245.4,297.7 244.0,302.2 242.1,305.0 C240.2,307.8 236.9,309.6 233.4,311.2 C229.9,312.8 223.7,312.8 221.1,314.7 C218.5,316.6 219.1,319.0 217.6,322.6 C216.1,326.2 214.1,330.8 212.3,336.6 C210.6,342.4 208.6,355.6 207.1,357.6 C205.6,359.6 205.3,353.2 203.6,348.8 C201.8,344.4 198.1,337.1 196.6,331.3 C195.1,325.5 197.7,321.1 194.8,313.8 C191.9,306.5 181.0,293.1 179.0,287.5 C177.0,281.9 178.3,281.2 182.6,280.5Z" fill="#7cffba" opacity="0.55"/>
<path d="M200.0,283.0 C204.2,280.3 221.6,283.5 228.0,284.0 C234.4,284.5 235.8,284.1 238.6,285.8 C241.4,287.6 244.2,291.3 244.8,294.5 C245.4,297.7 244.0,302.2 242.1,305.0 C240.2,307.8 236.9,309.6 233.4,311.2 C229.9,312.8 225.0,314.4 221.1,314.7 C217.2,315.0 213.0,315.4 210.0,313.0 C207.0,310.6 204.7,305.0 203.0,300.0 C201.3,295.0 195.8,285.7 200.0,283.0Z" fill="#7cffba" opacity="1"/>
<path d="M130.0,263.0 C130.2,260.5 133.7,254.9 136.0,251.0 C138.3,247.1 139.6,242.9 143.8,239.7 C148.0,236.5 155.8,233.8 161.3,232.0 C166.8,230.2 171.1,229.0 176.6,229.2 C182.1,229.4 188.7,231.0 194.2,233.1 C199.7,235.2 205.7,238.6 209.5,241.9 C213.3,245.2 216.0,249.2 217.1,252.8 C218.2,256.4 217.3,260.5 216.0,263.8 C214.7,267.1 212.2,270.1 209.5,272.5 C206.8,274.9 200.7,278.4 199.6,278.0 C198.5,277.6 202.0,273.1 202.9,270.4 C203.8,267.7 206.2,264.5 205.1,261.6 C204.0,258.7 200.3,255.0 196.3,252.8 C192.3,250.6 186.1,248.5 181.0,248.5 C175.9,248.5 169.3,250.2 165.7,252.8 C162.0,255.4 160.9,261.6 159.1,263.8 C157.3,266.0 157.3,266.3 155.0,266.0 C152.7,265.7 148.3,262.0 145.0,262.0 C141.7,262.0 137.5,265.8 135.0,266.0 C132.5,266.2 129.8,265.5 130.0,263.0Z" fill="#f840a0" opacity="1"/>
<path d="M163.5,318.0 C162.0,320.0 159.8,328.3 156.9,333.9 C154.0,339.5 148.4,345.6 146.0,351.4 C143.6,357.2 142.7,363.8 142.7,368.9 C142.7,374.0 144.6,379.3 146.0,382.0 C147.4,384.7 150.5,387.0 151.0,385.0 C151.5,383.0 148.8,375.5 149.0,370.0 C149.2,364.5 150.2,357.7 152.0,352.0 C153.8,346.3 157.7,341.0 160.0,336.0 C162.3,331.0 165.4,325.0 166.0,322.0 C166.6,319.0 165.0,316.0 163.5,318.0Z" fill="#f840a0" opacity="0.85"/>
<path d="M83.0,224.1 C84.0,222.6 87.1,222.9 88.8,223.1 C90.5,223.3 91.7,225.7 93.2,225.5 C94.7,225.3 95.9,223.2 97.6,221.9 C99.3,220.6 101.2,218.8 103.4,217.5 C105.6,216.2 108.3,215.1 110.7,213.9 C113.1,212.7 116.4,210.4 118.0,210.2 C119.6,209.9 120.2,211.4 120.2,212.4 C120.2,213.4 119.8,214.5 118.0,216.1 C116.2,217.7 112.1,219.8 109.2,221.9 C106.3,224.0 102.7,226.6 100.5,228.5 C98.3,230.4 96.5,231.0 96.1,233.6 C95.7,236.2 98.5,241.7 98.3,243.8 C98.0,245.9 96.2,246.4 94.6,246.0 C93.0,245.6 90.4,242.9 88.8,241.6 C87.2,240.3 86.1,239.6 85.1,238.0 C84.1,236.4 83.0,234.4 82.7,232.1 C82.4,229.8 82.0,225.6 83.0,224.1Z" fill="#58d288" opacity="1"/>
<path d="M99.0,228.5 C99.8,226.8 104.4,223.5 107.0,221.0 C109.6,218.5 112.5,215.4 114.5,213.5 C116.5,211.6 117.8,209.8 119.0,209.5 C120.2,209.2 121.2,210.9 121.5,212.0 C121.8,213.1 121.4,214.7 120.5,216.0 C119.6,217.3 118.1,218.3 116.0,220.0 C113.9,221.7 110.3,224.2 108.0,226.0 C105.7,227.8 103.5,230.6 102.0,231.0 C100.5,231.4 98.2,230.2 99.0,228.5Z" fill="#f85a2a" opacity="1"/>
<path d="M88.5,246.7 C89.5,245.9 91.7,244.6 92.2,245.3 C92.7,246.0 91.6,249.2 91.5,251.0 C91.4,252.8 90.7,254.7 91.5,256.0 C92.3,257.3 94.9,257.9 96.1,259.0 C97.3,260.1 99.3,261.8 98.6,262.3 C97.9,262.8 93.8,262.1 91.7,261.8 C89.6,261.5 87.0,261.6 85.9,260.5 C84.8,259.4 85.0,256.8 85.1,255.0 C85.2,253.2 85.9,251.4 86.5,250.0 C87.1,248.6 87.5,247.5 88.5,246.7Z" fill="#86aede" opacity="1"/>
<path d="M53.8,329.6 C54.2,326.4 55.0,324.2 56.7,322.3 C58.4,320.4 61.1,318.7 64.0,318.0 C66.9,317.3 71.0,318.0 74.2,318.2 C77.4,318.4 81.9,318.3 83.0,319.4 C84.1,320.4 82.3,323.1 81.0,324.5 C79.7,325.9 76.5,326.1 75.0,327.5 C73.5,328.9 72.1,331.0 72.0,333.0 C71.9,335.0 72.8,337.8 74.5,339.5 C76.2,341.2 80.1,342.0 82.0,343.5 C83.9,345.0 85.5,346.1 85.9,348.6 C86.3,351.2 85.6,356.6 84.4,358.8 C83.2,361.0 80.3,362.3 78.6,361.8 C76.9,361.3 76.4,357.6 74.2,355.9 C72.0,354.2 68.1,352.9 65.4,351.5 C62.7,350.1 59.9,348.9 58.1,347.2 C56.3,345.5 55.2,344.2 54.5,341.3 C53.8,338.4 53.4,332.8 53.8,329.6Z" fill="#e88a30" opacity="0.75"/>
<path d="M74.2,355.9 C75.7,353.0 81.5,350.3 84.4,348.6 C87.3,346.9 89.0,346.1 91.7,345.7 C94.4,345.3 97.3,346.6 100.5,346.4 C103.7,346.1 107.9,344.6 110.7,344.2 C113.5,343.8 116.1,343.7 117.3,344.2 C118.5,344.7 118.8,346.3 118.0,347.2 C117.2,348.1 115.1,348.8 112.2,349.3 C109.3,349.8 103.9,349.2 100.5,350.1 C97.1,351.0 92.7,352.6 91.7,354.5 C90.7,356.4 93.9,359.1 94.6,361.8 C95.3,364.5 96.6,367.8 96.1,370.5 C95.6,373.2 93.9,376.3 91.7,377.8 C89.5,379.3 85.3,379.8 83.0,379.3 C80.7,378.8 79.0,377.1 77.8,374.9 C76.6,372.7 76.3,369.3 75.7,366.1 C75.1,362.9 72.8,358.8 74.2,355.9Z" fill="#6088e6" opacity="1"/>
<path d="M119.0,286.0 C120.2,284.7 123.0,283.8 125.0,284.0 C127.0,284.2 129.5,285.7 131.0,287.0 C132.5,288.3 133.7,290.0 134.0,292.0 C134.3,294.0 134.0,296.8 133.0,299.0 C132.0,301.2 129.8,303.8 128.0,305.0 C126.2,306.2 123.6,306.8 122.0,306.0 C120.4,305.2 119.2,302.3 118.5,300.0 C117.8,297.7 117.4,294.3 117.5,292.0 C117.6,289.7 117.8,287.3 119.0,286.0Z" fill="#7360d2" opacity="0.45"/>
<path d="M130.0,288.0 C130.5,285.8 134.3,286.3 136.0,287.0 C137.7,287.7 139.5,290.0 140.0,292.0 C140.5,294.0 140.2,297.7 139.0,299.0 C137.8,300.3 134.5,301.8 133.0,300.0 C131.5,298.2 129.5,290.2 130.0,288.0Z" fill="#4a9cf4" opacity="0.45"/>
<path d="M111.0,304.0 C111.5,302.8 115.0,302.3 117.0,302.5 C119.0,302.7 122.5,303.7 123.0,305.0 C123.5,306.3 121.5,309.7 120.0,310.5 C118.5,311.3 115.5,311.1 114.0,310.0 C112.5,308.9 110.5,305.2 111.0,304.0Z" fill="#5ad8dc" opacity="0.6"/>
<path fill="#6a5ad0" d="M173.8 331.9h1.2v1.2h-1.2zM181.0 335.5h1.2v1.2h-1.2zM196.9 362.7h1.2v1.2h-1.2zM200.0 339.3h1.2v1.2h-1.2zM135.5 260.0h1.2v1.2h-1.2zM172.3 369.2h1.2v1.2h-1.2zM182.5 342.5h1.2v1.2h-1.2zM180.0 345.4h1.2v1.2h-1.2zM174.5 294.7h1.2v1.2h-1.2zM156.0 288.3h1.2v1.2h-1.2zM152.6 267.3h1.2v1.2h-1.2zM214.6 310.9h1.2v1.2h-1.2zM225.1 309.0h1.2v1.2h-1.2zM216.2 293.6h1.2v1.2h-1.2zM128.1 265.9h1.2v1.2h-1.2zM187.7 317.1h1.2v1.2h-1.2zM154.5 374.8h1.2v1.2h-1.2zM215.4 301.4h1.2v1.2h-1.2zM153.5 267.7h1.2v1.2h-1.2zM189.7 372.4h1.2v1.2h-1.2zM138.8 278.3h1.2v1.2h-1.2zM147.4 283.1h1.2v1.2h-1.2zM148.4 366.7h1.2v1.2h-1.2zM192.5 296.7h1.2v1.2h-1.2zM187.7 370.5h1.2v1.2h-1.2zM194.9 295.0h1.2v1.2h-1.2zM162.1 375.6h1.2v1.2h-1.2zM204.9 335.1h1.2v1.2h-1.2zM133.2 262.6h1.2v1.2h-1.2zM177.7 354.4h1.2v1.2h-1.2zM160.7 348.4h1.2v1.2h-1.2zM169.2 362.4h1.2v1.2h-1.2z"/>
<path fill="#f840a0" d="M162.5 282.1h1.3v1.3h-1.3zM149.4 274.1h1.3v1.3h-1.3zM147.0 283.6h1.3v1.3h-1.3zM169.6 295.0h1.3v1.3h-1.3zM155.1 274.3h1.3v1.3h-1.3zM155.4 282.4h1.3v1.3h-1.3zM141.5 267.7h1.3v1.3h-1.3zM153.4 278.9h1.3v1.3h-1.3zM131.6 286.5h1.3v1.3h-1.3zM126.1 265.1h1.3v1.3h-1.3zM164.8 285.7h1.3v1.3h-1.3zM133.0 286.0h1.3v1.3h-1.3zM125.9 276.1h1.3v1.3h-1.3zM159.3 296.4h1.3v1.3h-1.3zM147.1 271.3h1.3v1.3h-1.3zM122.5 278.9h1.3v1.3h-1.3zM161.0 293.6h1.3v1.3h-1.3zM130.2 265.1h1.3v1.3h-1.3zM139.8 269.6h1.3v1.3h-1.3zM126.8 275.4h1.3v1.3h-1.3zM149.4 278.7h1.3v1.3h-1.3z"/>
<path fill="#f840a0" d="M151.0 375.5h1.3v1.3h-1.3zM174.4 340.7h1.3v1.3h-1.3zM170.5 303.7h1.3v1.3h-1.3zM164.8 351.4h1.3v1.3h-1.3zM150.8 371.2h1.3v1.3h-1.3zM169.0 321.4h1.3v1.3h-1.3zM162.0 340.2h1.3v1.3h-1.3zM162.0 359.0h1.3v1.3h-1.3zM168.3 386.3h1.3v1.3h-1.3zM164.0 317.9h1.3v1.3h-1.3zM165.0 316.1h1.3v1.3h-1.3zM164.4 346.8h1.3v1.3h-1.3zM161.5 368.1h1.3v1.3h-1.3zM153.8 371.3h1.3v1.3h-1.3z"/>
<path fill="#ffffff" d="M213.6 265.6h1.4v1.4h-1.4zM137.3 251.6h1.4v1.4h-1.4zM160.8 257.6h1.4v1.4h-1.4zM208.5 269.4h1.4v1.4h-1.4zM214.7 252.1h1.4v1.4h-1.4zM206.3 246.1h1.4v1.4h-1.4zM204.8 263.8h1.4v1.4h-1.4zM214.8 253.6h1.4v1.4h-1.4zM146.0 255.4h1.4v1.4h-1.4zM205.1 257.1h1.4v1.4h-1.4zM154.6 247.8h1.4v1.4h-1.4zM205.3 274.8h1.4v1.4h-1.4zM176.2 249.5h1.4v1.4h-1.4zM150.6 252.6h1.4v1.4h-1.4zM137.1 250.6h1.4v1.4h-1.4zM202.5 274.8h1.4v1.4h-1.4z"/>
<path fill="#ffffff" d="M210.5 305.4h1.3v1.3h-1.3zM240.1 290.4h1.3v1.3h-1.3zM191.8 298.2h1.3v1.3h-1.3zM224.3 305.8h1.3v1.3h-1.3zM202.5 329.6h1.3v1.3h-1.3zM195.5 295.8h1.3v1.3h-1.3zM214.0 314.9h1.3v1.3h-1.3zM203.8 313.1h1.3v1.3h-1.3zM213.9 292.8h1.3v1.3h-1.3zM235.5 298.6h1.3v1.3h-1.3zM238.6 305.3h1.3v1.3h-1.3zM237.6 290.7h1.3v1.3h-1.3zM196.1 287.8h1.3v1.3h-1.3zM231.1 290.1h1.3v1.3h-1.3zM205.6 334.8h1.3v1.3h-1.3zM212.2 334.9h1.3v1.3h-1.3zM191.5 285.6h1.3v1.3h-1.3zM186.0 283.0h1.3v1.3h-1.3zM215.4 321.2h1.3v1.3h-1.3zM216.5 291.7h1.3v1.3h-1.3zM191.2 296.3h1.3v1.3h-1.3z"/>
<path fill="#7cffba" d="M209.5 341.2h1.4v1.4h-1.4zM200.6 317.4h1.4v1.4h-1.4zM213.0 314.4h1.4v1.4h-1.4zM227.8 312.4h1.4v1.4h-1.4zM191.9 293.2h1.4v1.4h-1.4zM220.5 312.4h1.4v1.4h-1.4zM218.6 320.3h1.4v1.4h-1.4zM226.7 285.6h1.4v1.4h-1.4zM201.6 317.5h1.4v1.4h-1.4zM223.0 307.0h1.4v1.4h-1.4zM214.2 311.2h1.4v1.4h-1.4zM195.9 312.1h1.4v1.4h-1.4zM203.8 287.9h1.4v1.4h-1.4zM215.3 320.6h1.4v1.4h-1.4z"/>
<path fill="#4a70e0" d="M203.1 285.7h1.2v1.2h-1.2zM209.1 285.2h1.2v1.2h-1.2zM227.5 284.8h1.2v1.2h-1.2zM202.7 285.4h1.2v1.2h-1.2zM192.9 286.9h1.2v1.2h-1.2zM183.9 282.4h1.2v1.2h-1.2zM207.0 285.2h1.2v1.2h-1.2zM184.2 281.7h1.2v1.2h-1.2zM224.2 286.0h1.2v1.2h-1.2z"/>
<path fill="#ffffff" d="M78.6 320.4h1.3v1.3h-1.3zM76.9 348.2h1.3v1.3h-1.3zM76.4 342.6h1.3v1.3h-1.3zM83.3 359.3h1.3v1.3h-1.3zM83.8 357.3h1.3v1.3h-1.3zM66.1 334.4h1.3v1.3h-1.3zM71.0 342.5h1.3v1.3h-1.3z"/>
<path fill="#8a40f4" d="M79.5 319.9h1.2v1.2h-1.2zM71.0 352.5h1.2v1.2h-1.2zM77.3 357.5h1.2v1.2h-1.2zM74.4 328.0h1.2v1.2h-1.2z"/>
<path fill="#ffffff" d="M91.4 356.2h1.3v1.3h-1.3zM92.5 349.3h1.3v1.3h-1.3zM90.5 350.0h1.3v1.3h-1.3zM76.6 355.1h1.3v1.3h-1.3zM82.1 351.8h1.3v1.3h-1.3z"/>
<path fill="#ffffff" d="M105.2 218.3h1.2v1.2h-1.2zM94.2 230.3h1.2v1.2h-1.2zM92.2 242.8h1.2v1.2h-1.2zM107.6 218.8h1.2v1.2h-1.2zM96.5 239.5h1.2v1.2h-1.2z"/></g></g>
<rect x="435.6" y="211.6" width="93.1" height="90.8" fill="none" stroke="#333" stroke-width="0.5"/>
<rect x="531.6" y="202" width="92.7" height="9.6" fill="#d9d9d9" stroke="#333" stroke-width="0.5"/>
<text x="578.0" y="208.7" font-size="4.75" text-anchor="middle" fill="#333" font-weight="normal" >SC06-F1</text>
<clipPath id="cp02"><rect x="531.6" y="211.6" width="92.7" height="90.8"/></clipPath>
<g clip-path="url(#cp02)"><g transform="translate(580.9,262.9) scale(0.446,0.461) translate(-154.7,-311.5)"><path d="M115.3,270.4 C116.8,268.0 122.2,264.8 126.3,262.7 C130.4,260.6 136.1,258.1 140.0,258.0 C143.9,257.9 146.8,260.3 150.0,262.0 C153.2,263.7 157.2,265.3 159.1,268.0 C161.0,270.7 156.6,275.6 161.3,278.0 C166.1,280.4 180.3,281.5 187.6,282.4 C194.9,283.3 197.8,283.1 205.1,283.5 C212.4,283.9 225.2,283.5 231.4,284.6 C237.6,285.7 240.1,287.6 242.3,290.0 C244.5,292.4 244.9,295.9 244.5,298.8 C244.1,301.7 243.8,305.4 240.1,307.6 C236.4,309.8 226.6,310.2 222.6,312.0 C218.6,313.8 217.4,315.6 216.0,318.5 C214.6,321.4 215.0,325.1 213.9,329.5 C212.8,333.9 211.0,338.2 209.5,344.8 C208.0,351.4 207.3,362.7 205.1,368.9 C202.9,375.1 201.1,378.5 196.3,382.0 C191.6,385.5 183.2,388.6 176.6,389.7 C170.0,390.8 162.0,389.9 156.9,388.6 C151.8,387.3 148.4,385.3 146.0,382.0 C143.6,378.7 142.7,374.0 142.7,368.9 C142.7,363.8 143.6,357.2 146.0,351.4 C148.4,345.6 154.0,339.4 156.9,333.9 C159.8,328.4 162.8,323.6 163.5,318.5 C164.2,313.4 162.8,307.6 161.3,303.2 C159.8,298.8 157.6,294.5 154.7,292.3 C151.8,290.1 147.4,290.7 143.8,290.0 C140.2,289.3 136.3,289.0 133.0,288.0 C129.7,287.0 126.7,285.8 124.0,284.0 C121.3,282.2 118.5,279.3 117.0,277.0 C115.5,274.7 113.8,272.8 115.3,270.4Z" fill="#eec89c" opacity="1"/>
<path d="M182.6,280.5 C186.9,279.8 197.4,282.4 205.0,283.0 C212.6,283.6 222.4,283.5 228.0,284.0 C233.6,284.5 235.8,284.1 238.6,285.8 C241.4,287.6 244.2,291.3 244.8,294.5 C245.4,297.7 244.0,302.2 242.1,305.0 C240.2,307.8 236.9,309.6 233.4,311.2 C229.9,312.8 223.7,312.8 221.1,314.7 C218.5,316.6 219.1,319.0 217.6,322.6 C216.1,326.2 214.1,330.8 212.3,336.6 C210.6,342.4 208.6,355.6 207.1,357.6 C205.6,359.6 205.3,353.2 203.6,348.8 C201.8,344.4 198.1,337.1 196.6,331.3 C195.1,325.5 197.7,321.1 194.8,313.8 C191.9,306.5 181.0,293.1 179.0,287.5 C177.0,281.9 178.3,281.2 182.6,280.5Z" fill="#7cffba" opacity="0.55"/>
<path d="M200.0,283.0 C204.2,280.3 221.6,283.5 228.0,284.0 C234.4,284.5 235.8,284.1 238.6,285.8 C241.4,287.6 244.2,291.3 244.8,294.5 C245.4,297.7 244.0,302.2 242.1,305.0 C240.2,307.8 236.9,309.6 233.4,311.2 C229.9,312.8 225.0,314.4 221.1,314.7 C217.2,315.0 213.0,315.4 210.0,313.0 C207.0,310.6 204.7,305.0 203.0,300.0 C201.3,295.0 195.8,285.7 200.0,283.0Z" fill="#7cffba" opacity="1"/>
<path d="M130.0,263.0 C130.2,260.5 133.7,254.9 136.0,251.0 C138.3,247.1 139.6,242.9 143.8,239.7 C148.0,236.5 155.8,233.8 161.3,232.0 C166.8,230.2 171.1,229.0 176.6,229.2 C182.1,229.4 188.7,231.0 194.2,233.1 C199.7,235.2 205.7,238.6 209.5,241.9 C213.3,245.2 216.0,249.2 217.1,252.8 C218.2,256.4 217.3,260.5 216.0,263.8 C214.7,267.1 212.2,270.1 209.5,272.5 C206.8,274.9 200.7,278.4 199.6,278.0 C198.5,277.6 202.0,273.1 202.9,270.4 C203.8,267.7 206.2,264.5 205.1,261.6 C204.0,258.7 200.3,255.0 196.3,252.8 C192.3,250.6 186.1,248.5 181.0,248.5 C175.9,248.5 169.3,250.2 165.7,252.8 C162.0,255.4 160.9,261.6 159.1,263.8 C157.3,266.0 157.3,266.3 155.0,266.0 C152.7,265.7 148.3,262.0 145.0,262.0 C141.7,262.0 137.5,265.8 135.0,266.0 C132.5,266.2 129.8,265.5 130.0,263.0Z" fill="#f840a0" opacity="1"/>
<path d="M163.5,318.0 C162.0,320.0 159.8,328.3 156.9,333.9 C154.0,339.5 148.4,345.6 146.0,351.4 C143.6,357.2 142.7,363.8 142.7,368.9 C142.7,374.0 144.6,379.3 146.0,382.0 C147.4,384.7 150.5,387.0 151.0,385.0 C151.5,383.0 148.8,375.5 149.0,370.0 C149.2,364.5 150.2,357.7 152.0,352.0 C153.8,346.3 157.7,341.0 160.0,336.0 C162.3,331.0 165.4,325.0 166.0,322.0 C166.6,319.0 165.0,316.0 163.5,318.0Z" fill="#f840a0" opacity="0.85"/>
<path d="M83.0,224.1 C84.0,222.6 87.1,222.9 88.8,223.1 C90.5,223.3 91.7,225.7 93.2,225.5 C94.7,225.3 95.9,223.2 97.6,221.9 C99.3,220.6 101.2,218.8 103.4,217.5 C105.6,216.2 108.3,215.1 110.7,213.9 C113.1,212.7 116.4,210.4 118.0,210.2 C119.6,209.9 120.2,211.4 120.2,212.4 C120.2,213.4 119.8,214.5 118.0,216.1 C116.2,217.7 112.1,219.8 109.2,221.9 C106.3,224.0 102.7,226.6 100.5,228.5 C98.3,230.4 96.5,231.0 96.1,233.6 C95.7,236.2 98.5,241.7 98.3,243.8 C98.0,245.9 96.2,246.4 94.6,246.0 C93.0,245.6 90.4,242.9 88.8,241.6 C87.2,240.3 86.1,239.6 85.1,238.0 C84.1,236.4 83.0,234.4 82.7,232.1 C82.4,229.8 82.0,225.6 83.0,224.1Z" fill="#58d288" opacity="1"/>
<path d="M99.0,228.5 C99.8,226.8 104.4,223.5 107.0,221.0 C109.6,218.5 112.5,215.4 114.5,213.5 C116.5,211.6 117.8,209.8 119.0,209.5 C120.2,209.2 121.2,210.9 121.5,212.0 C121.8,213.1 121.4,214.7 120.5,216.0 C119.6,217.3 118.1,218.3 116.0,220.0 C113.9,221.7 110.3,224.2 108.0,226.0 C105.7,227.8 103.5,230.6 102.0,231.0 C100.5,231.4 98.2,230.2 99.0,228.5Z" fill="#f85a2a" opacity="1"/>
<path d="M88.5,246.7 C89.5,245.9 91.7,244.6 92.2,245.3 C92.7,246.0 91.6,249.2 91.5,251.0 C91.4,252.8 90.7,254.7 91.5,256.0 C92.3,257.3 94.9,257.9 96.1,259.0 C97.3,260.1 99.3,261.8 98.6,262.3 C97.9,262.8 93.8,262.1 91.7,261.8 C89.6,261.5 87.0,261.6 85.9,260.5 C84.8,259.4 85.0,256.8 85.1,255.0 C85.2,253.2 85.9,251.4 86.5,250.0 C87.1,248.6 87.5,247.5 88.5,246.7Z" fill="#86aede" opacity="1"/>
<path d="M53.8,329.6 C54.2,326.4 55.0,324.2 56.7,322.3 C58.4,320.4 61.1,318.7 64.0,318.0 C66.9,317.3 71.0,318.0 74.2,318.2 C77.4,318.4 81.9,318.3 83.0,319.4 C84.1,320.4 82.3,323.1 81.0,324.5 C79.7,325.9 76.5,326.1 75.0,327.5 C73.5,328.9 72.1,331.0 72.0,333.0 C71.9,335.0 72.8,337.8 74.5,339.5 C76.2,341.2 80.1,342.0 82.0,343.5 C83.9,345.0 85.5,346.1 85.9,348.6 C86.3,351.2 85.6,356.6 84.4,358.8 C83.2,361.0 80.3,362.3 78.6,361.8 C76.9,361.3 76.4,357.6 74.2,355.9 C72.0,354.2 68.1,352.9 65.4,351.5 C62.7,350.1 59.9,348.9 58.1,347.2 C56.3,345.5 55.2,344.2 54.5,341.3 C53.8,338.4 53.4,332.8 53.8,329.6Z" fill="#e88a30" opacity="1"/>
<path d="M78.6,322.3 C79.3,320.9 83.5,319.0 85.9,317.2 C88.3,315.4 91.6,312.1 93.2,311.4 C94.8,310.7 94.2,311.7 95.4,312.8 C96.6,313.9 98.7,315.9 100.5,318.0 C102.3,320.1 105.8,323.4 106.3,325.3 C106.8,327.2 104.9,328.5 103.4,329.6 C102.0,330.7 100.0,332.0 97.6,331.8 C95.2,331.6 91.5,329.3 88.8,328.2 C86.1,327.1 83.2,326.3 81.5,325.3 C79.8,324.3 77.9,323.7 78.6,322.3Z" fill="#8a40f4" opacity="1"/>
<path d="M74.2,355.9 C75.7,353.0 81.5,350.3 84.4,348.6 C87.3,346.9 89.0,346.1 91.7,345.7 C94.4,345.3 97.3,346.6 100.5,346.4 C103.7,346.1 107.9,344.6 110.7,344.2 C113.5,343.8 116.1,343.7 117.3,344.2 C118.5,344.7 118.8,346.3 118.0,347.2 C117.2,348.1 115.1,348.8 112.2,349.3 C109.3,349.8 103.9,349.2 100.5,350.1 C97.1,351.0 92.7,352.6 91.7,354.5 C90.7,356.4 93.9,359.1 94.6,361.8 C95.3,364.5 96.6,367.8 96.1,370.5 C95.6,373.2 93.9,376.3 91.7,377.8 C89.5,379.3 85.3,379.8 83.0,379.3 C80.7,378.8 79.0,377.1 77.8,374.9 C76.6,372.7 76.3,369.3 75.7,366.1 C75.1,362.9 72.8,358.8 74.2,355.9Z" fill="#6088e6" opacity="1"/>
<path d="M119.0,286.0 C120.2,284.7 123.0,283.8 125.0,284.0 C127.0,284.2 129.5,285.7 131.0,287.0 C132.5,288.3 133.7,290.0 134.0,292.0 C134.3,294.0 134.0,296.8 133.0,299.0 C132.0,301.2 129.8,303.8 128.0,305.0 C126.2,306.2 123.6,306.8 122.0,306.0 C120.4,305.2 119.2,302.3 118.5,300.0 C117.8,297.7 117.4,294.3 117.5,292.0 C117.6,289.7 117.8,287.3 119.0,286.0Z" fill="#7360d2" opacity="1"/>
<path d="M130.0,288.0 C130.5,285.8 134.3,286.3 136.0,287.0 C137.7,287.7 139.5,290.0 140.0,292.0 C140.5,294.0 140.2,297.7 139.0,299.0 C137.8,300.3 134.5,301.8 133.0,300.0 C131.5,298.2 129.5,290.2 130.0,288.0Z" fill="#4a9cf4" opacity="0.6"/>
<path d="M111.0,304.0 C111.5,302.8 115.0,302.3 117.0,302.5 C119.0,302.7 122.5,303.7 123.0,305.0 C123.5,306.3 121.5,309.7 120.0,310.5 C118.5,311.3 115.5,311.1 114.0,310.0 C112.5,308.9 110.5,305.2 111.0,304.0Z" fill="#5ad8dc" opacity="1"/>
<path fill="#6a5ad0" d="M176.7 344.8h1.2v1.2h-1.2zM150.6 365.0h1.2v1.2h-1.2zM204.8 337.4h1.2v1.2h-1.2zM187.6 345.3h1.2v1.2h-1.2zM167.1 313.3h1.2v1.2h-1.2zM192.5 320.9h1.2v1.2h-1.2zM204.7 346.9h1.2v1.2h-1.2zM162.2 325.5h1.2v1.2h-1.2zM170.9 326.5h1.2v1.2h-1.2zM165.5 359.9h1.2v1.2h-1.2zM159.7 342.1h1.2v1.2h-1.2zM176.9 384.6h1.2v1.2h-1.2zM177.5 384.2h1.2v1.2h-1.2zM162.3 283.0h1.2v1.2h-1.2zM215.2 303.1h1.2v1.2h-1.2zM156.9 361.9h1.2v1.2h-1.2zM177.1 340.8h1.2v1.2h-1.2zM149.1 383.0h1.2v1.2h-1.2zM152.9 373.3h1.2v1.2h-1.2zM151.2 382.6h1.2v1.2h-1.2zM182.0 349.9h1.2v1.2h-1.2zM206.6 286.3h1.2v1.2h-1.2zM152.1 291.7h1.2v1.2h-1.2zM203.8 349.6h1.2v1.2h-1.2zM169.6 289.8h1.2v1.2h-1.2zM171.6 387.3h1.2v1.2h-1.2zM187.8 340.5h1.2v1.2h-1.2zM213.9 313.1h1.2v1.2h-1.2zM191.5 376.9h1.2v1.2h-1.2zM210.7 332.4h1.2v1.2h-1.2zM184.5 362.2h1.2v1.2h-1.2zM160.9 299.2h1.2v1.2h-1.2z"/>
<path fill="#f840a0" d="M166.4 286.9h1.3v1.3h-1.3zM144.8 284.1h1.3v1.3h-1.3zM121.9 280.4h1.3v1.3h-1.3zM153.5 274.6h1.3v1.3h-1.3zM128.5 275.1h1.3v1.3h-1.3zM132.8 286.8h1.3v1.3h-1.3zM132.2 287.2h1.3v1.3h-1.3zM156.8 285.7h1.3v1.3h-1.3zM139.4 265.5h1.3v1.3h-1.3zM151.7 272.3h1.3v1.3h-1.3zM128.1 271.8h1.3v1.3h-1.3zM134.8 269.7h1.3v1.3h-1.3zM126.1 276.2h1.3v1.3h-1.3zM142.6 287.3h1.3v1.3h-1.3zM123.9 277.5h1.3v1.3h-1.3zM128.7 277.3h1.3v1.3h-1.3zM162.0 292.9h1.3v1.3h-1.3zM127.5 280.6h1.3v1.3h-1.3zM156.9 274.6h1.3v1.3h-1.3zM152.0 285.9h1.3v1.3h-1.3zM168.5 281.3h1.3v1.3h-1.3z"/>
<path fill="#f840a0" d="M163.8 331.5h1.3v1.3h-1.3zM165.6 329.0h1.3v1.3h-1.3zM147.9 349.0h1.3v1.3h-1.3zM168.1 325.7h1.3v1.3h-1.3zM172.8 353.9h1.3v1.3h-1.3zM153.6 378.6h1.3v1.3h-1.3zM171.4 328.9h1.3v1.3h-1.3zM169.5 354.8h1.3v1.3h-1.3zM167.5 337.1h1.3v1.3h-1.3zM161.6 323.7h1.3v1.3h-1.3zM168.3 315.3h1.3v1.3h-1.3zM174.0 347.0h1.3v1.3h-1.3zM170.6 373.9h1.3v1.3h-1.3zM152.6 366.1h1.3v1.3h-1.3z"/>
<path fill="#ffffff" d="M207.2 271.3h1.4v1.4h-1.4zM206.9 259.6h1.4v1.4h-1.4zM134.7 263.6h1.4v1.4h-1.4zM201.1 254.3h1.4v1.4h-1.4zM185.2 248.2h1.4v1.4h-1.4zM164.4 254.9h1.4v1.4h-1.4zM212.9 253.6h1.4v1.4h-1.4zM206.3 263.9h1.4v1.4h-1.4zM215.9 263.5h1.4v1.4h-1.4zM165.5 249.1h1.4v1.4h-1.4zM135.8 263.6h1.4v1.4h-1.4zM196.9 250.0h1.4v1.4h-1.4zM157.3 247.8h1.4v1.4h-1.4zM137.0 256.1h1.4v1.4h-1.4zM149.0 249.8h1.4v1.4h-1.4zM179.8 247.7h1.4v1.4h-1.4z"/>
<path fill="#ffffff" d="M199.4 308.4h1.3v1.3h-1.3zM212.2 316.8h1.3v1.3h-1.3zM192.5 305.8h1.3v1.3h-1.3zM203.2 308.0h1.3v1.3h-1.3zM240.9 303.7h1.3v1.3h-1.3zM200.9 332.6h1.3v1.3h-1.3zM205.2 321.3h1.3v1.3h-1.3zM221.7 285.9h1.3v1.3h-1.3zM223.3 288.1h1.3v1.3h-1.3zM194.4 295.7h1.3v1.3h-1.3zM217.9 318.3h1.3v1.3h-1.3zM209.7 308.8h1.3v1.3h-1.3zM226.1 308.4h1.3v1.3h-1.3zM238.6 292.1h1.3v1.3h-1.3zM199.7 300.7h1.3v1.3h-1.3zM206.3 284.1h1.3v1.3h-1.3zM182.3 289.3h1.3v1.3h-1.3zM199.3 292.7h1.3v1.3h-1.3zM204.1 319.2h1.3v1.3h-1.3zM188.6 298.2h1.3v1.3h-1.3zM203.2 295.1h1.3v1.3h-1.3z"/>
<path fill="#7cffba" d="M196.2 322.7h1.4v1.4h-1.4zM238.8 288.7h1.4v1.4h-1.4zM219.7 294.8h1.4v1.4h-1.4zM202.7 312.0h1.4v1.4h-1.4zM213.5 324.9h1.4v1.4h-1.4zM215.3 323.5h1.4v1.4h-1.4zM234.9 309.8h1.4v1.4h-1.4zM221.9 309.1h1.4v1.4h-1.4zM197.9 286.6h1.4v1.4h-1.4zM187.1 283.4h1.4v1.4h-1.4zM218.8 290.7h1.4v1.4h-1.4zM222.6 302.6h1.4v1.4h-1.4zM228.6 302.8h1.4v1.4h-1.4zM190.2 281.7h1.4v1.4h-1.4z"/>
<path fill="#4a70e0" d="M206.4 286.5h1.2v1.2h-1.2zM238.7 286.0h1.2v1.2h-1.2zM236.6 286.3h1.2v1.2h-1.2zM192.5 282.4h1.2v1.2h-1.2zM192.4 284.4h1.2v1.2h-1.2zM183.5 281.9h1.2v1.2h-1.2zM190.2 284.7h1.2v1.2h-1.2zM189.8 285.4h1.2v1.2h-1.2zM187.3 284.0h1.2v1.2h-1.2z"/>
<path fill="#ffffff" d="M77.2 323.3h1.3v1.3h-1.3zM77.5 356.5h1.3v1.3h-1.3zM76.0 356.8h1.3v1.3h-1.3zM75.4 355.8h1.3v1.3h-1.3zM76.0 346.5h1.3v1.3h-1.3zM75.8 321.2h1.3v1.3h-1.3zM67.7 347.9h1.3v1.3h-1.3z"/>
<path fill="#8a40f4" d="M77.6 354.2h1.2v1.2h-1.2zM63.3 330.4h1.2v1.2h-1.2zM77.0 319.1h1.2v1.2h-1.2zM66.0 331.1h1.2v1.2h-1.2z"/>
<path fill="#ffffff" d="M87.6 356.4h1.3v1.3h-1.3zM105.8 349.2h1.3v1.3h-1.3zM95.0 348.9h1.3v1.3h-1.3zM92.8 350.7h1.3v1.3h-1.3zM92.3 346.6h1.3v1.3h-1.3z"/>
<path fill="#ffffff" d="M115.5 211.5h1.2v1.2h-1.2zM103.4 225.0h1.2v1.2h-1.2zM94.9 236.6h1.2v1.2h-1.2zM98.0 226.2h1.2v1.2h-1.2zM112.8 219.5h1.2v1.2h-1.2z"/></g></g>
<rect x="531.6" y="211.6" width="92.7" height="90.8" fill="none" stroke="#333" stroke-width="0.5"/>
<rect x="339" y="305.8" width="93.3" height="9.7" fill="#d9d9d9" stroke="#333" stroke-width="0.5"/>
<text x="385.6" y="312.6" font-size="4.75" text-anchor="middle" fill="#333" font-weight="normal" >SC01-F2</text>
<clipPath id="cp10"><rect x="339" y="315.5" width="93.3" height="90.3"/></clipPath>
<g clip-path="url(#cp10)"><g transform="translate(388.3,365.6) scale(0.446,0.461) translate(-154.7,-311.5)"><path d="M115.3,270.4 C116.8,268.0 122.2,264.8 126.3,262.7 C130.4,260.6 136.1,258.1 140.0,258.0 C143.9,257.9 146.8,260.3 150.0,262.0 C153.2,263.7 157.2,265.3 159.1,268.0 C161.0,270.7 156.6,275.6 161.3,278.0 C166.1,280.4 180.3,281.5 187.6,282.4 C194.9,283.3 197.8,283.1 205.1,283.5 C212.4,283.9 225.2,283.5 231.4,284.6 C237.6,285.7 240.1,287.6 242.3,290.0 C244.5,292.4 244.9,295.9 244.5,298.8 C244.1,301.7 243.8,305.4 240.1,307.6 C236.4,309.8 226.6,310.2 222.6,312.0 C218.6,313.8 217.4,315.6 216.0,318.5 C214.6,321.4 215.0,325.1 213.9,329.5 C212.8,333.9 211.0,338.2 209.5,344.8 C208.0,351.4 207.3,362.7 205.1,368.9 C202.9,375.1 201.1,378.5 196.3,382.0 C191.6,385.5 183.2,388.6 176.6,389.7 C170.0,390.8 162.0,389.9 156.9,388.6 C151.8,387.3 148.4,385.3 146.0,382.0 C143.6,378.7 142.7,374.0 142.7,368.9 C142.7,363.8 143.6,357.2 146.0,351.4 C148.4,345.6 154.0,339.4 156.9,333.9 C159.8,328.4 162.8,323.6 163.5,318.5 C164.2,313.4 162.8,307.6 161.3,303.2 C159.8,298.8 157.6,294.5 154.7,292.3 C151.8,290.1 147.4,290.7 143.8,290.0 C140.2,289.3 136.3,289.0 133.0,288.0 C129.7,287.0 126.7,285.8 124.0,284.0 C121.3,282.2 118.5,279.3 117.0,277.0 C115.5,274.7 113.8,272.8 115.3,270.4Z" fill="#eec89c" opacity="1"/>
<path d="M182.6,280.5 C186.9,279.8 197.4,282.4 205.0,283.0 C212.6,283.6 222.4,283.5 228.0,284.0 C233.6,284.5 235.8,284.1 238.6,285.8 C241.4,287.6 244.2,291.3 244.8,294.5 C245.4,297.7 244.0,302.2 242.1,305.0 C240.2,307.8 236.9,309.6 233.4,311.2 C229.9,312.8 223.7,312.8 221.1,314.7 C218.5,316.6 219.1,319.0 217.6,322.6 C216.1,326.2 214.1,330.8 212.3,336.6 C210.6,342.4 208.6,355.6 207.1,357.6 C205.6,359.6 205.3,353.2 203.6,348.8 C201.8,344.4 198.1,337.1 196.6,331.3 C195.1,325.5 197.7,321.1 194.8,313.8 C191.9,306.5 181.0,293.1 179.0,287.5 C177.0,281.9 178.3,281.2 182.6,280.5Z" fill="#7cffba" opacity="0.55"/>
<path d="M200.0,283.0 C204.2,280.3 221.6,283.5 228.0,284.0 C234.4,284.5 235.8,284.1 238.6,285.8 C241.4,287.6 244.2,291.3 244.8,294.5 C245.4,297.7 244.0,302.2 242.1,305.0 C240.2,307.8 236.9,309.6 233.4,311.2 C229.9,312.8 225.0,314.4 221.1,314.7 C217.2,315.0 213.0,315.4 210.0,313.0 C207.0,310.6 204.7,305.0 203.0,300.0 C201.3,295.0 195.8,285.7 200.0,283.0Z" fill="#7cffba" opacity="0.7"/>
<path d="M130.0,263.0 C130.2,260.5 133.7,254.9 136.0,251.0 C138.3,247.1 139.6,242.9 143.8,239.7 C148.0,236.5 155.8,233.8 161.3,232.0 C166.8,230.2 171.1,229.0 176.6,229.2 C182.1,229.4 188.7,231.0 194.2,233.1 C199.7,235.2 205.7,238.6 209.5,241.9 C213.3,245.2 216.0,249.2 217.1,252.8 C218.2,256.4 217.3,260.5 216.0,263.8 C214.7,267.1 212.2,270.1 209.5,272.5 C206.8,274.9 200.7,278.4 199.6,278.0 C198.5,277.6 202.0,273.1 202.9,270.4 C203.8,267.7 206.2,264.5 205.1,261.6 C204.0,258.7 200.3,255.0 196.3,252.8 C192.3,250.6 186.1,248.5 181.0,248.5 C175.9,248.5 169.3,250.2 165.7,252.8 C162.0,255.4 160.9,261.6 159.1,263.8 C157.3,266.0 157.3,266.3 155.0,266.0 C152.7,265.7 148.3,262.0 145.0,262.0 C141.7,262.0 137.5,265.8 135.0,266.0 C132.5,266.2 129.8,265.5 130.0,263.0Z" fill="#f840a0" opacity="1"/>
<path d="M163.5,318.0 C162.0,320.0 159.8,328.3 156.9,333.9 C154.0,339.5 148.4,345.6 146.0,351.4 C143.6,357.2 142.7,363.8 142.7,368.9 C142.7,374.0 144.6,379.3 146.0,382.0 C147.4,384.7 150.5,387.0 151.0,385.0 C151.5,383.0 148.8,375.5 149.0,370.0 C149.2,364.5 150.2,357.7 152.0,352.0 C153.8,346.3 157.7,341.0 160.0,336.0 C162.3,331.0 165.4,325.0 166.0,322.0 C166.6,319.0 165.0,316.0 163.5,318.0Z" fill="#f840a0" opacity="0.85"/>
<rect x="135" y="320" width="90" height="85" fill="url(#gfade)" opacity="0.35"/>
<path d="M83.0,224.1 C84.0,222.6 87.1,222.9 88.8,223.1 C90.5,223.3 91.7,225.7 93.2,225.5 C94.7,225.3 95.9,223.2 97.6,221.9 C99.3,220.6 101.2,218.8 103.4,217.5 C105.6,216.2 108.3,215.1 110.7,213.9 C113.1,212.7 116.4,210.4 118.0,210.2 C119.6,209.9 120.2,211.4 120.2,212.4 C120.2,213.4 119.8,214.5 118.0,216.1 C116.2,217.7 112.1,219.8 109.2,221.9 C106.3,224.0 102.7,226.6 100.5,228.5 C98.3,230.4 96.5,231.0 96.1,233.6 C95.7,236.2 98.5,241.7 98.3,243.8 C98.0,245.9 96.2,246.4 94.6,246.0 C93.0,245.6 90.4,242.9 88.8,241.6 C87.2,240.3 86.1,239.6 85.1,238.0 C84.1,236.4 83.0,234.4 82.7,232.1 C82.4,229.8 82.0,225.6 83.0,224.1Z" fill="#58d288" opacity="1"/>
<path d="M99.0,228.5 C99.8,226.8 104.4,223.5 107.0,221.0 C109.6,218.5 112.5,215.4 114.5,213.5 C116.5,211.6 117.8,209.8 119.0,209.5 C120.2,209.2 121.2,210.9 121.5,212.0 C121.8,213.1 121.4,214.7 120.5,216.0 C119.6,217.3 118.1,218.3 116.0,220.0 C113.9,221.7 110.3,224.2 108.0,226.0 C105.7,227.8 103.5,230.6 102.0,231.0 C100.5,231.4 98.2,230.2 99.0,228.5Z" fill="#f85a2a" opacity="1"/>
<path d="M88.5,246.7 C89.5,245.9 91.7,244.6 92.2,245.3 C92.7,246.0 91.6,249.2 91.5,251.0 C91.4,252.8 90.7,254.7 91.5,256.0 C92.3,257.3 94.9,257.9 96.1,259.0 C97.3,260.1 99.3,261.8 98.6,262.3 C97.9,262.8 93.8,262.1 91.7,261.8 C89.6,261.5 87.0,261.6 85.9,260.5 C84.8,259.4 85.0,256.8 85.1,255.0 C85.2,253.2 85.9,251.4 86.5,250.0 C87.1,248.6 87.5,247.5 88.5,246.7Z" fill="#86aede" opacity="1"/>
<path d="M53.8,329.6 C54.2,326.4 55.0,324.2 56.7,322.3 C58.4,320.4 61.1,318.7 64.0,318.0 C66.9,317.3 71.0,318.0 74.2,318.2 C77.4,318.4 81.9,318.3 83.0,319.4 C84.1,320.4 82.3,323.1 81.0,324.5 C79.7,325.9 76.5,326.1 75.0,327.5 C73.5,328.9 72.1,331.0 72.0,333.0 C71.9,335.0 72.8,337.8 74.5,339.5 C76.2,341.2 80.1,342.0 82.0,343.5 C83.9,345.0 85.5,346.1 85.9,348.6 C86.3,351.2 85.6,356.6 84.4,358.8 C83.2,361.0 80.3,362.3 78.6,361.8 C76.9,361.3 76.4,357.6 74.2,355.9 C72.0,354.2 68.1,352.9 65.4,351.5 C62.7,350.1 59.9,348.9 58.1,347.2 C56.3,345.5 55.2,344.2 54.5,341.3 C53.8,338.4 53.4,332.8 53.8,329.6Z" fill="#e88a30" opacity="0.35"/>
<path d="M78.6,322.3 C79.3,320.9 83.5,319.0 85.9,317.2 C88.3,315.4 91.6,312.1 93.2,311.4 C94.8,310.7 94.2,311.7 95.4,312.8 C96.6,313.9 98.7,315.9 100.5,318.0 C102.3,320.1 105.8,323.4 106.3,325.3 C106.8,327.2 104.9,328.5 103.4,329.6 C102.0,330.7 100.0,332.0 97.6,331.8 C95.2,331.6 91.5,329.3 88.8,328.2 C86.1,327.1 83.2,326.3 81.5,325.3 C79.8,324.3 77.9,323.7 78.6,322.3Z" fill="#8a40f4" opacity="0.7"/>
<path d="M74.2,355.9 C75.7,353.0 81.5,350.3 84.4,348.6 C87.3,346.9 89.0,346.1 91.7,345.7 C94.4,345.3 97.3,346.6 100.5,346.4 C103.7,346.1 107.9,344.6 110.7,344.2 C113.5,343.8 116.1,343.7 117.3,344.2 C118.5,344.7 118.8,346.3 118.0,347.2 C117.2,348.1 115.1,348.8 112.2,349.3 C109.3,349.8 103.9,349.2 100.5,350.1 C97.1,351.0 92.7,352.6 91.7,354.5 C90.7,356.4 93.9,359.1 94.6,361.8 C95.3,364.5 96.6,367.8 96.1,370.5 C95.6,373.2 93.9,376.3 91.7,377.8 C89.5,379.3 85.3,379.8 83.0,379.3 C80.7,378.8 79.0,377.1 77.8,374.9 C76.6,372.7 76.3,369.3 75.7,366.1 C75.1,362.9 72.8,358.8 74.2,355.9Z" fill="#6088e6" opacity="0.45"/>
<path d="M119.0,286.0 C120.2,284.7 123.0,283.8 125.0,284.0 C127.0,284.2 129.5,285.7 131.0,287.0 C132.5,288.3 133.7,290.0 134.0,292.0 C134.3,294.0 134.0,296.8 133.0,299.0 C132.0,301.2 129.8,303.8 128.0,305.0 C126.2,306.2 123.6,306.8 122.0,306.0 C120.4,305.2 119.2,302.3 118.5,300.0 C117.8,297.7 117.4,294.3 117.5,292.0 C117.6,289.7 117.8,287.3 119.0,286.0Z" fill="#7360d2" opacity="0.45"/>
<path d="M130.0,288.0 C130.5,285.8 134.3,286.3 136.0,287.0 C137.7,287.7 139.5,290.0 140.0,292.0 C140.5,294.0 140.2,297.7 139.0,299.0 C137.8,300.3 134.5,301.8 133.0,300.0 C131.5,298.2 129.5,290.2 130.0,288.0Z" fill="#4a9cf4" opacity="0.45"/>
<path d="M111.0,304.0 C111.5,302.8 115.0,302.3 117.0,302.5 C119.0,302.7 122.5,303.7 123.0,305.0 C123.5,306.3 121.5,309.7 120.0,310.5 C118.5,311.3 115.5,311.1 114.0,310.0 C112.5,308.9 110.5,305.2 111.0,304.0Z" fill="#5ad8dc" opacity="0.6"/>
<path fill="#6a5ad0" d="M148.7 348.5h1.2v1.2h-1.2zM203.9 370.1h1.2v1.2h-1.2zM139.1 288.4h1.2v1.2h-1.2zM134.1 287.7h1.2v1.2h-1.2zM184.1 286.2h1.2v1.2h-1.2zM148.4 370.2h1.2v1.2h-1.2zM178.3 357.7h1.2v1.2h-1.2zM188.3 314.7h1.2v1.2h-1.2zM155.8 273.5h1.2v1.2h-1.2zM187.0 356.8h1.2v1.2h-1.2zM172.6 281.3h1.2v1.2h-1.2zM193.7 310.2h1.2v1.2h-1.2zM145.6 289.1h1.2v1.2h-1.2zM120.6 276.7h1.2v1.2h-1.2zM168.8 372.6h1.2v1.2h-1.2zM163.7 352.6h1.2v1.2h-1.2zM193.5 353.4h1.2v1.2h-1.2zM190.5 336.0h1.2v1.2h-1.2zM161.7 354.1h1.2v1.2h-1.2zM159.4 297.0h1.2v1.2h-1.2zM187.3 329.7h1.2v1.2h-1.2zM162.7 368.2h1.2v1.2h-1.2zM179.6 386.0h1.2v1.2h-1.2zM182.2 320.6h1.2v1.2h-1.2zM202.0 297.1h1.2v1.2h-1.2zM148.6 348.3h1.2v1.2h-1.2zM225.4 292.1h1.2v1.2h-1.2zM191.4 304.9h1.2v1.2h-1.2zM177.5 331.2h1.2v1.2h-1.2zM158.3 296.2h1.2v1.2h-1.2zM222.1 286.8h1.2v1.2h-1.2zM119.3 274.9h1.2v1.2h-1.2z"/>
<path fill="#f840a0" d="M134.9 276.6h1.3v1.3h-1.3zM163.2 299.6h1.3v1.3h-1.3zM145.0 263.3h1.3v1.3h-1.3zM141.3 273.6h1.3v1.3h-1.3zM139.2 282.1h1.3v1.3h-1.3zM122.5 280.4h1.3v1.3h-1.3zM159.7 280.4h1.3v1.3h-1.3zM131.4 261.6h1.3v1.3h-1.3zM170.0 292.0h1.3v1.3h-1.3zM138.3 284.1h1.3v1.3h-1.3zM160.8 288.1h1.3v1.3h-1.3zM121.0 271.0h1.3v1.3h-1.3zM139.8 258.2h1.3v1.3h-1.3zM169.6 290.0h1.3v1.3h-1.3zM141.6 269.0h1.3v1.3h-1.3zM144.5 266.1h1.3v1.3h-1.3zM135.7 278.0h1.3v1.3h-1.3zM125.5 282.1h1.3v1.3h-1.3zM147.4 270.9h1.3v1.3h-1.3zM163.7 278.9h1.3v1.3h-1.3zM150.7 276.0h1.3v1.3h-1.3z"/>
<path fill="#f840a0" d="M173.6 302.0h1.3v1.3h-1.3zM170.2 312.9h1.3v1.3h-1.3zM169.4 313.8h1.3v1.3h-1.3zM172.4 323.2h1.3v1.3h-1.3zM157.0 354.7h1.3v1.3h-1.3zM148.5 347.7h1.3v1.3h-1.3zM166.6 330.6h1.3v1.3h-1.3zM164.5 338.4h1.3v1.3h-1.3zM172.0 366.6h1.3v1.3h-1.3zM172.6 373.5h1.3v1.3h-1.3zM169.1 361.3h1.3v1.3h-1.3zM165.2 360.0h1.3v1.3h-1.3zM144.7 365.4h1.3v1.3h-1.3zM162.5 354.9h1.3v1.3h-1.3z"/>
<path fill="#ffffff" d="M208.3 247.8h1.4v1.4h-1.4zM202.4 254.0h1.4v1.4h-1.4zM213.6 251.1h1.4v1.4h-1.4zM189.9 247.5h1.4v1.4h-1.4zM167.5 249.3h1.4v1.4h-1.4zM192.1 250.2h1.4v1.4h-1.4zM151.7 258.1h1.4v1.4h-1.4zM134.2 261.9h1.4v1.4h-1.4zM147.2 245.2h1.4v1.4h-1.4zM202.7 251.3h1.4v1.4h-1.4zM198.1 253.6h1.4v1.4h-1.4zM183.8 247.6h1.4v1.4h-1.4zM157.3 250.3h1.4v1.4h-1.4zM152.3 256.9h1.4v1.4h-1.4zM199.4 250.9h1.4v1.4h-1.4zM209.6 257.0h1.4v1.4h-1.4z"/>
<path fill="#ffffff" d="M215.6 295.1h1.3v1.3h-1.3zM194.9 314.8h1.3v1.3h-1.3zM235.0 292.8h1.3v1.3h-1.3zM216.5 284.6h1.3v1.3h-1.3zM205.6 344.2h1.3v1.3h-1.3zM206.9 283.1h1.3v1.3h-1.3zM205.5 350.0h1.3v1.3h-1.3zM217.7 315.8h1.3v1.3h-1.3zM212.6 284.8h1.3v1.3h-1.3zM194.8 289.1h1.3v1.3h-1.3zM206.7 354.8h1.3v1.3h-1.3zM216.3 303.6h1.3v1.3h-1.3zM218.8 299.9h1.3v1.3h-1.3zM209.9 289.3h1.3v1.3h-1.3zM226.6 285.3h1.3v1.3h-1.3zM213.8 294.4h1.3v1.3h-1.3zM216.2 284.5h1.3v1.3h-1.3zM221.0 294.0h1.3v1.3h-1.3zM188.2 299.2h1.3v1.3h-1.3zM212.8 293.6h1.3v1.3h-1.3zM219.8 299.7h1.3v1.3h-1.3z"/>
<path fill="#7cffba" d="M199.4 316.1h1.4v1.4h-1.4zM228.6 288.5h1.4v1.4h-1.4zM208.2 298.8h1.4v1.4h-1.4zM209.6 297.4h1.4v1.4h-1.4zM197.2 323.0h1.4v1.4h-1.4zM217.3 313.8h1.4v1.4h-1.4zM224.7 301.7h1.4v1.4h-1.4zM208.2 285.6h1.4v1.4h-1.4zM237.8 288.8h1.4v1.4h-1.4zM203.1 329.5h1.4v1.4h-1.4zM201.4 339.0h1.4v1.4h-1.4zM241.7 292.4h1.4v1.4h-1.4zM216.9 285.9h1.4v1.4h-1.4zM206.5 295.8h1.4v1.4h-1.4z"/>
<path fill="#4a70e0" d="M219.4 284.2h1.2v1.2h-1.2zM190.0 286.6h1.2v1.2h-1.2zM213.0 284.1h1.2v1.2h-1.2zM182.7 284.4h1.2v1.2h-1.2zM195.0 282.1h1.2v1.2h-1.2zM186.0 284.1h1.2v1.2h-1.2zM201.0 283.4h1.2v1.2h-1.2zM205.3 283.8h1.2v1.2h-1.2zM206.3 283.6h1.2v1.2h-1.2z"/>
<path fill="#ffffff" d="M68.8 320.1h1.3v1.3h-1.3zM73.4 345.1h1.3v1.3h-1.3zM66.7 340.2h1.3v1.3h-1.3zM83.6 353.6h1.3v1.3h-1.3zM81.4 321.7h1.3v1.3h-1.3zM76.7 322.6h1.3v1.3h-1.3zM69.1 340.4h1.3v1.3h-1.3z"/>
<path fill="#8a40f4" d="M59.8 342.5h1.2v1.2h-1.2zM67.5 333.5h1.2v1.2h-1.2zM59.3 329.8h1.2v1.2h-1.2zM80.6 360.4h1.2v1.2h-1.2z"/>
<path fill="#ffffff" d="M90.5 354.3h1.3v1.3h-1.3zM85.5 350.6h1.3v1.3h-1.3zM80.5 352.4h1.3v1.3h-1.3zM85.4 354.6h1.3v1.3h-1.3zM85.4 350.4h1.3v1.3h-1.3z"/>
<path fill="#ffffff" d="M94.9 230.0h1.2v1.2h-1.2zM99.4 220.9h1.2v1.2h-1.2zM96.2 238.6h1.2v1.2h-1.2zM98.2 221.7h1.2v1.2h-1.2zM93.4 225.8h1.2v1.2h-1.2z"/></g></g>
<rect x="339" y="315.5" width="93.3" height="90.3" fill="none" stroke="#333" stroke-width="0.5"/>
<line x1="337" y1="334.8" x2="339" y2="334.8" stroke="#333" stroke-width="0.5"/>
<text x="335.3" y="337.6" font-size="7.8" text-anchor="end" fill="#4d4d4d" font-weight="normal" >10</text>
<line x1="337" y1="365.6" x2="339" y2="365.6" stroke="#333" stroke-width="0.5"/>
<text x="335.3" y="368.4" font-size="7.8" text-anchor="end" fill="#4d4d4d" font-weight="normal" >0</text>
<line x1="337" y1="396.3" x2="339" y2="396.3" stroke="#333" stroke-width="0.5"/>
<text x="335.3" y="399.1" font-size="7.8" text-anchor="end" fill="#4d4d4d" font-weight="normal" >-10</text>
<line x1="354.6" y1="405.8" x2="354.6" y2="407.8" stroke="#333" stroke-width="0.5"/>
<text x="354.6" y="414.6" font-size="7.8" text-anchor="middle" fill="#4d4d4d" font-weight="normal" >-10</text>
<line x1="371.5" y1="405.8" x2="371.5" y2="407.8" stroke="#333" stroke-width="0.5"/>
<text x="371.5" y="414.6" font-size="7.8" text-anchor="middle" fill="#4d4d4d" font-weight="normal" >-5</text>
<line x1="388.3" y1="405.8" x2="388.3" y2="407.8" stroke="#333" stroke-width="0.5"/>
<text x="388.3" y="414.6" font-size="7.8" text-anchor="middle" fill="#4d4d4d" font-weight="normal" >0</text>
<line x1="405.1" y1="405.8" x2="405.1" y2="407.8" stroke="#333" stroke-width="0.5"/>
<text x="405.1" y="414.6" font-size="7.8" text-anchor="middle" fill="#4d4d4d" font-weight="normal" >5</text>
<line x1="421.6" y1="405.8" x2="421.6" y2="407.8" stroke="#333" stroke-width="0.5"/>
<text x="421.6" y="414.6" font-size="7.8" text-anchor="middle" fill="#4d4d4d" font-weight="normal" >10</text>
<rect x="435.6" y="305.8" width="93.1" height="9.7" fill="#d9d9d9" stroke="#333" stroke-width="0.5"/>
<text x="482.2" y="312.6" font-size="4.75" text-anchor="middle" fill="#333" font-weight="normal" >SC03-F2</text>
<clipPath id="cp11"><rect x="435.6" y="315.5" width="93.1" height="90.3"/></clipPath>
<g clip-path="url(#cp11)"><g transform="translate(484.9,365.6) scale(0.446,0.461) translate(-154.7,-311.5)"><path d="M115.3,270.4 C116.8,268.0 122.2,264.8 126.3,262.7 C130.4,260.6 136.1,258.1 140.0,258.0 C143.9,257.9 146.8,260.3 150.0,262.0 C153.2,263.7 157.2,265.3 159.1,268.0 C161.0,270.7 156.6,275.6 161.3,278.0 C166.1,280.4 180.3,281.5 187.6,282.4 C194.9,283.3 197.8,283.1 205.1,283.5 C212.4,283.9 225.2,283.5 231.4,284.6 C237.6,285.7 240.1,287.6 242.3,290.0 C244.5,292.4 244.9,295.9 244.5,298.8 C244.1,301.7 243.8,305.4 240.1,307.6 C236.4,309.8 226.6,310.2 222.6,312.0 C218.6,313.8 217.4,315.6 216.0,318.5 C214.6,321.4 215.0,325.1 213.9,329.5 C212.8,333.9 211.0,338.2 209.5,344.8 C208.0,351.4 207.3,362.7 205.1,368.9 C202.9,375.1 201.1,378.5 196.3,382.0 C191.6,385.5 183.2,388.6 176.6,389.7 C170.0,390.8 162.0,389.9 156.9,388.6 C151.8,387.3 148.4,385.3 146.0,382.0 C143.6,378.7 142.7,374.0 142.7,368.9 C142.7,363.8 143.6,357.2 146.0,351.4 C148.4,345.6 154.0,339.4 156.9,333.9 C159.8,328.4 162.8,323.6 163.5,318.5 C164.2,313.4 162.8,307.6 161.3,303.2 C159.8,298.8 157.6,294.5 154.7,292.3 C151.8,290.1 147.4,290.7 143.8,290.0 C140.2,289.3 136.3,289.0 133.0,288.0 C129.7,287.0 126.7,285.8 124.0,284.0 C121.3,282.2 118.5,279.3 117.0,277.0 C115.5,274.7 113.8,272.8 115.3,270.4Z" fill="#eec89c" opacity="1"/>
<path d="M182.6,280.5 C186.9,279.8 197.4,282.4 205.0,283.0 C212.6,283.6 222.4,283.5 228.0,284.0 C233.6,284.5 235.8,284.1 238.6,285.8 C241.4,287.6 244.2,291.3 244.8,294.5 C245.4,297.7 244.0,302.2 242.1,305.0 C240.2,307.8 236.9,309.6 233.4,311.2 C229.9,312.8 223.7,312.8 221.1,314.7 C218.5,316.6 219.1,319.0 217.6,322.6 C216.1,326.2 214.1,330.8 212.3,336.6 C210.6,342.4 208.6,355.6 207.1,357.6 C205.6,359.6 205.3,353.2 203.6,348.8 C201.8,344.4 198.1,337.1 196.6,331.3 C195.1,325.5 197.7,321.1 194.8,313.8 C191.9,306.5 181.0,293.1 179.0,287.5 C177.0,281.9 178.3,281.2 182.6,280.5Z" fill="#7cffba" opacity="0.55"/>
<path d="M200.0,283.0 C204.2,280.3 221.6,283.5 228.0,284.0 C234.4,284.5 235.8,284.1 238.6,285.8 C241.4,287.6 244.2,291.3 244.8,294.5 C245.4,297.7 244.0,302.2 242.1,305.0 C240.2,307.8 236.9,309.6 233.4,311.2 C229.9,312.8 225.0,314.4 221.1,314.7 C217.2,315.0 213.0,315.4 210.0,313.0 C207.0,310.6 204.7,305.0 203.0,300.0 C201.3,295.0 195.8,285.7 200.0,283.0Z" fill="#7cffba" opacity="1"/>
<path d="M130.0,263.0 C130.2,260.5 133.7,254.9 136.0,251.0 C138.3,247.1 139.6,242.9 143.8,239.7 C148.0,236.5 155.8,233.8 161.3,232.0 C166.8,230.2 171.1,229.0 176.6,229.2 C182.1,229.4 188.7,231.0 194.2,233.1 C199.7,235.2 205.7,238.6 209.5,241.9 C213.3,245.2 216.0,249.2 217.1,252.8 C218.2,256.4 217.3,260.5 216.0,263.8 C214.7,267.1 212.2,270.1 209.5,272.5 C206.8,274.9 200.7,278.4 199.6,278.0 C198.5,277.6 202.0,273.1 202.9,270.4 C203.8,267.7 206.2,264.5 205.1,261.6 C204.0,258.7 200.3,255.0 196.3,252.8 C192.3,250.6 186.1,248.5 181.0,248.5 C175.9,248.5 169.3,250.2 165.7,252.8 C162.0,255.4 160.9,261.6 159.1,263.8 C157.3,266.0 157.3,266.3 155.0,266.0 C152.7,265.7 148.3,262.0 145.0,262.0 C141.7,262.0 137.5,265.8 135.0,266.0 C132.5,266.2 129.8,265.5 130.0,263.0Z" fill="#f840a0" opacity="1"/>
<path d="M163.5,318.0 C162.0,320.0 159.8,328.3 156.9,333.9 C154.0,339.5 148.4,345.6 146.0,351.4 C143.6,357.2 142.7,363.8 142.7,368.9 C142.7,374.0 144.6,379.3 146.0,382.0 C147.4,384.7 150.5,387.0 151.0,385.0 C151.5,383.0 148.8,375.5 149.0,370.0 C149.2,364.5 150.2,357.7 152.0,352.0 C153.8,346.3 157.7,341.0 160.0,336.0 C162.3,331.0 165.4,325.0 166.0,322.0 C166.6,319.0 165.0,316.0 163.5,318.0Z" fill="#f840a0" opacity="0.85"/>
<rect x="135" y="320" width="90" height="85" fill="url(#gfade)" opacity="0.4"/>
<path d="M83.0,224.1 C84.0,222.6 87.1,222.9 88.8,223.1 C90.5,223.3 91.7,225.7 93.2,225.5 C94.7,225.3 95.9,223.2 97.6,221.9 C99.3,220.6 101.2,218.8 103.4,217.5 C105.6,216.2 108.3,215.1 110.7,213.9 C113.1,212.7 116.4,210.4 118.0,210.2 C119.6,209.9 120.2,211.4 120.2,212.4 C120.2,213.4 119.8,214.5 118.0,216.1 C116.2,217.7 112.1,219.8 109.2,221.9 C106.3,224.0 102.7,226.6 100.5,228.5 C98.3,230.4 96.5,231.0 96.1,233.6 C95.7,236.2 98.5,241.7 98.3,243.8 C98.0,245.9 96.2,246.4 94.6,246.0 C93.0,245.6 90.4,242.9 88.8,241.6 C87.2,240.3 86.1,239.6 85.1,238.0 C84.1,236.4 83.0,234.4 82.7,232.1 C82.4,229.8 82.0,225.6 83.0,224.1Z" fill="#58d288" opacity="1"/>
<path d="M99.0,228.5 C99.8,226.8 104.4,223.5 107.0,221.0 C109.6,218.5 112.5,215.4 114.5,213.5 C116.5,211.6 117.8,209.8 119.0,209.5 C120.2,209.2 121.2,210.9 121.5,212.0 C121.8,213.1 121.4,214.7 120.5,216.0 C119.6,217.3 118.1,218.3 116.0,220.0 C113.9,221.7 110.3,224.2 108.0,226.0 C105.7,227.8 103.5,230.6 102.0,231.0 C100.5,231.4 98.2,230.2 99.0,228.5Z" fill="#f85a2a" opacity="1"/>
<path d="M88.5,246.7 C89.5,245.9 91.7,244.6 92.2,245.3 C92.7,246.0 91.6,249.2 91.5,251.0 C91.4,252.8 90.7,254.7 91.5,256.0 C92.3,257.3 94.9,257.9 96.1,259.0 C97.3,260.1 99.3,261.8 98.6,262.3 C97.9,262.8 93.8,262.1 91.7,261.8 C89.6,261.5 87.0,261.6 85.9,260.5 C84.8,259.4 85.0,256.8 85.1,255.0 C85.2,253.2 85.9,251.4 86.5,250.0 C87.1,248.6 87.5,247.5 88.5,246.7Z" fill="#86aede" opacity="1"/>
<path d="M53.8,329.6 C54.2,326.4 55.0,324.2 56.7,322.3 C58.4,320.4 61.1,318.7 64.0,318.0 C66.9,317.3 71.0,318.0 74.2,318.2 C77.4,318.4 81.9,318.3 83.0,319.4 C84.1,320.4 82.3,323.1 81.0,324.5 C79.7,325.9 76.5,326.1 75.0,327.5 C73.5,328.9 72.1,331.0 72.0,333.0 C71.9,335.0 72.8,337.8 74.5,339.5 C76.2,341.2 80.1,342.0 82.0,343.5 C83.9,345.0 85.5,346.1 85.9,348.6 C86.3,351.2 85.6,356.6 84.4,358.8 C83.2,361.0 80.3,362.3 78.6,361.8 C76.9,361.3 76.4,357.6 74.2,355.9 C72.0,354.2 68.1,352.9 65.4,351.5 C62.7,350.1 59.9,348.9 58.1,347.2 C56.3,345.5 55.2,344.2 54.5,341.3 C53.8,338.4 53.4,332.8 53.8,329.6Z" fill="#e88a30" opacity="1"/>
<path d="M78.6,322.3 C79.3,320.9 83.5,319.0 85.9,317.2 C88.3,315.4 91.6,312.1 93.2,311.4 C94.8,310.7 94.2,311.7 95.4,312.8 C96.6,313.9 98.7,315.9 100.5,318.0 C102.3,320.1 105.8,323.4 106.3,325.3 C106.8,327.2 104.9,328.5 103.4,329.6 C102.0,330.7 100.0,332.0 97.6,331.8 C95.2,331.6 91.5,329.3 88.8,328.2 C86.1,327.1 83.2,326.3 81.5,325.3 C79.8,324.3 77.9,323.7 78.6,322.3Z" fill="#8a40f4" opacity="1"/>
<path d="M74.2,355.9 C75.7,353.0 81.5,350.3 84.4,348.6 C87.3,346.9 89.0,346.1 91.7,345.7 C94.4,345.3 97.3,346.6 100.5,346.4 C103.7,346.1 107.9,344.6 110.7,344.2 C113.5,343.8 116.1,343.7 117.3,344.2 C118.5,344.7 118.8,346.3 118.0,347.2 C117.2,348.1 115.1,348.8 112.2,349.3 C109.3,349.8 103.9,349.2 100.5,350.1 C97.1,351.0 92.7,352.6 91.7,354.5 C90.7,356.4 93.9,359.1 94.6,361.8 C95.3,364.5 96.6,367.8 96.1,370.5 C95.6,373.2 93.9,376.3 91.7,377.8 C89.5,379.3 85.3,379.8 83.0,379.3 C80.7,378.8 79.0,377.1 77.8,374.9 C76.6,372.7 76.3,369.3 75.7,366.1 C75.1,362.9 72.8,358.8 74.2,355.9Z" fill="#6088e6" opacity="1"/>
<path d="M119.0,286.0 C120.2,284.7 123.0,283.8 125.0,284.0 C127.0,284.2 129.5,285.7 131.0,287.0 C132.5,288.3 133.7,290.0 134.0,292.0 C134.3,294.0 134.0,296.8 133.0,299.0 C132.0,301.2 129.8,303.8 128.0,305.0 C126.2,306.2 123.6,306.8 122.0,306.0 C120.4,305.2 119.2,302.3 118.5,300.0 C117.8,297.7 117.4,294.3 117.5,292.0 C117.6,289.7 117.8,287.3 119.0,286.0Z" fill="#7360d2" opacity="0.5"/>
<path d="M130.0,288.0 C130.5,285.8 134.3,286.3 136.0,287.0 C137.7,287.7 139.5,290.0 140.0,292.0 C140.5,294.0 140.2,297.7 139.0,299.0 C137.8,300.3 134.5,301.8 133.0,300.0 C131.5,298.2 129.5,290.2 130.0,288.0Z" fill="#4a9cf4" opacity="0.5"/>
<path d="M111.0,304.0 C111.5,302.8 115.0,302.3 117.0,302.5 C119.0,302.7 122.5,303.7 123.0,305.0 C123.5,306.3 121.5,309.7 120.0,310.5 C118.5,311.3 115.5,311.1 114.0,310.0 C112.5,308.9 110.5,305.2 111.0,304.0Z" fill="#5ad8dc" opacity="1"/>
<path fill="#6a5ad0" d="M154.4 348.3h1.2v1.2h-1.2zM166.6 360.6h1.2v1.2h-1.2zM232.2 305.3h1.2v1.2h-1.2zM148.9 364.2h1.2v1.2h-1.2zM186.7 345.6h1.2v1.2h-1.2zM194.0 373.2h1.2v1.2h-1.2zM191.6 341.7h1.2v1.2h-1.2zM138.6 270.5h1.2v1.2h-1.2zM177.5 348.5h1.2v1.2h-1.2zM184.5 318.1h1.2v1.2h-1.2zM178.0 315.7h1.2v1.2h-1.2zM176.7 289.2h1.2v1.2h-1.2zM123.6 276.9h1.2v1.2h-1.2zM206.5 333.4h1.2v1.2h-1.2zM160.2 333.2h1.2v1.2h-1.2zM237.1 292.8h1.2v1.2h-1.2zM154.3 282.9h1.2v1.2h-1.2zM196.7 319.9h1.2v1.2h-1.2zM151.7 381.6h1.2v1.2h-1.2zM161.6 291.2h1.2v1.2h-1.2zM119.6 277.3h1.2v1.2h-1.2zM140.9 288.4h1.2v1.2h-1.2zM228.5 292.9h1.2v1.2h-1.2zM234.2 296.5h1.2v1.2h-1.2zM214.0 306.7h1.2v1.2h-1.2zM187.9 336.7h1.2v1.2h-1.2zM181.1 369.1h1.2v1.2h-1.2zM162.6 308.7h1.2v1.2h-1.2zM215.5 299.5h1.2v1.2h-1.2zM147.2 381.2h1.2v1.2h-1.2zM176.0 302.8h1.2v1.2h-1.2zM149.2 271.6h1.2v1.2h-1.2z"/>
<path fill="#f840a0" d="M122.7 268.9h1.3v1.3h-1.3zM139.6 280.9h1.3v1.3h-1.3zM129.1 273.5h1.3v1.3h-1.3zM138.4 263.4h1.3v1.3h-1.3zM127.2 264.2h1.3v1.3h-1.3zM151.7 267.3h1.3v1.3h-1.3zM150.6 285.6h1.3v1.3h-1.3zM151.1 281.4h1.3v1.3h-1.3zM117.5 275.1h1.3v1.3h-1.3zM129.6 277.7h1.3v1.3h-1.3zM166.3 294.3h1.3v1.3h-1.3zM166.4 280.8h1.3v1.3h-1.3zM163.1 292.8h1.3v1.3h-1.3zM158.7 270.8h1.3v1.3h-1.3zM122.4 273.9h1.3v1.3h-1.3zM142.2 280.2h1.3v1.3h-1.3zM169.4 297.0h1.3v1.3h-1.3zM164.6 293.9h1.3v1.3h-1.3zM136.9 276.7h1.3v1.3h-1.3zM167.6 291.9h1.3v1.3h-1.3zM118.8 276.4h1.3v1.3h-1.3z"/>
<path fill="#f840a0" d="M160.2 371.5h1.3v1.3h-1.3zM154.8 361.3h1.3v1.3h-1.3zM173.9 337.7h1.3v1.3h-1.3zM170.2 342.8h1.3v1.3h-1.3zM153.6 346.8h1.3v1.3h-1.3zM170.1 322.2h1.3v1.3h-1.3zM163.6 361.8h1.3v1.3h-1.3zM162.7 369.7h1.3v1.3h-1.3zM166.0 356.3h1.3v1.3h-1.3zM164.6 316.5h1.3v1.3h-1.3zM153.0 362.2h1.3v1.3h-1.3zM153.5 354.2h1.3v1.3h-1.3zM156.6 367.9h1.3v1.3h-1.3zM152.2 344.8h1.3v1.3h-1.3z"/>
<path fill="#ffffff" d="M141.7 261.1h1.4v1.4h-1.4zM154.4 248.9h1.4v1.4h-1.4zM158.3 246.3h1.4v1.4h-1.4zM206.1 256.9h1.4v1.4h-1.4zM146.5 248.2h1.4v1.4h-1.4zM198.6 250.8h1.4v1.4h-1.4zM160.8 255.7h1.4v1.4h-1.4zM133.6 256.9h1.4v1.4h-1.4zM169.7 248.1h1.4v1.4h-1.4zM131.1 262.6h1.4v1.4h-1.4zM210.4 245.6h1.4v1.4h-1.4zM151.0 251.6h1.4v1.4h-1.4zM148.1 260.9h1.4v1.4h-1.4zM210.4 257.1h1.4v1.4h-1.4zM205.5 249.9h1.4v1.4h-1.4zM155.7 255.9h1.4v1.4h-1.4z"/>
<path fill="#ffffff" d="M201.6 299.7h1.3v1.3h-1.3zM204.5 310.8h1.3v1.3h-1.3zM205.4 298.9h1.3v1.3h-1.3zM225.5 303.0h1.3v1.3h-1.3zM212.6 325.7h1.3v1.3h-1.3zM210.3 339.8h1.3v1.3h-1.3zM204.6 309.2h1.3v1.3h-1.3zM198.1 319.5h1.3v1.3h-1.3zM190.7 283.1h1.3v1.3h-1.3zM212.5 296.5h1.3v1.3h-1.3zM236.5 288.5h1.3v1.3h-1.3zM206.0 350.4h1.3v1.3h-1.3zM201.2 325.6h1.3v1.3h-1.3zM221.2 288.2h1.3v1.3h-1.3zM200.3 283.4h1.3v1.3h-1.3zM229.8 305.8h1.3v1.3h-1.3zM206.4 350.4h1.3v1.3h-1.3zM211.9 301.8h1.3v1.3h-1.3zM210.5 283.3h1.3v1.3h-1.3zM223.5 306.8h1.3v1.3h-1.3zM213.7 305.3h1.3v1.3h-1.3z"/>
<path fill="#7cffba" d="M207.1 323.7h1.4v1.4h-1.4zM218.9 310.5h1.4v1.4h-1.4zM204.2 290.4h1.4v1.4h-1.4zM205.2 289.7h1.4v1.4h-1.4zM203.9 348.1h1.4v1.4h-1.4zM204.0 306.7h1.4v1.4h-1.4zM221.6 298.1h1.4v1.4h-1.4zM236.4 297.3h1.4v1.4h-1.4zM209.2 340.2h1.4v1.4h-1.4zM197.5 303.4h1.4v1.4h-1.4zM198.4 324.0h1.4v1.4h-1.4zM195.9 318.4h1.4v1.4h-1.4zM197.5 305.5h1.4v1.4h-1.4zM224.0 292.4h1.4v1.4h-1.4z"/>
<path fill="#4a70e0" d="M227.0 284.2h1.2v1.2h-1.2zM187.6 282.2h1.2v1.2h-1.2zM186.9 284.8h1.2v1.2h-1.2zM224.5 284.3h1.2v1.2h-1.2zM210.3 286.5h1.2v1.2h-1.2zM186.6 281.9h1.2v1.2h-1.2zM201.5 282.6h1.2v1.2h-1.2zM207.7 285.9h1.2v1.2h-1.2zM183.9 283.8h1.2v1.2h-1.2z"/>
<path fill="#ffffff" d="M66.1 342.4h1.3v1.3h-1.3zM80.2 347.2h1.3v1.3h-1.3zM66.8 340.9h1.3v1.3h-1.3zM75.0 322.7h1.3v1.3h-1.3zM84.2 352.9h1.3v1.3h-1.3zM78.5 319.0h1.3v1.3h-1.3zM67.6 318.6h1.3v1.3h-1.3z"/>
<path fill="#8a40f4" d="M61.6 323.8h1.2v1.2h-1.2zM62.2 321.8h1.2v1.2h-1.2zM79.3 358.6h1.2v1.2h-1.2zM79.9 320.4h1.2v1.2h-1.2z"/>
<path fill="#ffffff" d="M99.4 346.5h1.3v1.3h-1.3zM84.2 348.9h1.3v1.3h-1.3zM83.8 351.3h1.3v1.3h-1.3zM81.7 354.2h1.3v1.3h-1.3zM105.1 347.8h1.3v1.3h-1.3z"/>
<path fill="#ffffff" d="M92.8 227.3h1.2v1.2h-1.2zM94.4 243.9h1.2v1.2h-1.2zM92.3 226.7h1.2v1.2h-1.2zM94.6 233.2h1.2v1.2h-1.2zM114.0 212.6h1.2v1.2h-1.2z"/></g></g>
<rect x="435.6" y="315.5" width="93.1" height="90.3" fill="none" stroke="#333" stroke-width="0.5"/>
<line x1="451.2" y1="405.8" x2="451.2" y2="407.8" stroke="#333" stroke-width="0.5"/>
<text x="451.2" y="414.6" font-size="7.8" text-anchor="middle" fill="#4d4d4d" font-weight="normal" >-10</text>
<line x1="468.1" y1="405.8" x2="468.1" y2="407.8" stroke="#333" stroke-width="0.5"/>
<text x="468.1" y="414.6" font-size="7.8" text-anchor="middle" fill="#4d4d4d" font-weight="normal" >-5</text>
<line x1="484.9" y1="405.8" x2="484.9" y2="407.8" stroke="#333" stroke-width="0.5"/>
<text x="484.9" y="414.6" font-size="7.8" text-anchor="middle" fill="#4d4d4d" font-weight="normal" >0</text>
<line x1="501.7" y1="405.8" x2="501.7" y2="407.8" stroke="#333" stroke-width="0.5"/>
<text x="501.7" y="414.6" font-size="7.8" text-anchor="middle" fill="#4d4d4d" font-weight="normal" >5</text>
<line x1="518.2" y1="405.8" x2="518.2" y2="407.8" stroke="#333" stroke-width="0.5"/>
<text x="518.2" y="414.6" font-size="7.8" text-anchor="middle" fill="#4d4d4d" font-weight="normal" >10</text>
<rect x="531.6" y="305.8" width="92.7" height="9.7" fill="#d9d9d9" stroke="#333" stroke-width="0.5"/>
<text x="578.0" y="312.6" font-size="4.75" text-anchor="middle" fill="#333" font-weight="normal" >SC06-F2</text>
<clipPath id="cp12"><rect x="531.6" y="315.5" width="92.7" height="90.3"/></clipPath>
<g clip-path="url(#cp12)"><g transform="translate(580.9,365.6) scale(0.446,0.461) translate(-154.7,-311.5)"><path d="M115.3,270.4 C116.8,268.0 122.2,264.8 126.3,262.7 C130.4,260.6 136.1,258.1 140.0,258.0 C143.9,257.9 146.8,260.3 150.0,262.0 C153.2,263.7 157.2,265.3 159.1,268.0 C161.0,270.7 156.6,275.6 161.3,278.0 C166.1,280.4 180.3,281.5 187.6,282.4 C194.9,283.3 197.8,283.1 205.1,283.5 C212.4,283.9 225.2,283.5 231.4,284.6 C237.6,285.7 240.1,287.6 242.3,290.0 C244.5,292.4 244.9,295.9 244.5,298.8 C244.1,301.7 243.8,305.4 240.1,307.6 C236.4,309.8 226.6,310.2 222.6,312.0 C218.6,313.8 217.4,315.6 216.0,318.5 C214.6,321.4 215.0,325.1 213.9,329.5 C212.8,333.9 211.0,338.2 209.5,344.8 C208.0,351.4 207.3,362.7 205.1,368.9 C202.9,375.1 201.1,378.5 196.3,382.0 C191.6,385.5 183.2,388.6 176.6,389.7 C170.0,390.8 162.0,389.9 156.9,388.6 C151.8,387.3 148.4,385.3 146.0,382.0 C143.6,378.7 142.7,374.0 142.7,368.9 C142.7,363.8 143.6,357.2 146.0,351.4 C148.4,345.6 154.0,339.4 156.9,333.9 C159.8,328.4 162.8,323.6 163.5,318.5 C164.2,313.4 162.8,307.6 161.3,303.2 C159.8,298.8 157.6,294.5 154.7,292.3 C151.8,290.1 147.4,290.7 143.8,290.0 C140.2,289.3 136.3,289.0 133.0,288.0 C129.7,287.0 126.7,285.8 124.0,284.0 C121.3,282.2 118.5,279.3 117.0,277.0 C115.5,274.7 113.8,272.8 115.3,270.4Z" fill="#eec89c" opacity="1"/>
<path d="M182.6,280.5 C186.9,279.8 197.4,282.4 205.0,283.0 C212.6,283.6 222.4,283.5 228.0,284.0 C233.6,284.5 235.8,284.1 238.6,285.8 C241.4,287.6 244.2,291.3 244.8,294.5 C245.4,297.7 244.0,302.2 242.1,305.0 C240.2,307.8 236.9,309.6 233.4,311.2 C229.9,312.8 223.7,312.8 221.1,314.7 C218.5,316.6 219.1,319.0 217.6,322.6 C216.1,326.2 214.1,330.8 212.3,336.6 C210.6,342.4 208.6,355.6 207.1,357.6 C205.6,359.6 205.3,353.2 203.6,348.8 C201.8,344.4 198.1,337.1 196.6,331.3 C195.1,325.5 197.7,321.1 194.8,313.8 C191.9,306.5 181.0,293.1 179.0,287.5 C177.0,281.9 178.3,281.2 182.6,280.5Z" fill="#7cffba" opacity="0.55"/>
<path d="M200.0,283.0 C204.2,280.3 221.6,283.5 228.0,284.0 C234.4,284.5 235.8,284.1 238.6,285.8 C241.4,287.6 244.2,291.3 244.8,294.5 C245.4,297.7 244.0,302.2 242.1,305.0 C240.2,307.8 236.9,309.6 233.4,311.2 C229.9,312.8 225.0,314.4 221.1,314.7 C217.2,315.0 213.0,315.4 210.0,313.0 C207.0,310.6 204.7,305.0 203.0,300.0 C201.3,295.0 195.8,285.7 200.0,283.0Z" fill="#7cffba" opacity="0.6"/>
<path d="M130.0,263.0 C130.2,260.5 133.7,254.9 136.0,251.0 C138.3,247.1 139.6,242.9 143.8,239.7 C148.0,236.5 155.8,233.8 161.3,232.0 C166.8,230.2 171.1,229.0 176.6,229.2 C182.1,229.4 188.7,231.0 194.2,233.1 C199.7,235.2 205.7,238.6 209.5,241.9 C213.3,245.2 216.0,249.2 217.1,252.8 C218.2,256.4 217.3,260.5 216.0,263.8 C214.7,267.1 212.2,270.1 209.5,272.5 C206.8,274.9 200.7,278.4 199.6,278.0 C198.5,277.6 202.0,273.1 202.9,270.4 C203.8,267.7 206.2,264.5 205.1,261.6 C204.0,258.7 200.3,255.0 196.3,252.8 C192.3,250.6 186.1,248.5 181.0,248.5 C175.9,248.5 169.3,250.2 165.7,252.8 C162.0,255.4 160.9,261.6 159.1,263.8 C157.3,266.0 157.3,266.3 155.0,266.0 C152.7,265.7 148.3,262.0 145.0,262.0 C141.7,262.0 137.5,265.8 135.0,266.0 C132.5,266.2 129.8,265.5 130.0,263.0Z" fill="#f840a0" opacity="1"/>
<path d="M163.5,318.0 C162.0,320.0 159.8,328.3 156.9,333.9 C154.0,339.5 148.4,345.6 146.0,351.4 C143.6,357.2 142.7,363.8 142.7,368.9 C142.7,374.0 144.6,379.3 146.0,382.0 C147.4,384.7 150.5,387.0 151.0,385.0 C151.5,383.0 148.8,375.5 149.0,370.0 C149.2,364.5 150.2,357.7 152.0,352.0 C153.8,346.3 157.7,341.0 160.0,336.0 C162.3,331.0 165.4,325.0 166.0,322.0 C166.6,319.0 165.0,316.0 163.5,318.0Z" fill="#f840a0" opacity="0.85"/>
<rect x="135" y="310" width="90" height="85" fill="url(#gfade)" opacity="0.55"/>
<path d="M83.0,224.1 C84.0,222.6 87.1,222.9 88.8,223.1 C90.5,223.3 91.7,225.7 93.2,225.5 C94.7,225.3 95.9,223.2 97.6,221.9 C99.3,220.6 101.2,218.8 103.4,217.5 C105.6,216.2 108.3,215.1 110.7,213.9 C113.1,212.7 116.4,210.4 118.0,210.2 C119.6,209.9 120.2,211.4 120.2,212.4 C120.2,213.4 119.8,214.5 118.0,216.1 C116.2,217.7 112.1,219.8 109.2,221.9 C106.3,224.0 102.7,226.6 100.5,228.5 C98.3,230.4 96.5,231.0 96.1,233.6 C95.7,236.2 98.5,241.7 98.3,243.8 C98.0,245.9 96.2,246.4 94.6,246.0 C93.0,245.6 90.4,242.9 88.8,241.6 C87.2,240.3 86.1,239.6 85.1,238.0 C84.1,236.4 83.0,234.4 82.7,232.1 C82.4,229.8 82.0,225.6 83.0,224.1Z" fill="#58d288" opacity="1"/>
<path d="M99.0,228.5 C99.8,226.8 104.4,223.5 107.0,221.0 C109.6,218.5 112.5,215.4 114.5,213.5 C116.5,211.6 117.8,209.8 119.0,209.5 C120.2,209.2 121.2,210.9 121.5,212.0 C121.8,213.1 121.4,214.7 120.5,216.0 C119.6,217.3 118.1,218.3 116.0,220.0 C113.9,221.7 110.3,224.2 108.0,226.0 C105.7,227.8 103.5,230.6 102.0,231.0 C100.5,231.4 98.2,230.2 99.0,228.5Z" fill="#f85a2a" opacity="1"/>
<path d="M88.5,246.7 C89.5,245.9 91.7,244.6 92.2,245.3 C92.7,246.0 91.6,249.2 91.5,251.0 C91.4,252.8 90.7,254.7 91.5,256.0 C92.3,257.3 94.9,257.9 96.1,259.0 C97.3,260.1 99.3,261.8 98.6,262.3 C97.9,262.8 93.8,262.1 91.7,261.8 C89.6,261.5 87.0,261.6 85.9,260.5 C84.8,259.4 85.0,256.8 85.1,255.0 C85.2,253.2 85.9,251.4 86.5,250.0 C87.1,248.6 87.5,247.5 88.5,246.7Z" fill="#86aede" opacity="1"/>
<path d="M53.8,329.6 C54.2,326.4 55.0,324.2 56.7,322.3 C58.4,320.4 61.1,318.7 64.0,318.0 C66.9,317.3 71.0,318.0 74.2,318.2 C77.4,318.4 81.9,318.3 83.0,319.4 C84.1,320.4 82.3,323.1 81.0,324.5 C79.7,325.9 76.5,326.1 75.0,327.5 C73.5,328.9 72.1,331.0 72.0,333.0 C71.9,335.0 72.8,337.8 74.5,339.5 C76.2,341.2 80.1,342.0 82.0,343.5 C83.9,345.0 85.5,346.1 85.9,348.6 C86.3,351.2 85.6,356.6 84.4,358.8 C83.2,361.0 80.3,362.3 78.6,361.8 C76.9,361.3 76.4,357.6 74.2,355.9 C72.0,354.2 68.1,352.9 65.4,351.5 C62.7,350.1 59.9,348.9 58.1,347.2 C56.3,345.5 55.2,344.2 54.5,341.3 C53.8,338.4 53.4,332.8 53.8,329.6Z" fill="#e88a30" opacity="1"/>
<path d="M78.6,322.3 C79.3,320.9 83.5,319.0 85.9,317.2 C88.3,315.4 91.6,312.1 93.2,311.4 C94.8,310.7 94.2,311.7 95.4,312.8 C96.6,313.9 98.7,315.9 100.5,318.0 C102.3,320.1 105.8,323.4 106.3,325.3 C106.8,327.2 104.9,328.5 103.4,329.6 C102.0,330.7 100.0,332.0 97.6,331.8 C95.2,331.6 91.5,329.3 88.8,328.2 C86.1,327.1 83.2,326.3 81.5,325.3 C79.8,324.3 77.9,323.7 78.6,322.3Z" fill="#8a40f4" opacity="1"/>
<path d="M74.2,355.9 C75.7,353.0 81.5,350.3 84.4,348.6 C87.3,346.9 89.0,346.1 91.7,345.7 C94.4,345.3 97.3,346.6 100.5,346.4 C103.7,346.1 107.9,344.6 110.7,344.2 C113.5,343.8 116.1,343.7 117.3,344.2 C118.5,344.7 118.8,346.3 118.0,347.2 C117.2,348.1 115.1,348.8 112.2,349.3 C109.3,349.8 103.9,349.2 100.5,350.1 C97.1,351.0 92.7,352.6 91.7,354.5 C90.7,356.4 93.9,359.1 94.6,361.8 C95.3,364.5 96.6,367.8 96.1,370.5 C95.6,373.2 93.9,376.3 91.7,377.8 C89.5,379.3 85.3,379.8 83.0,379.3 C80.7,378.8 79.0,377.1 77.8,374.9 C76.6,372.7 76.3,369.3 75.7,366.1 C75.1,362.9 72.8,358.8 74.2,355.9Z" fill="#6088e6" opacity="1"/>
<path d="M119.0,286.0 C120.2,284.7 123.0,283.8 125.0,284.0 C127.0,284.2 129.5,285.7 131.0,287.0 C132.5,288.3 133.7,290.0 134.0,292.0 C134.3,294.0 134.0,296.8 133.0,299.0 C132.0,301.2 129.8,303.8 128.0,305.0 C126.2,306.2 123.6,306.8 122.0,306.0 C120.4,305.2 119.2,302.3 118.5,300.0 C117.8,297.7 117.4,294.3 117.5,292.0 C117.6,289.7 117.8,287.3 119.0,286.0Z" fill="#7360d2" opacity="0.45"/>
<path d="M130.0,288.0 C130.5,285.8 134.3,286.3 136.0,287.0 C137.7,287.7 139.5,290.0 140.0,292.0 C140.5,294.0 140.2,297.7 139.0,299.0 C137.8,300.3 134.5,301.8 133.0,300.0 C131.5,298.2 129.5,290.2 130.0,288.0Z" fill="#4a9cf4" opacity="0.45"/>
<path d="M111.0,304.0 C111.5,302.8 115.0,302.3 117.0,302.5 C119.0,302.7 122.5,303.7 123.0,305.0 C123.5,306.3 121.5,309.7 120.0,310.5 C118.5,311.3 115.5,311.1 114.0,310.0 C112.5,308.9 110.5,305.2 111.0,304.0Z" fill="#5ad8dc" opacity="1"/>
<path fill="#6a5ad0" d="M207.1 295.0h1.2v1.2h-1.2zM149.2 288.2h1.2v1.2h-1.2zM218.7 287.5h1.2v1.2h-1.2zM188.4 305.5h1.2v1.2h-1.2zM189.1 380.8h1.2v1.2h-1.2zM198.9 311.5h1.2v1.2h-1.2zM178.7 382.7h1.2v1.2h-1.2zM117.4 276.5h1.2v1.2h-1.2zM204.8 352.9h1.2v1.2h-1.2zM130.1 264.3h1.2v1.2h-1.2zM175.9 368.9h1.2v1.2h-1.2zM187.1 311.0h1.2v1.2h-1.2zM180.3 281.7h1.2v1.2h-1.2zM238.3 304.7h1.2v1.2h-1.2zM222.2 300.0h1.2v1.2h-1.2zM232.6 302.4h1.2v1.2h-1.2zM179.0 307.7h1.2v1.2h-1.2zM211.3 295.9h1.2v1.2h-1.2zM180.0 321.5h1.2v1.2h-1.2zM189.0 319.0h1.2v1.2h-1.2zM205.0 291.7h1.2v1.2h-1.2zM158.3 343.6h1.2v1.2h-1.2zM164.4 303.8h1.2v1.2h-1.2zM195.4 351.1h1.2v1.2h-1.2zM192.4 299.1h1.2v1.2h-1.2zM158.0 378.5h1.2v1.2h-1.2zM204.0 299.6h1.2v1.2h-1.2zM156.4 337.8h1.2v1.2h-1.2zM206.3 302.9h1.2v1.2h-1.2zM122.7 280.7h1.2v1.2h-1.2zM189.9 302.2h1.2v1.2h-1.2zM210.9 330.3h1.2v1.2h-1.2z"/>
<path fill="#f840a0" d="M161.1 285.5h1.3v1.3h-1.3zM146.8 281.1h1.3v1.3h-1.3zM156.3 273.5h1.3v1.3h-1.3zM127.8 281.4h1.3v1.3h-1.3zM143.6 262.9h1.3v1.3h-1.3zM144.2 277.6h1.3v1.3h-1.3zM157.8 272.2h1.3v1.3h-1.3zM162.6 299.5h1.3v1.3h-1.3zM151.4 275.1h1.3v1.3h-1.3zM130.0 263.5h1.3v1.3h-1.3zM153.3 290.9h1.3v1.3h-1.3zM158.7 288.3h1.3v1.3h-1.3zM127.6 264.6h1.3v1.3h-1.3zM138.0 275.6h1.3v1.3h-1.3zM146.3 279.1h1.3v1.3h-1.3zM141.3 277.9h1.3v1.3h-1.3zM140.8 283.0h1.3v1.3h-1.3zM138.8 275.8h1.3v1.3h-1.3zM165.9 299.0h1.3v1.3h-1.3zM116.3 272.0h1.3v1.3h-1.3zM148.7 277.3h1.3v1.3h-1.3z"/>
<path fill="#f840a0" d="M156.2 371.0h1.3v1.3h-1.3zM153.7 372.5h1.3v1.3h-1.3zM154.2 357.2h1.3v1.3h-1.3zM166.6 314.9h1.3v1.3h-1.3zM173.4 340.5h1.3v1.3h-1.3zM156.8 387.5h1.3v1.3h-1.3zM160.0 346.8h1.3v1.3h-1.3zM166.6 345.5h1.3v1.3h-1.3zM163.1 362.6h1.3v1.3h-1.3zM163.9 329.1h1.3v1.3h-1.3zM170.2 340.5h1.3v1.3h-1.3zM146.2 378.0h1.3v1.3h-1.3zM171.6 310.8h1.3v1.3h-1.3zM171.0 362.0h1.3v1.3h-1.3z"/>
<path fill="#ffffff" d="M150.6 257.9h1.4v1.4h-1.4zM200.3 248.5h1.4v1.4h-1.4zM207.6 268.2h1.4v1.4h-1.4zM155.5 247.8h1.4v1.4h-1.4zM148.8 253.7h1.4v1.4h-1.4zM201.4 276.7h1.4v1.4h-1.4zM140.3 255.0h1.4v1.4h-1.4zM158.6 248.5h1.4v1.4h-1.4zM159.3 262.1h1.4v1.4h-1.4zM213.5 247.8h1.4v1.4h-1.4zM209.3 271.7h1.4v1.4h-1.4zM185.4 249.7h1.4v1.4h-1.4zM201.3 246.7h1.4v1.4h-1.4zM143.6 245.9h1.4v1.4h-1.4zM205.6 262.1h1.4v1.4h-1.4zM148.2 251.1h1.4v1.4h-1.4z"/>
<path fill="#ffffff" d="M228.6 311.8h1.3v1.3h-1.3zM203.3 295.0h1.3v1.3h-1.3zM207.6 290.7h1.3v1.3h-1.3zM210.8 335.6h1.3v1.3h-1.3zM203.7 286.6h1.3v1.3h-1.3zM201.0 293.5h1.3v1.3h-1.3zM235.3 309.3h1.3v1.3h-1.3zM190.0 299.2h1.3v1.3h-1.3zM203.2 285.4h1.3v1.3h-1.3zM194.8 289.8h1.3v1.3h-1.3zM192.8 286.1h1.3v1.3h-1.3zM202.7 283.5h1.3v1.3h-1.3zM206.9 338.0h1.3v1.3h-1.3zM200.1 321.3h1.3v1.3h-1.3zM225.8 311.0h1.3v1.3h-1.3zM198.9 304.4h1.3v1.3h-1.3zM203.4 346.9h1.3v1.3h-1.3zM219.3 299.7h1.3v1.3h-1.3zM183.4 292.0h1.3v1.3h-1.3zM203.8 323.3h1.3v1.3h-1.3zM211.9 314.1h1.3v1.3h-1.3z"/>
<path fill="#7cffba" d="M213.9 304.8h1.4v1.4h-1.4zM241.8 297.6h1.4v1.4h-1.4zM203.4 332.7h1.4v1.4h-1.4zM220.9 300.3h1.4v1.4h-1.4zM232.0 303.9h1.4v1.4h-1.4zM235.1 286.5h1.4v1.4h-1.4zM238.1 292.0h1.4v1.4h-1.4zM207.1 353.2h1.4v1.4h-1.4zM213.0 291.6h1.4v1.4h-1.4zM214.5 290.5h1.4v1.4h-1.4zM204.7 350.4h1.4v1.4h-1.4zM235.2 299.1h1.4v1.4h-1.4zM197.3 326.3h1.4v1.4h-1.4zM239.9 305.6h1.4v1.4h-1.4z"/>
<path fill="#4a70e0" d="M200.0 284.6h1.2v1.2h-1.2zM188.3 285.1h1.2v1.2h-1.2zM187.2 285.6h1.2v1.2h-1.2zM222.8 283.9h1.2v1.2h-1.2zM193.0 286.7h1.2v1.2h-1.2zM208.0 285.1h1.2v1.2h-1.2zM193.9 285.2h1.2v1.2h-1.2zM207.0 283.8h1.2v1.2h-1.2zM236.7 286.5h1.2v1.2h-1.2z"/>
<path fill="#ffffff" d="M78.6 347.2h1.3v1.3h-1.3zM79.2 344.9h1.3v1.3h-1.3zM82.7 352.3h1.3v1.3h-1.3zM79.9 320.2h1.3v1.3h-1.3zM83.2 354.0h1.3v1.3h-1.3zM69.2 347.6h1.3v1.3h-1.3zM81.8 320.5h1.3v1.3h-1.3z"/>
<path fill="#8a40f4" d="M77.7 345.6h1.2v1.2h-1.2zM83.5 357.7h1.2v1.2h-1.2zM67.6 325.4h1.2v1.2h-1.2zM60.6 338.5h1.2v1.2h-1.2z"/>
<path fill="#ffffff" d="M106.5 347.6h1.3v1.3h-1.3zM92.7 348.7h1.3v1.3h-1.3zM82.7 354.0h1.3v1.3h-1.3zM96.6 346.9h1.3v1.3h-1.3zM95.7 352.2h1.3v1.3h-1.3z"/>
<path fill="#ffffff" d="M102.2 222.0h1.2v1.2h-1.2zM96.7 229.3h1.2v1.2h-1.2zM112.4 213.8h1.2v1.2h-1.2zM92.4 233.9h1.2v1.2h-1.2zM96.0 237.9h1.2v1.2h-1.2z"/></g></g>
<rect x="531.6" y="315.5" width="92.7" height="90.3" fill="none" stroke="#333" stroke-width="0.5"/>
<line x1="547.2" y1="405.8" x2="547.2" y2="407.8" stroke="#333" stroke-width="0.5"/>
<text x="547.2" y="414.6" font-size="7.8" text-anchor="middle" fill="#4d4d4d" font-weight="normal" >-10</text>
<line x1="564.1" y1="405.8" x2="564.1" y2="407.8" stroke="#333" stroke-width="0.5"/>
<text x="564.1" y="414.6" font-size="7.8" text-anchor="middle" fill="#4d4d4d" font-weight="normal" >-5</text>
<line x1="580.9" y1="405.8" x2="580.9" y2="407.8" stroke="#333" stroke-width="0.5"/>
<text x="580.9" y="414.6" font-size="7.8" text-anchor="middle" fill="#4d4d4d" font-weight="normal" >0</text>
<line x1="597.7" y1="405.8" x2="597.7" y2="407.8" stroke="#333" stroke-width="0.5"/>
<text x="597.7" y="414.6" font-size="7.8" text-anchor="middle" fill="#4d4d4d" font-weight="normal" >5</text>
<line x1="614.2" y1="405.8" x2="614.2" y2="407.8" stroke="#333" stroke-width="0.5"/>
<text x="614.2" y="414.6" font-size="7.8" text-anchor="middle" fill="#4d4d4d" font-weight="normal" >10</text>
<text x="481.2" y="427.4" font-size="13.3" text-anchor="middle" fill="#000" font-weight="normal" >UMAP_1</text>
<text x="634.0" y="252.6" font-size="5.8" text-anchor="start" fill="#222" font-weight="normal" >Cluster</text>
<circle cx="638.5" cy="261.5" r="1.0" fill="#86aede"/>
<text x="646.0" y="263.2" font-size="4.75" text-anchor="start" fill="#222" font-weight="normal" >B</text>
<circle cx="638.5" cy="270.9" r="1.0" fill="#7360d2"/>
<text x="646.0" y="272.6" font-size="4.75" text-anchor="start" fill="#222" font-weight="normal" >EVT</text>
<circle cx="638.5" cy="280.3" r="1.0" fill="#6088e6"/>
<text x="646.0" y="282.0" font-size="4.75" text-anchor="start" fill="#222" font-weight="normal" >Hofbauer</text>
<circle cx="638.5" cy="289.7" r="1.0" fill="#e88a30"/>
<text x="646.0" y="291.4" font-size="4.75" text-anchor="start" fill="#222" font-weight="normal" >Monocyte</text>
<circle cx="638.5" cy="299.1" r="1.0" fill="#8a40f4"/>
<text x="646.0" y="300.8" font-size="4.75" text-anchor="start" fill="#222" font-weight="normal" >Neutrophil</text>
<circle cx="638.5" cy="308.5" r="1.0" fill="#f85a2a"/>
<text x="646.0" y="310.2" font-size="4.75" text-anchor="start" fill="#222" font-weight="normal" >NK</text>
<circle cx="638.5" cy="317.9" r="1.0" fill="#4a9cf4"/>
<text x="646.0" y="319.6" font-size="4.75" text-anchor="start" fill="#222" font-weight="normal" >SCT</text>
<circle cx="638.5" cy="327.3" r="1.0" fill="#5ad8dc"/>
<text x="646.0" y="329.0" font-size="4.75" text-anchor="start" fill="#222" font-weight="normal" >Stromal</text>
<circle cx="638.5" cy="336.7" r="1.0" fill="#58d288"/>
<text x="646.0" y="338.4" font-size="4.75" text-anchor="start" fill="#222" font-weight="normal" >T</text>
<circle cx="638.5" cy="346.1" r="1.0" fill="#eec89c"/>
<text x="646.0" y="347.8" font-size="4.75" text-anchor="start" fill="#222" font-weight="normal" >VCT</text>
<circle cx="638.5" cy="355.5" r="1.0" fill="#f840a0"/>
<text x="646.0" y="357.2" font-size="4.75" text-anchor="start" fill="#222" font-weight="normal" >VCT_Cycling</text>
<circle cx="638.5" cy="364.9" r="1.0" fill="#7cffba"/>
<text x="646.0" y="366.6" font-size="4.75" text-anchor="start" fill="#222" font-weight="normal" >VCT_fusing</text>
<text x="2.3" y="458.0" font-size="20" text-anchor="start" fill="#000" font-weight="normal" >D</text>
<path d="M636.4,469.6 H78.2 V673.3" fill="none" stroke="#4d4d4d" stroke-width="0.8"/>
<line x1="85.3" y1="467.3" x2="85.3" y2="469.6" stroke="#4d4d4d" stroke-width="0.7"/>
<text x="84.5" y="464" font-size="9.6" fill="#222" transform="rotate(-36 84.5 464)">CD3D</text>
<line x1="100.4" y1="467.3" x2="100.4" y2="469.6" stroke="#4d4d4d" stroke-width="0.7"/>
<text x="99.6" y="464" font-size="9.6" fill="#222" transform="rotate(-36 99.6 464)">CD3E</text>
<line x1="115.4" y1="467.3" x2="115.4" y2="469.6" stroke="#4d4d4d" stroke-width="0.7"/>
<text x="114.6" y="464" font-size="9.6" fill="#222" transform="rotate(-36 114.6 464)">TRAC</text>
<line x1="130.5" y1="467.3" x2="130.5" y2="469.6" stroke="#4d4d4d" stroke-width="0.7"/>
<text x="129.7" y="464" font-size="9.6" fill="#222" transform="rotate(-36 129.7 464)">NCAM1</text>
<line x1="145.6" y1="467.3" x2="145.6" y2="469.6" stroke="#4d4d4d" stroke-width="0.7"/>
<text x="144.8" y="464" font-size="9.6" fill="#222" transform="rotate(-36 144.8 464)">NCR1</text>
<line x1="160.6" y1="467.3" x2="160.6" y2="469.6" stroke="#4d4d4d" stroke-width="0.7"/>
<text x="159.8" y="464" font-size="9.6" fill="#222" transform="rotate(-36 159.8 464)">KLRB1</text>
<line x1="175.7" y1="467.3" x2="175.7" y2="469.6" stroke="#4d4d4d" stroke-width="0.7"/>
<text x="174.9" y="464" font-size="9.6" fill="#222" transform="rotate(-36 174.9 464)">MS4A1</text>
<line x1="190.8" y1="467.3" x2="190.8" y2="469.6" stroke="#4d4d4d" stroke-width="0.7"/>
<text x="190.0" y="464" font-size="9.6" fill="#222" transform="rotate(-36 190.0 464)">CD79A</text>
<line x1="205.9" y1="467.3" x2="205.9" y2="469.6" stroke="#4d4d4d" stroke-width="0.7"/>
<text x="205.1" y="464" font-size="9.6" fill="#222" transform="rotate(-36 205.1 464)">PAX5</text>
<line x1="220.9" y1="467.3" x2="220.9" y2="469.6" stroke="#4d4d4d" stroke-width="0.7"/>
<text x="220.1" y="464" font-size="9.6" fill="#222" transform="rotate(-36 220.1 464)">VCAN</text>
<line x1="236.0" y1="467.3" x2="236.0" y2="469.6" stroke="#4d4d4d" stroke-width="0.7"/>
<text x="235.2" y="464" font-size="9.6" fill="#222" transform="rotate(-36 235.2 464)">FCN1</text>
<line x1="251.1" y1="467.3" x2="251.1" y2="469.6" stroke="#4d4d4d" stroke-width="0.7"/>
<text x="250.3" y="464" font-size="9.6" fill="#222" transform="rotate(-36 250.3 464)">CTSS</text>
<line x1="266.1" y1="467.3" x2="266.1" y2="469.6" stroke="#4d4d4d" stroke-width="0.7"/>
<text x="265.3" y="464" font-size="9.6" fill="#222" transform="rotate(-36 265.3 464)">C1QA</text>
<line x1="281.2" y1="467.3" x2="281.2" y2="469.6" stroke="#4d4d4d" stroke-width="0.7"/>
<text x="280.4" y="464" font-size="9.6" fill="#222" transform="rotate(-36 280.4 464)">C1QC</text>
<line x1="296.3" y1="467.3" x2="296.3" y2="469.6" stroke="#4d4d4d" stroke-width="0.7"/>
<text x="295.5" y="464" font-size="9.6" fill="#222" transform="rotate(-36 295.5 464)">C1QB</text>
<line x1="311.4" y1="467.3" x2="311.4" y2="469.6" stroke="#4d4d4d" stroke-width="0.7"/>
<text x="310.6" y="464" font-size="9.6" fill="#222" transform="rotate(-36 310.6 464)">S100A8</text>
<line x1="326.4" y1="467.3" x2="326.4" y2="469.6" stroke="#4d4d4d" stroke-width="0.7"/>
<text x="325.6" y="464" font-size="9.6" fill="#222" transform="rotate(-36 325.6 464)">FCGR3B</text>
<line x1="341.5" y1="467.3" x2="341.5" y2="469.6" stroke="#4d4d4d" stroke-width="0.7"/>
<text x="340.7" y="464" font-size="9.6" fill="#222" transform="rotate(-36 340.7 464)">G0S2</text>
<line x1="356.6" y1="467.3" x2="356.6" y2="469.6" stroke="#4d4d4d" stroke-width="0.7"/>
<text x="355.8" y="464" font-size="9.6" fill="#222" transform="rotate(-36 355.8 464)">PECAM1</text>
<line x1="371.6" y1="467.3" x2="371.6" y2="469.6" stroke="#4d4d4d" stroke-width="0.7"/>
<text x="370.8" y="464" font-size="9.6" fill="#222" transform="rotate(-36 370.8 464)">DCN</text>
<line x1="386.7" y1="467.3" x2="386.7" y2="469.6" stroke="#4d4d4d" stroke-width="0.7"/>
<text x="385.9" y="464" font-size="9.6" fill="#222" transform="rotate(-36 385.9 464)">ACTA2</text>
<line x1="401.8" y1="467.3" x2="401.8" y2="469.6" stroke="#4d4d4d" stroke-width="0.7"/>
<text x="401.0" y="464" font-size="9.6" fill="#222" transform="rotate(-36 401.0 464)">NOTUM</text>
<line x1="416.8" y1="467.3" x2="416.8" y2="469.6" stroke="#4d4d4d" stroke-width="0.7"/>
<text x="416.0" y="464" font-size="9.6" fill="#222" transform="rotate(-36 416.0 464)">HLA-G</text>
<line x1="431.9" y1="467.3" x2="431.9" y2="469.6" stroke="#4d4d4d" stroke-width="0.7"/>
<text x="431.1" y="464" font-size="9.6" fill="#222" transform="rotate(-36 431.1 464)">PRG2</text>
<line x1="447.0" y1="467.3" x2="447.0" y2="469.6" stroke="#4d4d4d" stroke-width="0.7"/>
<text x="446.2" y="464" font-size="9.6" fill="#222" transform="rotate(-36 446.2 464)">MFSD2A</text>
<line x1="462.1" y1="467.3" x2="462.1" y2="469.6" stroke="#4d4d4d" stroke-width="0.7"/>
<text x="461.2" y="464" font-size="9.6" fill="#222" transform="rotate(-36 461.2 464)">CGA</text>
<line x1="477.1" y1="467.3" x2="477.1" y2="469.6" stroke="#4d4d4d" stroke-width="0.7"/>
<text x="476.3" y="464" font-size="9.6" fill="#222" transform="rotate(-36 476.3 464)">CYP19A1</text>
<line x1="492.2" y1="467.3" x2="492.2" y2="469.6" stroke="#4d4d4d" stroke-width="0.7"/>
<text x="491.4" y="464" font-size="9.6" fill="#222" transform="rotate(-36 491.4 464)">ERVW-1</text>
<line x1="507.3" y1="467.3" x2="507.3" y2="469.6" stroke="#4d4d4d" stroke-width="0.7"/>
<text x="506.5" y="464" font-size="9.6" fill="#222" transform="rotate(-36 506.5 464)">TFAP2A</text>
<line x1="522.3" y1="467.3" x2="522.3" y2="469.6" stroke="#4d4d4d" stroke-width="0.7"/>
<text x="521.5" y="464" font-size="9.6" fill="#222" transform="rotate(-36 521.5 464)">LDHA</text>
<line x1="537.4" y1="467.3" x2="537.4" y2="469.6" stroke="#4d4d4d" stroke-width="0.7"/>
<text x="536.6" y="464" font-size="9.6" fill="#222" transform="rotate(-36 536.6 464)">TP63</text>
<line x1="552.5" y1="467.3" x2="552.5" y2="469.6" stroke="#4d4d4d" stroke-width="0.7"/>
<text x="551.7" y="464" font-size="9.6" fill="#222" transform="rotate(-36 551.7 464)">CDH1</text>
<line x1="567.5" y1="467.3" x2="567.5" y2="469.6" stroke="#4d4d4d" stroke-width="0.7"/>
<text x="566.7" y="464" font-size="9.6" fill="#222" transform="rotate(-36 566.7 464)">ERVFRD-1</text>
<line x1="582.6" y1="467.3" x2="582.6" y2="469.6" stroke="#4d4d4d" stroke-width="0.7"/>
<text x="581.8" y="464" font-size="9.6" fill="#222" transform="rotate(-36 581.8 464)">ERVV-1</text>
<line x1="597.7" y1="467.3" x2="597.7" y2="469.6" stroke="#4d4d4d" stroke-width="0.7"/>
<text x="596.9" y="464" font-size="9.6" fill="#222" transform="rotate(-36 596.9 464)">MKI67</text>
<line x1="612.8" y1="467.3" x2="612.8" y2="469.6" stroke="#4d4d4d" stroke-width="0.7"/>
<text x="612.0" y="464" font-size="9.6" fill="#222" transform="rotate(-36 612.0 464)">TOP2A</text>
<line x1="627.8" y1="467.3" x2="627.8" y2="469.6" stroke="#4d4d4d" stroke-width="0.7"/>
<text x="627.0" y="464" font-size="9.6" fill="#222" transform="rotate(-36 627.0 464)">STMN1</text>
<line x1="75.8" y1="478.3" x2="78.2" y2="478.3" stroke="#4d4d4d" stroke-width="0.7"/>
<text transform="translate(72.4,481.8) scale(1,1.08)" font-size="9.72" text-anchor="end" fill="#1e1e1e" font-weight="normal" >T</text>
<circle cx="85.3" cy="478.3" r="5.194000000000001" fill="#e8191c"/>
<circle cx="100.4" cy="478.3" r="5.194000000000001" fill="#e8191c"/>
<circle cx="115.4" cy="478.3" r="5.194000000000001" fill="#e8191c"/>
<circle cx="130.5" cy="478.3" r="1.14" fill="#2a3af0"/>
<circle cx="145.6" cy="478.3" r="1.14" fill="#2a3af0"/>
<circle cx="160.6" cy="478.3" r="2.544" fill="#f0b4bc"/>
<circle cx="175.7" cy="478.3" r="1.14" fill="#2a3af0"/>
<circle cx="190.8" cy="478.3" r="1.14" fill="#2a3af0"/>
<circle cx="205.9" cy="478.3" r="1.14" fill="#2a3af0"/>
<circle cx="220.9" cy="478.3" r="1.14" fill="#2a3af0"/>
<circle cx="236.0" cy="478.3" r="1.14" fill="#2a3af0"/>
<circle cx="251.1" cy="478.3" r="2.544" fill="#7484f0"/>
<circle cx="266.1" cy="478.3" r="1.14" fill="#2a3af0"/>
<circle cx="281.2" cy="478.3" r="1.14" fill="#2a3af0"/>
<circle cx="296.3" cy="478.3" r="1.14" fill="#2a3af0"/>
<circle cx="311.4" cy="478.3" r="2.12" fill="#2434f4"/>
<circle cx="326.4" cy="478.3" r="1.14" fill="#2a3af0"/>
<circle cx="341.5" cy="478.3" r="1.14" fill="#2a3af0"/>
<circle cx="356.6" cy="478.3" r="1.802" fill="#6070f0"/>
<circle cx="371.6" cy="478.3" r="1.14" fill="#2a3af0"/>
<circle cx="386.7" cy="478.3" r="1.14" fill="#2a3af0"/>
<circle cx="401.8" cy="478.3" r="1.14" fill="#2a3af0"/>
<circle cx="416.8" cy="478.3" r="1.14" fill="#2a3af0"/>
<circle cx="431.9" cy="478.3" r="1.14" fill="#2a3af0"/>
<circle cx="447.0" cy="478.3" r="1.14" fill="#2a3af0"/>
<circle cx="462.1" cy="478.3" r="5.194000000000001" fill="#4454f8"/>
<circle cx="477.1" cy="478.3" r="1.59" fill="#2030f0"/>
<circle cx="492.2" cy="478.3" r="1.14" fill="#2a3af0"/>
<circle cx="507.3" cy="478.3" r="1.14" fill="#2a3af0"/>
<circle cx="522.3" cy="478.3" r="4.8759999999999994" fill="#c4ccf8"/>
<circle cx="537.4" cy="478.3" r="1.14" fill="#2a3af0"/>
<circle cx="552.5" cy="478.3" r="1.14" fill="#2a3af0"/>
<circle cx="567.5" cy="478.3" r="1.14" fill="#2a3af0"/>
<circle cx="582.6" cy="478.3" r="1.14" fill="#2a3af0"/>
<circle cx="597.7" cy="478.3" r="1.14" fill="#2a3af0"/>
<circle cx="612.8" cy="478.3" r="1.14" fill="#2a3af0"/>
<circle cx="627.8" cy="478.3" r="2.968" fill="#7888f0"/>
<line x1="75.8" y1="495.3" x2="78.2" y2="495.3" stroke="#4d4d4d" stroke-width="0.7"/>
<text transform="translate(72.4,498.8) scale(1,1.08)" font-size="9.72" text-anchor="end" fill="#1e1e1e" font-weight="normal" >NK</text>
<circle cx="85.3" cy="495.3" r="1.802" fill="#e8e8f8"/>
<circle cx="100.4" cy="495.3" r="2.8620000000000005" fill="#f0b4c0"/>
<circle cx="115.4" cy="495.3" r="1.802" fill="#8090f0"/>
<circle cx="130.5" cy="495.3" r="4.558" fill="#e8191c"/>
<circle cx="145.6" cy="495.3" r="3.18" fill="#e8191c"/>
<circle cx="160.6" cy="495.3" r="5.406" fill="#e8191c"/>
<circle cx="175.7" cy="495.3" r="1.14" fill="#2a3af0"/>
<circle cx="190.8" cy="495.3" r="1.14" fill="#2a3af0"/>
<circle cx="205.9" cy="495.3" r="1.14" fill="#2a3af0"/>
<circle cx="220.9" cy="495.3" r="1.14" fill="#2a3af0"/>
<circle cx="236.0" cy="495.3" r="1.14" fill="#2a3af0"/>
<circle cx="251.1" cy="495.3" r="3.3920000000000003" fill="#98a4f2"/>
<circle cx="266.1" cy="495.3" r="1.14" fill="#2a3af0"/>
<circle cx="281.2" cy="495.3" r="1.14" fill="#2a3af0"/>
<circle cx="296.3" cy="495.3" r="1.14" fill="#2a3af0"/>
<circle cx="311.4" cy="495.3" r="2.12" fill="#2030f4"/>
<circle cx="326.4" cy="495.3" r="1.14" fill="#2a3af0"/>
<circle cx="341.5" cy="495.3" r="1.14" fill="#2a3af0"/>
<circle cx="356.6" cy="495.3" r="1.59" fill="#4050f0"/>
<circle cx="371.6" cy="495.3" r="1.14" fill="#2a3af0"/>
<circle cx="386.7" cy="495.3" r="1.14" fill="#2a3af0"/>
<circle cx="401.8" cy="495.3" r="1.14" fill="#2a3af0"/>
<circle cx="416.8" cy="495.3" r="1.14" fill="#2a3af0"/>
<circle cx="431.9" cy="495.3" r="1.14" fill="#2a3af0"/>
<circle cx="447.0" cy="495.3" r="1.14" fill="#2a3af0"/>
<circle cx="462.1" cy="495.3" r="4.664000000000001" fill="#3848f8"/>
<circle cx="477.1" cy="495.3" r="1.14" fill="#2a3af0"/>
<circle cx="492.2" cy="495.3" r="1.14" fill="#2a3af0"/>
<circle cx="507.3" cy="495.3" r="1.14" fill="#2a3af0"/>
<circle cx="522.3" cy="495.3" r="3.9220000000000006" fill="#a4acf2"/>
<circle cx="537.4" cy="495.3" r="1.14" fill="#2a3af0"/>
<circle cx="552.5" cy="495.3" r="1.14" fill="#2a3af0"/>
<circle cx="567.5" cy="495.3" r="1.14" fill="#2a3af0"/>
<circle cx="582.6" cy="495.3" r="1.14" fill="#2a3af0"/>
<circle cx="597.7" cy="495.3" r="1.14" fill="#2a3af0"/>
<circle cx="612.8" cy="495.3" r="1.14" fill="#2a3af0"/>
<circle cx="627.8" cy="495.3" r="2.3320000000000003" fill="#4858f0"/>
<line x1="75.8" y1="512.4" x2="78.2" y2="512.4" stroke="#4d4d4d" stroke-width="0.7"/>
<text transform="translate(72.4,515.9) scale(1,1.08)" font-size="9.72" text-anchor="end" fill="#1e1e1e" font-weight="normal" >B</text>
<circle cx="85.3" cy="512.4" r="1.14" fill="#2a3af0"/>
<circle cx="100.4" cy="512.4" r="1.14" fill="#2a3af0"/>
<circle cx="115.4" cy="512.4" r="1.14" fill="#2a3af0"/>
<circle cx="130.5" cy="512.4" r="1.14" fill="#2a3af0"/>
<circle cx="145.6" cy="512.4" r="1.14" fill="#2a3af0"/>
<circle cx="160.6" cy="512.4" r="1.14" fill="#2a3af0"/>
<circle cx="175.7" cy="512.4" r="5.406" fill="#e8191c"/>
<circle cx="190.8" cy="512.4" r="5.406" fill="#e8191c"/>
<circle cx="205.9" cy="512.4" r="5.406" fill="#e8191c"/>
<circle cx="220.9" cy="512.4" r="1.14" fill="#2a3af0"/>
<circle cx="236.0" cy="512.4" r="1.14" fill="#2a3af0"/>
<circle cx="251.1" cy="512.4" r="5.406" fill="#e0e4f8"/>
<circle cx="266.1" cy="512.4" r="1.14" fill="#2a3af0"/>
<circle cx="281.2" cy="512.4" r="1.14" fill="#2a3af0"/>
<circle cx="296.3" cy="512.4" r="1.14" fill="#2a3af0"/>
<circle cx="311.4" cy="512.4" r="1.9080000000000001" fill="#2030f4"/>
<circle cx="326.4" cy="512.4" r="1.14" fill="#2a3af0"/>
<circle cx="341.5" cy="512.4" r="1.14" fill="#2a3af0"/>
<circle cx="356.6" cy="512.4" r="1.59" fill="#6070f0"/>
<circle cx="371.6" cy="512.4" r="1.14" fill="#2a3af0"/>
<circle cx="386.7" cy="512.4" r="1.14" fill="#2a3af0"/>
<circle cx="401.8" cy="512.4" r="1.14" fill="#2a3af0"/>
<circle cx="416.8" cy="512.4" r="1.14" fill="#2a3af0"/>
<circle cx="431.9" cy="512.4" r="1.14" fill="#2a3af0"/>
<circle cx="447.0" cy="512.4" r="1.14" fill="#2a3af0"/>
<circle cx="462.1" cy="512.4" r="4.8759999999999994" fill="#6878f0"/>
<circle cx="477.1" cy="512.4" r="1.59" fill="#2030f0"/>
<circle cx="492.2" cy="512.4" r="1.14" fill="#2a3af0"/>
<circle cx="507.3" cy="512.4" r="1.14" fill="#2a3af0"/>
<circle cx="522.3" cy="512.4" r="3.18" fill="#5868f0"/>
<circle cx="537.4" cy="512.4" r="1.14" fill="#2a3af0"/>
<circle cx="552.5" cy="512.4" r="1.14" fill="#2a3af0"/>
<circle cx="567.5" cy="512.4" r="1.14" fill="#2a3af0"/>
<circle cx="582.6" cy="512.4" r="1.14" fill="#2a3af0"/>
<circle cx="597.7" cy="512.4" r="1.14" fill="#2a3af0"/>
<circle cx="612.8" cy="512.4" r="1.14" fill="#2a3af0"/>
<circle cx="627.8" cy="512.4" r="2.6500000000000004" fill="#8898f0"/>
<line x1="75.8" y1="529.4" x2="78.2" y2="529.4" stroke="#4d4d4d" stroke-width="0.7"/>
<text transform="translate(72.4,532.9) scale(1,1.08)" font-size="9.72" text-anchor="end" fill="#1e1e1e" font-weight="normal" >Monocyte</text>
<circle cx="85.3" cy="529.4" r="1.14" fill="#2a3af0"/>
<circle cx="100.4" cy="529.4" r="1.14" fill="#2a3af0"/>
<circle cx="115.4" cy="529.4" r="1.14" fill="#2a3af0"/>
<circle cx="130.5" cy="529.4" r="1.14" fill="#2a3af0"/>
<circle cx="145.6" cy="529.4" r="1.14" fill="#2a3af0"/>
<circle cx="160.6" cy="529.4" r="1.14" fill="#2a3af0"/>
<circle cx="175.7" cy="529.4" r="1.14" fill="#2a3af0"/>
<circle cx="190.8" cy="529.4" r="1.14" fill="#2a3af0"/>
<circle cx="205.9" cy="529.4" r="1.14" fill="#2a3af0"/>
<circle cx="220.9" cy="529.4" r="5.406" fill="#e8191c"/>
<circle cx="236.0" cy="529.4" r="5.406" fill="#e8191c"/>
<circle cx="251.1" cy="529.4" r="5.406" fill="#e8191c"/>
<circle cx="266.1" cy="529.4" r="1.484" fill="#6070f0"/>
<circle cx="281.2" cy="529.4" r="1.14" fill="#2a3af0"/>
<circle cx="296.3" cy="529.4" r="1.14" fill="#2a3af0"/>
<circle cx="311.4" cy="529.4" r="5.300000000000001" fill="#e86878"/>
<circle cx="326.4" cy="529.4" r="1.14" fill="#2a3af0"/>
<circle cx="341.5" cy="529.4" r="2.3320000000000003" fill="#90a0f0"/>
<circle cx="356.6" cy="529.4" r="5.300000000000001" fill="#f2d0d8"/>
<circle cx="371.6" cy="529.4" r="1.14" fill="#2a3af0"/>
<circle cx="386.7" cy="529.4" r="1.14" fill="#2a3af0"/>
<circle cx="401.8" cy="529.4" r="1.14" fill="#2a3af0"/>
<circle cx="416.8" cy="529.4" r="1.14" fill="#2a3af0"/>
<circle cx="431.9" cy="529.4" r="1.14" fill="#2a3af0"/>
<circle cx="447.0" cy="529.4" r="1.14" fill="#2a3af0"/>
<circle cx="462.1" cy="529.4" r="5.300000000000001" fill="#1020ff"/>
<circle cx="477.1" cy="529.4" r="1.14" fill="#2a3af0"/>
<circle cx="492.2" cy="529.4" r="1.14" fill="#2a3af0"/>
<circle cx="507.3" cy="529.4" r="1.14" fill="#2a3af0"/>
<circle cx="522.3" cy="529.4" r="5.300000000000001" fill="#bcc4f8"/>
<circle cx="537.4" cy="529.4" r="1.14" fill="#2a3af0"/>
<circle cx="552.5" cy="529.4" r="1.14" fill="#2a3af0"/>
<circle cx="567.5" cy="529.4" r="1.14" fill="#2a3af0"/>
<circle cx="582.6" cy="529.4" r="1.14" fill="#2a3af0"/>
<circle cx="597.7" cy="529.4" r="1.14" fill="#2a3af0"/>
<circle cx="612.8" cy="529.4" r="1.14" fill="#2a3af0"/>
<circle cx="627.8" cy="529.4" r="1.9080000000000001" fill="#1828f4"/>
<line x1="75.8" y1="546.4" x2="78.2" y2="546.4" stroke="#4d4d4d" stroke-width="0.7"/>
<text transform="translate(72.4,549.9) scale(1,1.08)" font-size="9.72" text-anchor="end" fill="#1e1e1e" font-weight="normal" >Hofbauer</text>
<circle cx="85.3" cy="546.4" r="1.14" fill="#2a3af0"/>
<circle cx="100.4" cy="546.4" r="1.14" fill="#2a3af0"/>
<circle cx="115.4" cy="546.4" r="1.14" fill="#2a3af0"/>
<circle cx="130.5" cy="546.4" r="1.14" fill="#2a3af0"/>
<circle cx="145.6" cy="546.4" r="1.14" fill="#2a3af0"/>
<circle cx="160.6" cy="546.4" r="1.14" fill="#2a3af0"/>
<circle cx="175.7" cy="546.4" r="1.14" fill="#2a3af0"/>
<circle cx="190.8" cy="546.4" r="1.14" fill="#2a3af0"/>
<circle cx="205.9" cy="546.4" r="1.14" fill="#2a3af0"/>
<circle cx="220.9" cy="546.4" r="2.544" fill="#6070f0"/>
<circle cx="236.0" cy="546.4" r="1.6960000000000002" fill="#3040f0"/>
<circle cx="251.1" cy="546.4" r="5.406" fill="#e86080"/>
<circle cx="266.1" cy="546.4" r="5.300000000000001" fill="#e8191c"/>
<circle cx="281.2" cy="546.4" r="5.300000000000001" fill="#e8191c"/>
<circle cx="296.3" cy="546.4" r="5.300000000000001" fill="#e8191c"/>
<circle cx="311.4" cy="546.4" r="5.300000000000001" fill="#8898f0"/>
<circle cx="326.4" cy="546.4" r="1.14" fill="#2a3af0"/>
<circle cx="341.5" cy="546.4" r="1.802" fill="#2030f0"/>
<circle cx="356.6" cy="546.4" r="5.300000000000001" fill="#d8dcf8"/>
<circle cx="371.6" cy="546.4" r="1.14" fill="#2a3af0"/>
<circle cx="386.7" cy="546.4" r="1.14" fill="#2a3af0"/>
<circle cx="401.8" cy="546.4" r="1.14" fill="#2a3af0"/>
<circle cx="416.8" cy="546.4" r="1.14" fill="#2a3af0"/>
<circle cx="431.9" cy="546.4" r="1.14" fill="#2a3af0"/>
<circle cx="447.0" cy="546.4" r="1.14" fill="#2a3af0"/>
<circle cx="462.1" cy="546.4" r="5.300000000000001" fill="#1828ff"/>
<circle cx="477.1" cy="546.4" r="1.14" fill="#2a3af0"/>
<circle cx="492.2" cy="546.4" r="1.14" fill="#2a3af0"/>
<circle cx="507.3" cy="546.4" r="1.14" fill="#2a3af0"/>
<circle cx="522.3" cy="546.4" r="5.300000000000001" fill="#f0c0c8"/>
<circle cx="537.4" cy="546.4" r="1.14" fill="#2a3af0"/>
<circle cx="552.5" cy="546.4" r="1.14" fill="#2a3af0"/>
<circle cx="567.5" cy="546.4" r="1.14" fill="#2a3af0"/>
<circle cx="582.6" cy="546.4" r="1.14" fill="#2a3af0"/>
<circle cx="597.7" cy="546.4" r="1.14" fill="#2a3af0"/>
<circle cx="612.8" cy="546.4" r="1.14" fill="#2a3af0"/>
<circle cx="627.8" cy="546.4" r="4.558" fill="#7080f0"/>
<line x1="75.8" y1="563.5" x2="78.2" y2="563.5" stroke="#4d4d4d" stroke-width="0.7"/>
<text transform="translate(72.4,567.0) scale(1,1.08)" font-size="9.72" text-anchor="end" fill="#1e1e1e" font-weight="normal" >Neutrophil</text>
<circle cx="85.3" cy="563.5" r="1.14" fill="#2a3af0"/>
<circle cx="100.4" cy="563.5" r="1.14" fill="#2a3af0"/>
<circle cx="115.4" cy="563.5" r="1.14" fill="#2a3af0"/>
<circle cx="130.5" cy="563.5" r="1.14" fill="#2a3af0"/>
<circle cx="145.6" cy="563.5" r="1.14" fill="#2a3af0"/>
<circle cx="160.6" cy="563.5" r="1.14" fill="#2a3af0"/>
<circle cx="175.7" cy="563.5" r="1.14" fill="#2a3af0"/>
<circle cx="190.8" cy="563.5" r="1.14" fill="#2a3af0"/>
<circle cx="205.9" cy="563.5" r="1.14" fill="#2a3af0"/>
<circle cx="220.9" cy="563.5" r="1.14" fill="#2a3af0"/>
<circle cx="236.0" cy="563.5" r="2.2260000000000004" fill="#d0d4f8"/>
<circle cx="251.1" cy="563.5" r="5.406" fill="#e88898"/>
<circle cx="266.1" cy="563.5" r="1.14" fill="#2a3af0"/>
<circle cx="281.2" cy="563.5" r="1.14" fill="#2a3af0"/>
<circle cx="296.3" cy="563.5" r="1.14" fill="#2a3af0"/>
<circle cx="311.4" cy="563.5" r="5.300000000000001" fill="#e8191c"/>
<circle cx="326.4" cy="563.5" r="5.300000000000001" fill="#e8191c"/>
<circle cx="341.5" cy="563.5" r="5.300000000000001" fill="#e8191c"/>
<circle cx="356.6" cy="563.5" r="3.4979999999999998" fill="#f0c0c8"/>
<circle cx="371.6" cy="563.5" r="1.14" fill="#2a3af0"/>
<circle cx="386.7" cy="563.5" r="1.14" fill="#2a3af0"/>
<circle cx="401.8" cy="563.5" r="1.14" fill="#2a3af0"/>
<circle cx="416.8" cy="563.5" r="1.14" fill="#2a3af0"/>
<circle cx="431.9" cy="563.5" r="1.14" fill="#2a3af0"/>
<circle cx="447.0" cy="563.5" r="1.14" fill="#2a3af0"/>
<circle cx="462.1" cy="563.5" r="4.24" fill="#5868f0"/>
<circle cx="477.1" cy="563.5" r="1.14" fill="#2a3af0"/>
<circle cx="492.2" cy="563.5" r="1.14" fill="#2a3af0"/>
<circle cx="507.3" cy="563.5" r="1.14" fill="#2a3af0"/>
<circle cx="522.3" cy="563.5" r="1.9080000000000001" fill="#1020f4"/>
<circle cx="537.4" cy="563.5" r="1.14" fill="#2a3af0"/>
<circle cx="552.5" cy="563.5" r="1.14" fill="#2a3af0"/>
<circle cx="567.5" cy="563.5" r="1.14" fill="#2a3af0"/>
<circle cx="582.6" cy="563.5" r="1.14" fill="#2a3af0"/>
<circle cx="597.7" cy="563.5" r="1.14" fill="#2a3af0"/>
<circle cx="612.8" cy="563.5" r="1.14" fill="#2a3af0"/>
<circle cx="627.8" cy="563.5" r="1.14" fill="#2a3af0"/>
<line x1="75.8" y1="580.5" x2="78.2" y2="580.5" stroke="#4d4d4d" stroke-width="0.7"/>
<text transform="translate(72.4,584.0) scale(1,1.08)" font-size="9.72" text-anchor="end" fill="#1e1e1e" font-weight="normal" >Stromal</text>
<circle cx="85.3" cy="580.5" r="1.14" fill="#2a3af0"/>
<circle cx="100.4" cy="580.5" r="1.14" fill="#2a3af0"/>
<circle cx="115.4" cy="580.5" r="1.14" fill="#2a3af0"/>
<circle cx="130.5" cy="580.5" r="1.14" fill="#2a3af0"/>
<circle cx="145.6" cy="580.5" r="1.14" fill="#2a3af0"/>
<circle cx="160.6" cy="580.5" r="1.14" fill="#2a3af0"/>
<circle cx="175.7" cy="580.5" r="1.14" fill="#2a3af0"/>
<circle cx="190.8" cy="580.5" r="1.14" fill="#2a3af0"/>
<circle cx="205.9" cy="580.5" r="1.14" fill="#2a3af0"/>
<circle cx="220.9" cy="580.5" r="4.028" fill="#f4e0e4"/>
<circle cx="236.0" cy="580.5" r="1.14" fill="#2a3af0"/>
<circle cx="251.1" cy="580.5" r="1.3780000000000001" fill="#1020f0"/>
<circle cx="266.1" cy="580.5" r="1.14" fill="#2a3af0"/>
<circle cx="281.2" cy="580.5" r="1.14" fill="#2a3af0"/>
<circle cx="296.3" cy="580.5" r="1.14" fill="#2a3af0"/>
<circle cx="311.4" cy="580.5" r="1.14" fill="#2a3af0"/>
<circle cx="326.4" cy="580.5" r="1.14" fill="#2a3af0"/>
<circle cx="341.5" cy="580.5" r="1.14" fill="#2a3af0"/>
<circle cx="356.6" cy="580.5" r="4.664000000000001" fill="#e8191c"/>
<circle cx="371.6" cy="580.5" r="4.664000000000001" fill="#e8191c"/>
<circle cx="386.7" cy="580.5" r="4.664000000000001" fill="#e8191c"/>
<circle cx="401.8" cy="580.5" r="1.14" fill="#2a3af0"/>
<circle cx="416.8" cy="580.5" r="1.14" fill="#2a3af0"/>
<circle cx="431.9" cy="580.5" r="1.59" fill="#6070f0"/>
<circle cx="447.0" cy="580.5" r="1.14" fill="#2a3af0"/>
<circle cx="462.1" cy="580.5" r="4.24" fill="#3040f0"/>
<circle cx="477.1" cy="580.5" r="1.14" fill="#2a3af0"/>
<circle cx="492.2" cy="580.5" r="1.14" fill="#2a3af0"/>
<circle cx="507.3" cy="580.5" r="1.14" fill="#2a3af0"/>
<circle cx="522.3" cy="580.5" r="4.24" fill="#a8b0f0"/>
<circle cx="537.4" cy="580.5" r="1.14" fill="#2a3af0"/>
<circle cx="552.5" cy="580.5" r="1.14" fill="#2a3af0"/>
<circle cx="567.5" cy="580.5" r="1.14" fill="#2a3af0"/>
<circle cx="582.6" cy="580.5" r="1.14" fill="#2a3af0"/>
<circle cx="597.7" cy="580.5" r="1.14" fill="#2a3af0"/>
<circle cx="612.8" cy="580.5" r="1.14" fill="#2a3af0"/>
<circle cx="627.8" cy="580.5" r="3.4979999999999998" fill="#d0d4f8"/>
<line x1="75.8" y1="597.5" x2="78.2" y2="597.5" stroke="#4d4d4d" stroke-width="0.7"/>
<text transform="translate(72.4,601.0) scale(1,1.08)" font-size="9.72" text-anchor="end" fill="#1e1e1e" font-weight="normal" >EVT</text>
<circle cx="85.3" cy="597.5" r="1.14" fill="#2a3af0"/>
<circle cx="100.4" cy="597.5" r="1.14" fill="#2a3af0"/>
<circle cx="115.4" cy="597.5" r="1.14" fill="#2a3af0"/>
<circle cx="130.5" cy="597.5" r="1.14" fill="#2a3af0"/>
<circle cx="145.6" cy="597.5" r="1.14" fill="#2a3af0"/>
<circle cx="160.6" cy="597.5" r="1.14" fill="#2a3af0"/>
<circle cx="175.7" cy="597.5" r="1.14" fill="#2a3af0"/>
<circle cx="190.8" cy="597.5" r="1.14" fill="#2a3af0"/>
<circle cx="205.9" cy="597.5" r="1.14" fill="#2a3af0"/>
<circle cx="220.9" cy="597.5" r="1.6960000000000002" fill="#3040f0"/>
<circle cx="236.0" cy="597.5" r="1.6960000000000002" fill="#3040f0"/>
<circle cx="251.1" cy="597.5" r="2.544" fill="#3040f0"/>
<circle cx="266.1" cy="597.5" r="2.014" fill="#6878f0"/>
<circle cx="281.2" cy="597.5" r="1.14" fill="#2a3af0"/>
<circle cx="296.3" cy="597.5" r="2.12" fill="#6878f0"/>
<circle cx="311.4" cy="597.5" r="4.24" fill="#7888f0"/>
<circle cx="326.4" cy="597.5" r="1.14" fill="#2a3af0"/>
<circle cx="341.5" cy="597.5" r="1.14" fill="#2a3af0"/>
<circle cx="356.6" cy="597.5" r="1.14" fill="#2a3af0"/>
<circle cx="371.6" cy="597.5" r="1.14" fill="#2a3af0"/>
<circle cx="386.7" cy="597.5" r="1.14" fill="#2a3af0"/>
<circle cx="401.8" cy="597.5" r="5.300000000000001" fill="#e8191c"/>
<circle cx="416.8" cy="597.5" r="5.300000000000001" fill="#e8191c"/>
<circle cx="431.9" cy="597.5" r="5.300000000000001" fill="#e8191c"/>
<circle cx="447.0" cy="597.5" r="1.6960000000000002" fill="#a0a8f0"/>
<circle cx="462.1" cy="597.5" r="5.300000000000001" fill="#b0b8f8"/>
<circle cx="477.1" cy="597.5" r="4.24" fill="#98a0f0"/>
<circle cx="492.2" cy="597.5" r="4.7700000000000005" fill="#f4f4fc"/>
<circle cx="507.3" cy="597.5" r="4.558" fill="#f0b0b8"/>
<circle cx="522.3" cy="597.5" r="5.300000000000001" fill="#f4e4e8"/>
<circle cx="537.4" cy="597.5" r="3.18" fill="#e8a0a8"/>
<circle cx="552.5" cy="597.5" r="4.8759999999999994" fill="#e88090"/>
<circle cx="567.5" cy="597.5" r="1.6960000000000002" fill="#4050f0"/>
<circle cx="582.6" cy="597.5" r="1.14" fill="#2a3af0"/>
<circle cx="597.7" cy="597.5" r="1.14" fill="#2a3af0"/>
<circle cx="612.8" cy="597.5" r="1.14" fill="#2a3af0"/>
<circle cx="627.8" cy="597.5" r="4.8759999999999994" fill="#b8c0f8"/>
<line x1="75.8" y1="614.5" x2="78.2" y2="614.5" stroke="#4d4d4d" stroke-width="0.7"/>
<text transform="translate(72.4,618.0) scale(1,1.08)" font-size="9.72" text-anchor="end" fill="#1e1e1e" font-weight="normal" >SCT</text>
<circle cx="85.3" cy="614.5" r="1.14" fill="#2a3af0"/>
<circle cx="100.4" cy="614.5" r="1.14" fill="#2a3af0"/>
<circle cx="115.4" cy="614.5" r="1.14" fill="#2a3af0"/>
<circle cx="130.5" cy="614.5" r="1.14" fill="#2a3af0"/>
<circle cx="145.6" cy="614.5" r="1.14" fill="#2a3af0"/>
<circle cx="160.6" cy="614.5" r="1.14" fill="#2a3af0"/>
<circle cx="175.7" cy="614.5" r="1.14" fill="#2a3af0"/>
<circle cx="190.8" cy="614.5" r="1.14" fill="#2a3af0"/>
<circle cx="205.9" cy="614.5" r="1.14" fill="#2a3af0"/>
<circle cx="220.9" cy="614.5" r="1.14" fill="#2a3af0"/>
<circle cx="236.0" cy="614.5" r="1.14" fill="#2a3af0"/>
<circle cx="251.1" cy="614.5" r="1.14" fill="#2a3af0"/>
<circle cx="266.1" cy="614.5" r="1.14" fill="#2a3af0"/>
<circle cx="281.2" cy="614.5" r="1.14" fill="#2a3af0"/>
<circle cx="296.3" cy="614.5" r="1.14" fill="#2a3af0"/>
<circle cx="311.4" cy="614.5" r="2.3320000000000003" fill="#1828f4"/>
<circle cx="326.4" cy="614.5" r="1.14" fill="#2a3af0"/>
<circle cx="341.5" cy="614.5" r="1.14" fill="#2a3af0"/>
<circle cx="356.6" cy="614.5" r="1.14" fill="#2a3af0"/>
<circle cx="371.6" cy="614.5" r="1.14" fill="#2a3af0"/>
<circle cx="386.7" cy="614.5" r="1.14" fill="#2a3af0"/>
<circle cx="401.8" cy="614.5" r="1.14" fill="#2a3af0"/>
<circle cx="416.8" cy="614.5" r="1.14" fill="#2a3af0"/>
<circle cx="431.9" cy="614.5" r="1.14" fill="#2a3af0"/>
<circle cx="447.0" cy="614.5" r="3.18" fill="#e82020"/>
<circle cx="462.1" cy="614.5" r="5.300000000000001" fill="#e8191c"/>
<circle cx="477.1" cy="614.5" r="5.300000000000001" fill="#e04860"/>
<circle cx="492.2" cy="614.5" r="5.300000000000001" fill="#e8a0a8"/>
<circle cx="507.3" cy="614.5" r="5.300000000000001" fill="#e8191c"/>
<circle cx="522.3" cy="614.5" r="5.300000000000001" fill="#e8191c"/>
<circle cx="537.4" cy="614.5" r="1.14" fill="#2a3af0"/>
<circle cx="552.5" cy="614.5" r="1.59" fill="#4050f0"/>
<circle cx="567.5" cy="614.5" r="1.14" fill="#2a3af0"/>
<circle cx="582.6" cy="614.5" r="1.14" fill="#2a3af0"/>
<circle cx="597.7" cy="614.5" r="1.14" fill="#2a3af0"/>
<circle cx="612.8" cy="614.5" r="1.14" fill="#2a3af0"/>
<circle cx="627.8" cy="614.5" r="3.604" fill="#a0a8f0"/>
<line x1="75.8" y1="631.6" x2="78.2" y2="631.6" stroke="#4d4d4d" stroke-width="0.7"/>
<text transform="translate(72.4,635.1) scale(1,1.08)" font-size="9.72" text-anchor="end" fill="#1e1e1e" font-weight="normal" >VCT</text>
<circle cx="85.3" cy="631.6" r="1.14" fill="#2a3af0"/>
<circle cx="100.4" cy="631.6" r="1.14" fill="#2a3af0"/>
<circle cx="115.4" cy="631.6" r="1.14" fill="#2a3af0"/>
<circle cx="130.5" cy="631.6" r="1.14" fill="#2a3af0"/>
<circle cx="145.6" cy="631.6" r="1.14" fill="#2a3af0"/>
<circle cx="160.6" cy="631.6" r="1.14" fill="#2a3af0"/>
<circle cx="175.7" cy="631.6" r="1.14" fill="#2a3af0"/>
<circle cx="190.8" cy="631.6" r="1.14" fill="#2a3af0"/>
<circle cx="205.9" cy="631.6" r="1.14" fill="#2a3af0"/>
<circle cx="220.9" cy="631.6" r="1.14" fill="#2a3af0"/>
<circle cx="236.0" cy="631.6" r="1.14" fill="#2a3af0"/>
<circle cx="251.1" cy="631.6" r="1.14" fill="#2a3af0"/>
<circle cx="266.1" cy="631.6" r="1.14" fill="#2a3af0"/>
<circle cx="281.2" cy="631.6" r="1.14" fill="#2a3af0"/>
<circle cx="296.3" cy="631.6" r="1.14" fill="#2a3af0"/>
<circle cx="311.4" cy="631.6" r="1.59" fill="#1020f0"/>
<circle cx="326.4" cy="631.6" r="1.14" fill="#2a3af0"/>
<circle cx="341.5" cy="631.6" r="1.14" fill="#2a3af0"/>
<circle cx="356.6" cy="631.6" r="1.14" fill="#2a3af0"/>
<circle cx="371.6" cy="631.6" r="1.14" fill="#2a3af0"/>
<circle cx="386.7" cy="631.6" r="1.14" fill="#2a3af0"/>
<circle cx="401.8" cy="631.6" r="3.18" fill="#4858f0"/>
<circle cx="416.8" cy="631.6" r="1.14" fill="#2a3af0"/>
<circle cx="431.9" cy="631.6" r="1.14" fill="#2a3af0"/>
<circle cx="447.0" cy="631.6" r="1.14" fill="#2a3af0"/>
<circle cx="462.1" cy="631.6" r="5.300000000000001" fill="#5060f0"/>
<circle cx="477.1" cy="631.6" r="3.18" fill="#6070f0"/>
<circle cx="492.2" cy="631.6" r="5.300000000000001" fill="#f0c8d0"/>
<circle cx="507.3" cy="631.6" r="5.300000000000001" fill="#e898a8"/>
<circle cx="522.3" cy="631.6" r="5.300000000000001" fill="#c0c8f8"/>
<circle cx="537.4" cy="631.6" r="5.300000000000001" fill="#e8191c"/>
<circle cx="552.5" cy="631.6" r="5.300000000000001" fill="#e8191c"/>
<circle cx="567.5" cy="631.6" r="1.14" fill="#2a3af0"/>
<circle cx="582.6" cy="631.6" r="1.14" fill="#2a3af0"/>
<circle cx="597.7" cy="631.6" r="1.14" fill="#2a3af0"/>
<circle cx="612.8" cy="631.6" r="1.14" fill="#2a3af0"/>
<circle cx="627.8" cy="631.6" r="3.4979999999999998" fill="#6878f0"/>
<line x1="75.8" y1="648.6" x2="78.2" y2="648.6" stroke="#4d4d4d" stroke-width="0.7"/>
<text transform="translate(72.4,652.1) scale(1,1.08)" font-size="9.72" text-anchor="end" fill="#1e1e1e" font-weight="normal" >VCT_fusing</text>
<circle cx="85.3" cy="648.6" r="1.14" fill="#2a3af0"/>
<circle cx="100.4" cy="648.6" r="1.14" fill="#2a3af0"/>
<circle cx="115.4" cy="648.6" r="1.14" fill="#2a3af0"/>
<circle cx="130.5" cy="648.6" r="1.14" fill="#2a3af0"/>
<circle cx="145.6" cy="648.6" r="1.14" fill="#2a3af0"/>
<circle cx="160.6" cy="648.6" r="1.14" fill="#2a3af0"/>
<circle cx="175.7" cy="648.6" r="1.14" fill="#2a3af0"/>
<circle cx="190.8" cy="648.6" r="1.14" fill="#2a3af0"/>
<circle cx="205.9" cy="648.6" r="1.14" fill="#2a3af0"/>
<circle cx="220.9" cy="648.6" r="1.14" fill="#2a3af0"/>
<circle cx="236.0" cy="648.6" r="1.14" fill="#2a3af0"/>
<circle cx="251.1" cy="648.6" r="1.14" fill="#2a3af0"/>
<circle cx="266.1" cy="648.6" r="1.14" fill="#2a3af0"/>
<circle cx="281.2" cy="648.6" r="1.14" fill="#2a3af0"/>
<circle cx="296.3" cy="648.6" r="1.14" fill="#2a3af0"/>
<circle cx="311.4" cy="648.6" r="1.6960000000000002" fill="#1020f0"/>
<circle cx="326.4" cy="648.6" r="1.14" fill="#2a3af0"/>
<circle cx="341.5" cy="648.6" r="1.14" fill="#2a3af0"/>
<circle cx="356.6" cy="648.6" r="1.14" fill="#2a3af0"/>
<circle cx="371.6" cy="648.6" r="1.14" fill="#2a3af0"/>
<circle cx="386.7" cy="648.6" r="1.14" fill="#2a3af0"/>
<circle cx="401.8" cy="648.6" r="3.18" fill="#4050f0"/>
<circle cx="416.8" cy="648.6" r="1.14" fill="#2a3af0"/>
<circle cx="431.9" cy="648.6" r="1.14" fill="#2a3af0"/>
<circle cx="447.0" cy="648.6" r="1.14" fill="#2a3af0"/>
<circle cx="462.1" cy="648.6" r="5.300000000000001" fill="#e8191c"/>
<circle cx="477.1" cy="648.6" r="5.300000000000001" fill="#e8191c"/>
<circle cx="492.2" cy="648.6" r="5.300000000000001" fill="#e8191c"/>
<circle cx="507.3" cy="648.6" r="5.300000000000001" fill="#e8191c"/>
<circle cx="522.3" cy="648.6" r="3.4979999999999998" fill="#2030f8"/>
<circle cx="537.4" cy="648.6" r="3.18" fill="#e8ecf8"/>
<circle cx="552.5" cy="648.6" r="5.300000000000001" fill="#f0c0c8"/>
<circle cx="567.5" cy="648.6" r="5.300000000000001" fill="#e8191c"/>
<circle cx="582.6" cy="648.6" r="4.24" fill="#e8191c"/>
<circle cx="597.7" cy="648.6" r="1.14" fill="#2a3af0"/>
<circle cx="612.8" cy="648.6" r="1.14" fill="#2a3af0"/>
<circle cx="627.8" cy="648.6" r="2.8620000000000005" fill="#3040f0"/>
<line x1="75.8" y1="665.6" x2="78.2" y2="665.6" stroke="#4d4d4d" stroke-width="0.7"/>
<text transform="translate(72.4,669.1) scale(1,1.08)" font-size="9.72" text-anchor="end" fill="#1e1e1e" font-weight="normal" >VCT_Cycling</text>
<circle cx="85.3" cy="665.6" r="1.14" fill="#2a3af0"/>
<circle cx="100.4" cy="665.6" r="1.14" fill="#2a3af0"/>
<circle cx="115.4" cy="665.6" r="1.14" fill="#2a3af0"/>
<circle cx="130.5" cy="665.6" r="1.14" fill="#2a3af0"/>
<circle cx="145.6" cy="665.6" r="1.14" fill="#2a3af0"/>
<circle cx="160.6" cy="665.6" r="1.14" fill="#2a3af0"/>
<circle cx="175.7" cy="665.6" r="1.14" fill="#2a3af0"/>
<circle cx="190.8" cy="665.6" r="1.14" fill="#2a3af0"/>
<circle cx="205.9" cy="665.6" r="1.14" fill="#2a3af0"/>
<circle cx="220.9" cy="665.6" r="1.14" fill="#2a3af0"/>
<circle cx="236.0" cy="665.6" r="1.14" fill="#2a3af0"/>
<circle cx="251.1" cy="665.6" r="1.14" fill="#2a3af0"/>
<circle cx="266.1" cy="665.6" r="1.14" fill="#2a3af0"/>
<circle cx="281.2" cy="665.6" r="1.14" fill="#2a3af0"/>
<circle cx="296.3" cy="665.6" r="1.14" fill="#2a3af0"/>
<circle cx="311.4" cy="665.6" r="1.14" fill="#2a3af0"/>
<circle cx="326.4" cy="665.6" r="1.14" fill="#2a3af0"/>
<circle cx="341.5" cy="665.6" r="1.14" fill="#2a3af0"/>
<circle cx="356.6" cy="665.6" r="1.14" fill="#2a3af0"/>
<circle cx="371.6" cy="665.6" r="1.14" fill="#2a3af0"/>
<circle cx="386.7" cy="665.6" r="1.14" fill="#2a3af0"/>
<circle cx="401.8" cy="665.6" r="3.4979999999999998" fill="#6878f0"/>
<circle cx="416.8" cy="665.6" r="1.14" fill="#2a3af0"/>
<circle cx="431.9" cy="665.6" r="1.14" fill="#2a3af0"/>
<circle cx="447.0" cy="665.6" r="1.14" fill="#2a3af0"/>
<circle cx="462.1" cy="665.6" r="5.300000000000001" fill="#6070f0"/>
<circle cx="477.1" cy="665.6" r="2.12" fill="#1020f0"/>
<circle cx="492.2" cy="665.6" r="5.300000000000001" fill="#e0e4f8"/>
<circle cx="507.3" cy="665.6" r="4.7700000000000005" fill="#f4e0e4"/>
<circle cx="522.3" cy="665.6" r="5.300000000000001" fill="#e8191c"/>
<circle cx="537.4" cy="665.6" r="3.4979999999999998" fill="#f0c0c8"/>
<circle cx="552.5" cy="665.6" r="4.8759999999999994" fill="#e87888"/>
<circle cx="567.5" cy="665.6" r="1.14" fill="#2a3af0"/>
<circle cx="582.6" cy="665.6" r="1.14" fill="#2a3af0"/>
<circle cx="597.7" cy="665.6" r="4.028" fill="#e8191c"/>
<circle cx="612.8" cy="665.6" r="5.300000000000001" fill="#e8191c"/>
<circle cx="627.8" cy="665.6" r="5.300000000000001" fill="#e8191c"/>
<text x="649.9" y="478.5" font-size="8.6" text-anchor="start" fill="#222" font-weight="normal" >Pct1</text>
<circle cx="652" cy="487.8" r="4.5" fill="#222"/>
<circle cx="652" cy="499.5" r="3.7" fill="#222"/>
<circle cx="652" cy="511.3" r="3.1" fill="#222"/>
<circle cx="652" cy="522.9" r="2.3" fill="#222"/>
<circle cx="652" cy="534.9" r="1.1" fill="#222"/>
<text x="659.6" y="490.8" font-size="8.4" text-anchor="start" fill="#222" font-weight="normal" >0.5</text>
<text x="659.2" y="537.9" font-size="8.4" text-anchor="start" fill="#222" font-weight="normal" >0</text>
<text x="642.2" y="554.0" font-size="8.6" text-anchor="start" fill="#222" font-weight="normal" >Avg Exp</text>
<linearGradient id="ge" x1="0" y1="0" x2="0" y2="1"><stop offset="0" stop-color="#e8191c"/><stop offset="0.5" stop-color="#ffffff"/><stop offset="1" stop-color="#0000ff"/></linearGradient>
<rect x="642.2" y="559.5" width="13.3" height="66.1" fill="url(#ge)"/>
<text x="657.0" y="568.7" font-size="8.4" text-anchor="start" fill="#222" font-weight="normal" >1</text>
<text x="657.0" y="624.4" font-size="8.4" text-anchor="start" fill="#222" font-weight="normal" >0</text>
<text x="11.5" y="699.4" font-size="20" text-anchor="start" fill="#000" font-weight="normal" >E</text>
<path d="M78.2,693.6 V831.3 H265.1" fill="none" stroke="#333" stroke-width="0.8"/>
<rect x="86.80" y="702.8" width="3.75" height="56.1" fill="#7360d2"/>
<rect x="90.55" y="702.8" width="7.51" height="56.1" fill="#6088e6"/>
<rect x="98.06" y="702.8" width="6.14" height="56.1" fill="#e88a30"/>
<rect x="104.20" y="702.8" width="2.90" height="56.1" fill="#8a40f4"/>
<rect x="107.10" y="702.8" width="1.02" height="56.1" fill="#5ad8dc"/>
<rect x="108.12" y="702.8" width="2.73" height="56.1" fill="#58d288"/>
<rect x="110.85" y="702.8" width="113.28" height="56.1" fill="#eec89c"/>
<rect x="224.13" y="702.8" width="19.62" height="56.1" fill="#f840a0"/>
<rect x="243.75" y="702.8" width="13.65" height="56.1" fill="#7cffba"/>
<rect x="86.80" y="765.6" width="2.56" height="56.6" fill="#86aede"/>
<rect x="89.36" y="765.6" width="9.89" height="56.6" fill="#6088e6"/>
<rect x="99.25" y="765.6" width="16.55" height="56.6" fill="#e88a30"/>
<rect x="115.80" y="765.6" width="11.43" height="56.6" fill="#8a40f4"/>
<rect x="127.23" y="765.6" width="3.41" height="56.6" fill="#f85a2a"/>
<rect x="130.64" y="765.6" width="2.56" height="56.6" fill="#4a9cf4"/>
<rect x="133.20" y="765.6" width="12.45" height="56.6" fill="#58d288"/>
<rect x="145.66" y="765.6" width="64.49" height="56.6" fill="#eec89c"/>
<rect x="210.14" y="765.6" width="39.92" height="56.6" fill="#f840a0"/>
<rect x="250.06" y="765.6" width="7.34" height="56.6" fill="#7cffba"/>
<line x1="76" y1="730.9" x2="78.2" y2="730.9" stroke="#333" stroke-width="0.6"/>
<text x="74.5" y="733.4" font-size="6.85" text-anchor="end" fill="#222" font-weight="normal" >sFGR_Larger</text>
<line x1="76" y1="793.9" x2="78.2" y2="793.9" stroke="#333" stroke-width="0.6"/>
<text x="74.5" y="796.4" font-size="6.85" text-anchor="end" fill="#222" font-weight="normal" >sFGR_Smaller</text>
<line x1="86.8" y1="831.3" x2="86.8" y2="833.5" stroke="#333" stroke-width="0.6"/>
<text x="86.8" y="840.6" font-size="7.9" text-anchor="middle" fill="#222" font-weight="normal" >0.00</text>
<line x1="129.4" y1="831.3" x2="129.4" y2="833.5" stroke="#333" stroke-width="0.6"/>
<text x="129.4" y="840.6" font-size="7.9" text-anchor="middle" fill="#222" font-weight="normal" >0.25</text>
<line x1="172.1" y1="831.3" x2="172.1" y2="833.5" stroke="#333" stroke-width="0.6"/>
<text x="172.1" y="840.6" font-size="7.9" text-anchor="middle" fill="#222" font-weight="normal" >0.50</text>
<line x1="214.8" y1="831.3" x2="214.8" y2="833.5" stroke="#333" stroke-width="0.6"/>
<text x="214.8" y="840.6" font-size="7.9" text-anchor="middle" fill="#222" font-weight="normal" >0.75</text>
<line x1="257.4" y1="831.3" x2="257.4" y2="833.5" stroke="#333" stroke-width="0.6"/>
<text x="257.4" y="840.6" font-size="7.9" text-anchor="middle" fill="#222" font-weight="normal" >1.00</text>
<text x="275.0" y="706.8" font-size="7.4" text-anchor="start" fill="#222" font-weight="normal" >Cluster</text>
<rect x="275.3" y="710.8" width="8.6" height="8.1" fill="#86aede"/>
<text x="287.6" y="717.6" font-size="7.4" text-anchor="start" fill="#222" font-weight="normal" >B</text>
<rect x="275.3" y="720.3" width="8.6" height="8.1" fill="#7360d2"/>
<text x="287.6" y="727.1" font-size="7.4" text-anchor="start" fill="#222" font-weight="normal" >EVT</text>
<rect x="275.3" y="729.7" width="8.6" height="8.1" fill="#6088e6"/>
<text x="287.6" y="736.5" font-size="7.4" text-anchor="start" fill="#222" font-weight="normal" >Hofbauer</text>
<rect x="275.3" y="739.2" width="8.6" height="8.1" fill="#e88a30"/>
<text x="287.6" y="746.0" font-size="7.4" text-anchor="start" fill="#222" font-weight="normal" >Monocyte</text>
<rect x="275.3" y="748.7" width="8.6" height="8.1" fill="#8a40f4"/>
<text x="287.6" y="755.5" font-size="7.4" text-anchor="start" fill="#222" font-weight="normal" >Neutrophil</text>
<rect x="275.3" y="758.1" width="8.6" height="8.1" fill="#f85a2a"/>
<text x="287.6" y="764.9" font-size="7.4" text-anchor="start" fill="#222" font-weight="normal" >NK</text>
<rect x="275.3" y="767.6" width="8.6" height="8.1" fill="#4a9cf4"/>
<text x="287.6" y="774.4" font-size="7.4" text-anchor="start" fill="#222" font-weight="normal" >SCT</text>
<rect x="275.3" y="777.1" width="8.6" height="8.1" fill="#5ad8dc"/>
<text x="287.6" y="783.9" font-size="7.4" text-anchor="start" fill="#222" font-weight="normal" >Stromal</text>
<rect x="275.3" y="786.6" width="8.6" height="8.1" fill="#58d288"/>
<text x="287.6" y="793.4" font-size="7.4" text-anchor="start" fill="#222" font-weight="normal" >T</text>
<rect x="275.3" y="796.0" width="8.6" height="8.1" fill="#eec89c"/>
<text x="287.6" y="802.8" font-size="7.4" text-anchor="start" fill="#222" font-weight="normal" >VCT</text>
<rect x="275.3" y="805.5" width="8.6" height="8.1" fill="#f840a0"/>
<text x="287.6" y="812.3" font-size="7.4" text-anchor="start" fill="#222" font-weight="normal" >VCT_Cycling</text>
<rect x="275.3" y="815.0" width="8.6" height="8.1" fill="#7cffba"/>
<text x="287.6" y="821.8" font-size="7.4" text-anchor="start" fill="#222" font-weight="normal" >VCT_fusing</text>
<text x="332.0" y="699.4" font-size="20" text-anchor="start" fill="#000" font-weight="normal" >F</text>
<rect x="422.5" y="719.1999999999999" width="17.32" height="19.9" fill="#d6d6f6"/>
<circle cx="431.2" cy="725.9" r="0.85" fill="#222"/>
<circle cx="431.2" cy="728.9" r="0.85" fill="#222"/>
<circle cx="431.2" cy="731.9" r="0.85" fill="#222"/>
<rect x="422.5" y="739.5999999999999" width="17.32" height="19.9" fill="#e88890"/>
<circle cx="431.2" cy="746.3" r="0.85" fill="#222"/>
<circle cx="431.2" cy="749.3" r="0.85" fill="#222"/>
<circle cx="431.2" cy="752.3" r="0.85" fill="#222"/>
<text x="425.2" y="766" font-size="12.2" fill="#2a2a2a" transform="rotate(90 425.2 766)">VCT_Cycling</text>
<rect x="440.6" y="719.1999999999999" width="17.32" height="19.9" fill="#f4dadc"/>
<circle cx="449.3" cy="725.9" r="0.85" fill="#222"/>
<circle cx="449.3" cy="728.9" r="0.85" fill="#222"/>
<circle cx="449.3" cy="731.9" r="0.85" fill="#222"/>
<rect x="440.6" y="739.5999999999999" width="17.32" height="19.9" fill="#c0c0f0"/>
<circle cx="449.3" cy="746.3" r="0.85" fill="#222"/>
<circle cx="449.3" cy="749.3" r="0.85" fill="#222"/>
<circle cx="449.3" cy="752.3" r="0.85" fill="#222"/>
<text x="443.3" y="766" font-size="12.2" fill="#2a2a2a" transform="rotate(90 443.3 766)">VCT_fusing</text>
<rect x="458.8" y="719.1999999999999" width="17.32" height="19.9" fill="#f4d8dc"/>
<circle cx="467.4" cy="725.9" r="0.85" fill="#222"/>
<circle cx="467.4" cy="728.9" r="0.85" fill="#222"/>
<circle cx="467.4" cy="731.9" r="0.85" fill="#222"/>
<rect x="458.8" y="739.5999999999999" width="17.32" height="19.9" fill="#c8c8f0"/>
<circle cx="467.4" cy="746.3" r="0.85" fill="#222"/>
<circle cx="467.4" cy="749.3" r="0.85" fill="#222"/>
<circle cx="467.4" cy="752.3" r="0.85" fill="#222"/>
<text x="461.4" y="766" font-size="12.2" fill="#2a2a2a" transform="rotate(90 461.4 766)">VCT</text>
<rect x="476.9" y="719.1999999999999" width="17.32" height="19.9" fill="#7272ea"/>
<circle cx="485.5" cy="725.9" r="0.85" fill="#222"/>
<circle cx="485.5" cy="728.9" r="0.85" fill="#222"/>
<circle cx="485.5" cy="731.9" r="0.85" fill="#222"/>
<rect x="476.9" y="739.5999999999999" width="17.32" height="19.9" fill="#f41e2e"/>
<circle cx="485.5" cy="746.3" r="0.85" fill="#222"/>
<circle cx="485.5" cy="749.3" r="0.85" fill="#222"/>
<circle cx="485.5" cy="752.3" r="0.85" fill="#222"/>
<text x="479.5" y="766" font-size="12.2" fill="#2a2a2a" transform="rotate(90 479.5 766)">SCT</text>
<rect x="495.0" y="719.1999999999999" width="17.32" height="19.9" fill="#f4d4d8"/>
<circle cx="503.7" cy="725.9" r="0.85" fill="#222"/>
<circle cx="503.7" cy="728.9" r="0.85" fill="#222"/>
<circle cx="503.7" cy="731.9" r="0.85" fill="#222"/>
<rect x="495.0" y="739.5999999999999" width="17.32" height="19.9" fill="#b0b0ec"/>
<circle cx="503.7" cy="746.3" r="0.85" fill="#222"/>
<circle cx="503.7" cy="749.3" r="0.85" fill="#222"/>
<circle cx="503.7" cy="752.3" r="0.85" fill="#222"/>
<text x="497.7" y="766" font-size="12.2" fill="#2a2a2a" transform="rotate(90 497.7 766)">EVT</text>
<rect x="513.1" y="719.1999999999999" width="17.32" height="19.9" fill="#f2d2d6"/>
<circle cx="521.8" cy="725.9" r="0.85" fill="#222"/>
<circle cx="521.8" cy="728.9" r="0.85" fill="#222"/>
<circle cx="521.8" cy="731.9" r="0.85" fill="#222"/>
<rect x="513.1" y="739.5999999999999" width="17.32" height="19.9" fill="#b4b4ec"/>
<circle cx="521.8" cy="746.3" r="0.85" fill="#222"/>
<circle cx="521.8" cy="749.3" r="0.85" fill="#222"/>
<circle cx="521.8" cy="752.3" r="0.85" fill="#222"/>
<text x="515.8" y="766" font-size="12.2" fill="#2a2a2a" transform="rotate(90 515.8 766)">Stromal</text>
<rect x="531.2" y="719.1999999999999" width="17.32" height="19.9" fill="#9696ea"/>
<circle cx="539.9" cy="725.9" r="0.85" fill="#222"/>
<circle cx="539.9" cy="728.9" r="0.85" fill="#222"/>
<circle cx="539.9" cy="731.9" r="0.85" fill="#222"/>
<rect x="531.2" y="739.5999999999999" width="17.32" height="19.9" fill="#f42434"/>
<circle cx="539.9" cy="746.3" r="0.85" fill="#222"/>
<circle cx="539.9" cy="749.3" r="0.85" fill="#222"/>
<circle cx="539.9" cy="752.3" r="0.85" fill="#222"/>
<text x="533.9" y="766" font-size="12.2" fill="#2a2a2a" transform="rotate(90 533.9 766)">Neutrophil</text>
<rect x="549.4" y="719.1999999999999" width="17.32" height="19.9" fill="#f0eef8"/>
<circle cx="558.0" cy="725.9" r="0.85" fill="#222"/>
<circle cx="558.0" cy="728.9" r="0.85" fill="#222"/>
<circle cx="558.0" cy="731.9" r="0.85" fill="#222"/>
<rect x="549.4" y="739.5999999999999" width="17.32" height="19.9" fill="#f4dcdc"/>
<circle cx="558.0" cy="746.3" r="0.85" fill="#222"/>
<circle cx="558.0" cy="749.3" r="0.85" fill="#222"/>
<circle cx="558.0" cy="752.3" r="0.85" fill="#222"/>
<text x="552.0" y="766" font-size="12.2" fill="#2a2a2a" transform="rotate(90 552.0 766)">Hofbauer</text>
<rect x="567.5" y="719.1999999999999" width="17.32" height="19.9" fill="#c8c8f2"/>
<circle cx="576.2" cy="725.9" r="0.85" fill="#222"/>
<circle cx="576.2" cy="728.9" r="0.85" fill="#222"/>
<circle cx="576.2" cy="731.9" r="0.85" fill="#222"/>
<rect x="567.5" y="739.5999999999999" width="17.32" height="19.9" fill="#ea5c6c"/>
<circle cx="576.2" cy="746.3" r="0.85" fill="#222"/>
<circle cx="576.2" cy="749.3" r="0.85" fill="#222"/>
<circle cx="576.2" cy="752.3" r="0.85" fill="#222"/>
<text x="570.2" y="766" font-size="12.2" fill="#2a2a2a" transform="rotate(90 570.2 766)">Monocyte</text>
<rect x="585.6" y="719.1999999999999" width="17.32" height="19.9" fill="#bebef2"/>
<circle cx="594.3" cy="725.9" r="0.85" fill="#222"/>
<circle cx="594.3" cy="728.9" r="0.85" fill="#222"/>
<circle cx="594.3" cy="731.9" r="0.85" fill="#222"/>
<rect x="585.6" y="739.5999999999999" width="17.32" height="19.9" fill="#ee4052"/>
<circle cx="594.3" cy="746.3" r="0.85" fill="#222"/>
<circle cx="594.3" cy="749.3" r="0.85" fill="#222"/>
<circle cx="594.3" cy="752.3" r="0.85" fill="#222"/>
<text x="588.3" y="766" font-size="12.2" fill="#2a2a2a" transform="rotate(90 588.3 766)">B</text>
<rect x="603.8" y="719.1999999999999" width="17.32" height="19.9" fill="#b6b6ee"/>
<circle cx="612.4" cy="725.9" r="0.85" fill="#222"/>
<circle cx="612.4" cy="728.9" r="0.85" fill="#222"/>
<circle cx="612.4" cy="731.9" r="0.85" fill="#222"/>
<rect x="603.8" y="739.5999999999999" width="17.32" height="19.9" fill="#f62e40"/>
<circle cx="612.4" cy="746.3" r="0.85" fill="#222"/>
<circle cx="612.4" cy="749.3" r="0.85" fill="#222"/>
<circle cx="612.4" cy="752.3" r="0.85" fill="#222"/>
<text x="606.4" y="766" font-size="12.2" fill="#2a2a2a" transform="rotate(90 606.4 766)">NK</text>
<rect x="621.9" y="719.1999999999999" width="17.32" height="19.9" fill="#8c8cea"/>
<circle cx="630.5" cy="725.9" r="0.85" fill="#222"/>
<circle cx="630.5" cy="728.9" r="0.85" fill="#222"/>
<circle cx="630.5" cy="731.9" r="0.85" fill="#222"/>
<rect x="621.9" y="739.5999999999999" width="17.32" height="19.9" fill="#fa1e2e"/>
<circle cx="630.5" cy="746.3" r="0.85" fill="#222"/>
<circle cx="630.5" cy="749.3" r="0.85" fill="#222"/>
<circle cx="630.5" cy="752.3" r="0.85" fill="#222"/>
<text x="624.5" y="766" font-size="12.2" fill="#2a2a2a" transform="rotate(90 624.5 766)">T</text>
<text x="413.6" y="727.5" font-size="11.0" text-anchor="end" fill="#2a2a2a" font-weight="normal" >sFGR_Larger</text>
<text x="412.6" y="749.7" font-size="11.0" text-anchor="end" fill="#2a2a2a" font-weight="normal" >sFGR_Smaller</text>
<text x="661.5" y="695.0" font-size="7.4" text-anchor="start" fill="#222" font-weight="normal" >Ro/e</text>
<linearGradient id="gf" x1="0" y1="0" x2="0" y2="1"><stop offset="0" stop-color="#ee2030"/><stop offset="0.5" stop-color="#ffffff"/><stop offset="1" stop-color="#5050e8"/></linearGradient>
<rect x="661.2" y="704.8" width="10.8" height="69.7" fill="url(#gf)"/>
<text x="675.5" y="709.4" font-size="8.6" text-anchor="start" fill="#222" font-weight="normal" >2</text>
<text x="675.5" y="743.2" font-size="8.6" text-anchor="start" fill="#222" font-weight="normal" >1</text>
<text x="675.5" y="776.4" font-size="8.6" text-anchor="start" fill="#222" font-weight="normal" >0</text>
<text x="4.0" y="876.1" font-size="18.8" text-anchor="start" fill="#000" font-weight="normal" >G</text>
<text x="110.8" y="874.2" font-size="12.4" text-anchor="middle" fill="#111" font-weight="normal" >VCT</text>
<path d="M67.6,893.6 V980.9 H176.3" fill="none" stroke="#333" stroke-width="0.8"/>
<line x1="65.39999999999999" y1="977.5" x2="67.6" y2="977.5" stroke="#333" stroke-width="0.7"/>
<text x="64.2" y="981.3" font-size="11" text-anchor="end" fill="#4d4d4d" font-weight="normal" >0.00</text>
<line x1="65.39999999999999" y1="954.6" x2="67.6" y2="954.6" stroke="#333" stroke-width="0.7"/>
<text x="64.2" y="958.4" font-size="11" text-anchor="end" fill="#4d4d4d" font-weight="normal" >0.25</text>
<line x1="65.39999999999999" y1="931.7" x2="67.6" y2="931.7" stroke="#333" stroke-width="0.7"/>
<text x="64.2" y="935.5" font-size="11" text-anchor="end" fill="#4d4d4d" font-weight="normal" >0.50</text>
<line x1="65.39999999999999" y1="908.9" x2="67.6" y2="908.9" stroke="#333" stroke-width="0.7"/>
<text x="64.2" y="912.7" font-size="11" text-anchor="end" fill="#4d4d4d" font-weight="normal" >0.75</text>
<rect x="81.6" y="910.4" width="30.2" height="67.1" fill="#8fd0fa"/>
<rect x="131" y="927.2" width="30.2" height="50.3" fill="#e8c190"/>
<line x1="96.7" y1="980.9" x2="96.7" y2="983.1" stroke="#333" stroke-width="0.7"/>
<line x1="146.1" y1="980.9" x2="146.1" y2="983.1" stroke="#333" stroke-width="0.7"/>
<line x1="96.7" y1="907.7" x2="146.4" y2="928.2" stroke="#8ee6cc" stroke-width="1.1"/>
<circle cx="96.7" cy="907.7" r="2" fill="#8ee6cc"/><circle cx="146.4" cy="928.2" r="2" fill="#8ee6cc"/>
<line x1="96.7" y1="917" x2="146.4" y2="928.8" stroke="#7a5ccc" stroke-width="1.1"/>
<circle cx="96.7" cy="917" r="2" fill="#7a5ccc"/><circle cx="146.4" cy="928.8" r="2" fill="#7a5ccc"/>
<line x1="96.7" y1="904.7" x2="146.4" y2="924.5" stroke="#e8896a" stroke-width="1.1"/>
<circle cx="96.7" cy="904.7" r="2" fill="#e8896a"/><circle cx="146.4" cy="924.5" r="2" fill="#e8896a"/>
<path d="M96.7,900.8 V898.8 H146.4 V900.8" fill="none" stroke="#666" stroke-width="0.6"/>
<text x="121.5" y="900.2" font-size="6.5" text-anchor="middle" fill="#333" font-weight="normal" >*</text>
<text x="41.0" y="937.2" font-size="11.5" text-anchor="middle" fill="#111" transform="rotate(-90 41.0 937.2)">mean_proportion</text>
<text x="101.3" y="990" font-size="10.8" text-anchor="end" fill="#222" transform="rotate(-59 101.3 990)">sFGR_Larger</text>
<text x="150.5" y="990" font-size="10.8" text-anchor="end" fill="#222" transform="rotate(-59 150.5 990)">sFGR_Smaller</text>
<text x="183.8" y="927.9" font-size="11.2" text-anchor="start" fill="#111" font-weight="normal" >sample</text>
<line x1="184.2" y1="936.0" x2="190.7" y2="936.0" stroke="#e8896a" stroke-width="1.1"/><circle cx="187.4" cy="936.0" r="1.9" fill="#e8896a"/>
<text x="194.1" y="939.1" font-size="8.6" text-anchor="start" fill="#222" font-weight="normal" >SC01</text>
<line x1="184.2" y1="944.3" x2="190.7" y2="944.3" stroke="#8ee6cc" stroke-width="1.1"/><circle cx="187.4" cy="944.3" r="1.9" fill="#8ee6cc"/>
<text x="194.1" y="947.4" font-size="8.6" text-anchor="start" fill="#222" font-weight="normal" >SC03</text>
<line x1="184.2" y1="952.5" x2="190.7" y2="952.5" stroke="#7a5ccc" stroke-width="1.1"/><circle cx="187.4" cy="952.5" r="1.9" fill="#7a5ccc"/>
<text x="194.1" y="955.6" font-size="8.6" text-anchor="start" fill="#222" font-weight="normal" >SC06</text>
<text x="234.0" y="875.6" font-size="18.0" text-anchor="start" fill="#000" font-weight="normal" >H</text>
<text x="333.2" y="874.5" font-size="13.0" text-anchor="middle" fill="#111" font-weight="normal" >VCT_Cycling</text>
<path d="M280.4,894.6 V980.9 H395.6" fill="none" stroke="#333" stroke-width="0.8"/>
<line x1="278.2" y1="977.5" x2="280.4" y2="977.5" stroke="#333" stroke-width="0.7"/>
<text x="277.0" y="981.3" font-size="11" text-anchor="end" fill="#4d4d4d" font-weight="normal" >0.0</text>
<line x1="278.2" y1="959.7" x2="280.4" y2="959.7" stroke="#333" stroke-width="0.7"/>
<text x="277.0" y="963.5" font-size="11" text-anchor="end" fill="#4d4d4d" font-weight="normal" >0.1</text>
<line x1="278.2" y1="941.8" x2="280.4" y2="941.8" stroke="#333" stroke-width="0.7"/>
<text x="277.0" y="945.6" font-size="11" text-anchor="end" fill="#4d4d4d" font-weight="normal" >0.2</text>
<line x1="278.2" y1="923.9" x2="280.4" y2="923.9" stroke="#333" stroke-width="0.7"/>
<text x="277.0" y="927.7" font-size="11" text-anchor="end" fill="#4d4d4d" font-weight="normal" >0.3</text>
<line x1="278.2" y1="906.0" x2="280.4" y2="906.0" stroke="#333" stroke-width="0.7"/>
<text x="277.0" y="909.8" font-size="11" text-anchor="end" fill="#4d4d4d" font-weight="normal" >0.4</text>
<rect x="295.5" y="954" width="31.9" height="23.5" fill="#8fd0fa"/>
<rect x="348.6" y="917" width="30.9" height="60.5" fill="#e8c190"/>
<line x1="311.4" y1="980.9" x2="311.4" y2="983.1" stroke="#333" stroke-width="0.7"/>
<line x1="364.1" y1="980.9" x2="364.1" y2="983.1" stroke="#333" stroke-width="0.7"/>
<line x1="311.6" y1="953" x2="363.7" y2="919.8" stroke="#8ee6cc" stroke-width="1.1"/>
<circle cx="311.6" cy="953" r="2" fill="#8ee6cc"/><circle cx="363.7" cy="919.8" r="2" fill="#8ee6cc"/>
<line x1="311.6" y1="951.7" x2="363.7" y2="919.8" stroke="#7a5ccc" stroke-width="1.1"/>
<circle cx="311.6" cy="951.7" r="2" fill="#7a5ccc"/><circle cx="363.7" cy="919.8" r="2" fill="#7a5ccc"/>
<line x1="311.6" y1="952.3" x2="363.7" y2="912" stroke="#e8896a" stroke-width="1.1"/>
<circle cx="311.6" cy="952.3" r="2" fill="#e8896a"/><circle cx="363.7" cy="912" r="2" fill="#e8896a"/>
<path d="M311.6,900.3 V898.3 H363.7 V900.3" fill="none" stroke="#666" stroke-width="0.6"/>
<text x="337.6" y="899.6" font-size="6.5" text-anchor="middle" fill="#333" font-weight="normal" >**</text>
<text x="259.6" y="937.2" font-size="11.5" text-anchor="middle" fill="#111" transform="rotate(-90 259.6 937.2)">mean_proportion</text>
<text x="316.2" y="990" font-size="10.8" text-anchor="end" fill="#222" transform="rotate(-59 316.2 990)">sFGR_Larger</text>
<text x="368.6" y="990" font-size="10.8" text-anchor="end" fill="#222" transform="rotate(-59 368.6 990)">sFGR_Smaller</text>
<text x="403.4" y="927.4" font-size="11.4" text-anchor="start" fill="#111" font-weight="normal" >sample</text>
<line x1="403.4" y1="935.5" x2="409.8" y2="935.5" stroke="#e8896a" stroke-width="1.1"/><circle cx="406.6" cy="935.5" r="1.9" fill="#e8896a"/>
<text x="413.0" y="938.7" font-size="9.0" text-anchor="start" fill="#222" font-weight="normal" >SC01</text>
<line x1="403.4" y1="943.5" x2="409.8" y2="943.5" stroke="#8ee6cc" stroke-width="1.1"/><circle cx="406.6" cy="943.5" r="1.9" fill="#8ee6cc"/>
<text x="413.0" y="946.7" font-size="9.0" text-anchor="start" fill="#222" font-weight="normal" >SC03</text>
<line x1="403.4" y1="952.2" x2="409.8" y2="952.2" stroke="#7a5ccc" stroke-width="1.1"/><circle cx="406.6" cy="952.2" r="1.9" fill="#7a5ccc"/>
<text x="413.0" y="955.4" font-size="9.0" text-anchor="start" fill="#222" font-weight="normal" >SC06</text>
<text x="455.2" y="875.3" font-size="16.0" text-anchor="start" fill="#000" font-weight="normal" >I</text>
<text x="565.0" y="874.4" font-size="12.8" text-anchor="middle" fill="#111" font-weight="normal" >VCT_Fusing</text>
<path d="M498,888.5 V984.2 H617.9" fill="none" stroke="#333" stroke-width="0.8"/>
<line x1="495.8" y1="979.9" x2="498" y2="979.9" stroke="#333" stroke-width="0.7"/>
<text x="494.6" y="984.4" font-size="12.5" text-anchor="end" fill="#4d4d4d" font-weight="normal" >0.00</text>
<line x1="495.8" y1="953.0" x2="498" y2="953.0" stroke="#333" stroke-width="0.7"/>
<text x="494.6" y="957.5" font-size="12.5" text-anchor="end" fill="#4d4d4d" font-weight="normal" >0.05</text>
<line x1="495.8" y1="926.2" x2="498" y2="926.2" stroke="#333" stroke-width="0.7"/>
<text x="494.6" y="930.7" font-size="12.5" text-anchor="end" fill="#4d4d4d" font-weight="normal" >0.10</text>
<line x1="495.8" y1="899.6" x2="498" y2="899.6" stroke="#333" stroke-width="0.7"/>
<text x="494.6" y="904.1" font-size="12.5" text-anchor="end" fill="#4d4d4d" font-weight="normal" >0.15</text>
<rect x="513.8" y="937.2" width="32.9" height="42.7" fill="#8fd0fa"/>
<rect x="568.5" y="956.7" width="33.2" height="23.2" fill="#e8c190"/>
<line x1="530.2" y1="984.2" x2="530.2" y2="986.4000000000001" stroke="#333" stroke-width="0.7"/>
<line x1="585.1" y1="984.2" x2="585.1" y2="986.4000000000001" stroke="#333" stroke-width="0.7"/>
<line x1="530.6" y1="923.1" x2="585.3" y2="955.4" stroke="#8ee6cc" stroke-width="1.1"/>
<circle cx="530.6" cy="923.1" r="2" fill="#8ee6cc"/><circle cx="585.3" cy="955.4" r="2" fill="#8ee6cc"/>
<line x1="530.6" y1="939.6" x2="585.3" y2="957" stroke="#e8896a" stroke-width="1.1"/>
<circle cx="530.6" cy="939.6" r="2" fill="#e8896a"/><circle cx="585.3" cy="957" r="2" fill="#e8896a"/>
<line x1="530.6" y1="949" x2="585.3" y2="957.7" stroke="#7a5ccc" stroke-width="1.1"/>
<circle cx="530.6" cy="949" r="2" fill="#7a5ccc"/><circle cx="585.3" cy="957.7" r="2" fill="#7a5ccc"/>
<path d="M530.6,894.6 V892.6 H585.3 V894.6" fill="none" stroke="#666" stroke-width="0.6"/>
<text x="557.4" y="892.0" font-size="6.8" text-anchor="middle" fill="#333" font-weight="normal" >ns</text>
<text x="465.6" y="936.5" font-size="12.6" text-anchor="middle" fill="#111" transform="rotate(-90 465.6 936.5)">mean_proportion</text>
<text x="535.2" y="993" font-size="12.05" text-anchor="end" fill="#222" transform="rotate(-59 535.2 993)">sFGR_Larger</text>
<text x="590.4" y="992" font-size="12.05" text-anchor="end" fill="#222" transform="rotate(-59 590.4 992)">sFGR_Smaller</text>
<text x="626.3" y="924.5" font-size="12.7" text-anchor="start" fill="#111" font-weight="normal" >sample</text>
<line x1="626.3" y1="933.0" x2="636.3" y2="933.0" stroke="#e8896a" stroke-width="1.1"/><circle cx="631.3" cy="933.0" r="1.9" fill="#e8896a"/>
<text x="638.0" y="936.6" font-size="10.1" text-anchor="start" fill="#222" font-weight="normal" >SC01</text>
<line x1="626.3" y1="942.4" x2="636.3" y2="942.4" stroke="#8ee6cc" stroke-width="1.1"/><circle cx="631.3" cy="942.4" r="1.9" fill="#8ee6cc"/>
<text x="638.0" y="946.0" font-size="10.1" text-anchor="start" fill="#222" font-weight="normal" >SC03</text>
<line x1="626.3" y1="951.8" x2="636.3" y2="951.8" stroke="#7a5ccc" stroke-width="1.1"/><circle cx="631.3" cy="951.8" r="1.9" fill="#7a5ccc"/>
<text x="638.0" y="955.4" font-size="10.1" text-anchor="start" fill="#222" font-weight="normal" >SC06</text>
</svg></body></html>
